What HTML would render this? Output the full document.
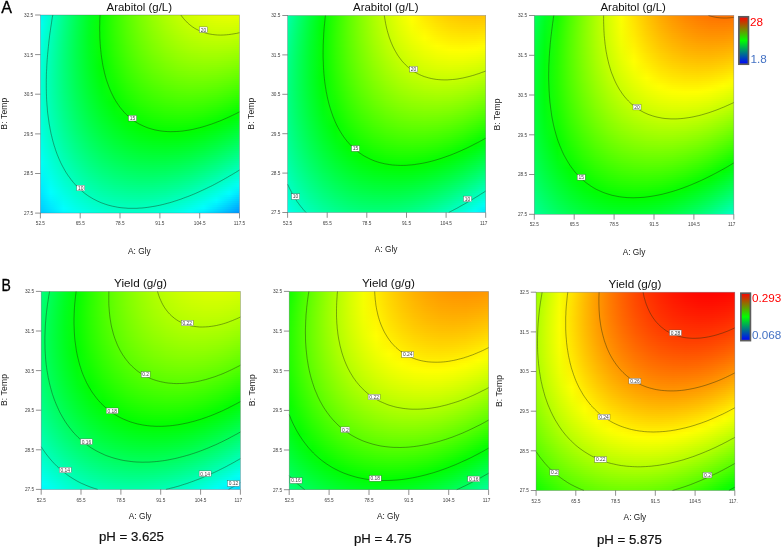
<!DOCTYPE html>
<html><head><meta charset="utf-8"><title>Response surface contour plots</title>
<style>
html,body{margin:0;padding:0;background:#fff}
body{width:783px;height:548px;position:relative;overflow:hidden;font-family:"Liberation Sans",sans-serif}
.f{position:absolute;overflow:hidden}
.f i{display:block;height:2px}
svg{position:absolute;left:0;top:0;will-change:transform}
text{font-family:"Liberation Sans",sans-serif}
.t{font-size:4.7px;fill:#3c3c3c}
.c{font-size:4.9px;fill:#444;text-anchor:middle}
.ax{font-size:8.3px;fill:#151515;text-anchor:middle}
.ay{font-size:8.6px;fill:#222;text-anchor:middle;letter-spacing:.1px}
.ti{font-size:11.45px;fill:#111;text-anchor:middle}
.tj{font-size:11.7px;fill:#111;text-anchor:middle}
.k{fill:none;stroke:#1a2a10;stroke-width:.55;stroke-opacity:.78}
.tk{stroke:#444;stroke-width:.6;fill:none}
.lb{fill:#fff;stroke:#444;stroke-width:.35}
.bd{fill:none;stroke:#556;stroke-width:.6;stroke-opacity:.55}
</style></head><body>
<div class="f" style="left:38px;top:13px;width:204px;height:203px"><i style="background:linear-gradient(90deg,#00f5ff,#00ffc9,#00ff8e,#00ff57,#00ff25,#0aff00,#33ff00,#59ff00,#7aff00,#97ff00,#b0ff00,#c4ff00,#d4ff00,#dfff00,#e7ff00,#e9ff00,#e8ff00)"></i><i style="background:linear-gradient(90deg,#00f7ff,#00ffc7,#00ff8d,#00ff56,#00ff24,#0aff00,#33ff00,#59ff00,#79ff00,#96ff00,#aeff00,#c2ff00,#d2ff00,#ddff00,#e4ff00,#e6ff00,#e5ff00)"></i><i style="background:linear-gradient(90deg,#00f9ff,#00ffc6,#00ff8b,#00ff55,#00ff23,#0aff00,#33ff00,#58ff00,#79ff00,#95ff00,#adff00,#c0ff00,#cfff00,#daff00,#e1ff00,#e3ff00,#e1ff00)"></i><i style="background:linear-gradient(90deg,#00fbff,#00ffc4,#00ff8a,#00ff54,#00ff23,#0aff00,#33ff00,#58ff00,#78ff00,#94ff00,#abff00,#beff00,#cdff00,#d8ff00,#deff00,#e0ff00,#ddff00)"></i><i style="background:linear-gradient(90deg,#00fdff,#00ffc3,#00ff89,#00ff54,#00ff22,#0aff00,#33ff00,#57ff00,#77ff00,#92ff00,#aaff00,#bcff00,#cbff00,#d5ff00,#dbff00,#ddff00,#daff00)"></i><i style="background:linear-gradient(90deg,#00ffff,#00ffc1,#00ff88,#00ff53,#00ff22,#0bff00,#33ff00,#56ff00,#76ff00,#91ff00,#a8ff00,#baff00,#c9ff00,#d2ff00,#d8ff00,#d9ff00,#d6ff00)"></i><i style="background:linear-gradient(90deg,#00fffd,#00ffc0,#00ff87,#00ff52,#00ff22,#0bff00,#32ff00,#56ff00,#75ff00,#90ff00,#a6ff00,#b8ff00,#c6ff00,#d0ff00,#d5ff00,#d6ff00,#d2ff00)"></i><i style="background:linear-gradient(90deg,#00fffc,#00ffbf,#00ff86,#00ff51,#00ff21,#0bff00,#32ff00,#55ff00,#74ff00,#8eff00,#a5ff00,#b6ff00,#c4ff00,#cdff00,#d2ff00,#d2ff00,#ceff00)"></i><i style="background:linear-gradient(90deg,#00fffa,#00ffbd,#00ff85,#00ff51,#00ff21,#0aff00,#32ff00,#54ff00,#73ff00,#8dff00,#a3ff00,#b4ff00,#c1ff00,#caff00,#cfff00,#cfff00,#cbff00)"></i><i style="background:linear-gradient(90deg,#00fff8,#00ffbc,#00ff84,#00ff50,#00ff21,#0aff00,#31ff00,#54ff00,#72ff00,#8bff00,#a1ff00,#b2ff00,#bfff00,#c7ff00,#cbff00,#cbff00,#c7ff00)"></i><i style="background:linear-gradient(90deg,#00fff7,#00ffbb,#00ff83,#00ff50,#00ff21,#0aff00,#31ff00,#53ff00,#70ff00,#8aff00,#9fff00,#b0ff00,#bcff00,#c4ff00,#c8ff00,#c8ff00,#c3ff00)"></i><i style="background:linear-gradient(90deg,#00fff5,#00ffba,#00ff82,#00ff4f,#00ff20,#0aff00,#30ff00,#52ff00,#6fff00,#88ff00,#9dff00,#adff00,#baff00,#c1ff00,#c5ff00,#c4ff00,#bfff00)"></i><i style="background:linear-gradient(90deg,#00fff4,#00ffb8,#00ff81,#00ff4f,#00ff20,#0aff00,#2fff00,#51ff00,#6eff00,#87ff00,#9bff00,#abff00,#b7ff00,#beff00,#c1ff00,#c0ff00,#bbff00)"></i><i style="background:linear-gradient(90deg,#00fff2,#00ffb7,#00ff81,#00ff4e,#00ff20,#09ff00,#2fff00,#50ff00,#6dff00,#85ff00,#99ff00,#a9ff00,#b4ff00,#bbff00,#beff00,#bcff00,#b6ff00)"></i><i style="background:linear-gradient(90deg,#00fff1,#00ffb6,#00ff80,#00ff4e,#00ff20,#09ff00,#2eff00,#4fff00,#6bff00,#83ff00,#97ff00,#a6ff00,#b1ff00,#b8ff00,#baff00,#b9ff00,#b2ff00)"></i><i style="background:linear-gradient(90deg,#00fff0,#00ffb5,#00ff7f,#00ff4e,#00ff20,#09ff00,#2dff00,#4eff00,#6aff00,#81ff00,#95ff00,#a4ff00,#aeff00,#b5ff00,#b7ff00,#b5ff00,#aeff00)"></i><i style="background:linear-gradient(90deg,#00ffef,#00ffb5,#00ff7f,#00ff4e,#00ff21,#08ff00,#2cff00,#4cff00,#68ff00,#7fff00,#93ff00,#a1ff00,#acff00,#b2ff00,#b3ff00,#b1ff00,#aaff00)"></i><i style="background:linear-gradient(90deg,#00ffed,#00ffb4,#00ff7e,#00ff4d,#00ff21,#08ff00,#2cff00,#4bff00,#67ff00,#7eff00,#90ff00,#9fff00,#a9ff00,#aeff00,#b0ff00,#adff00,#a5ff00)"></i><i style="background:linear-gradient(90deg,#00ffec,#00ffb3,#00ff7e,#00ff4d,#00ff21,#07ff00,#2bff00,#4aff00,#65ff00,#7cff00,#8eff00,#9cff00,#a6ff00,#abff00,#acff00,#a9ff00,#a1ff00)"></i><i style="background:linear-gradient(90deg,#00ffeb,#00ffb2,#00ff7e,#00ff4d,#00ff21,#06ff00,#2aff00,#49ff00,#63ff00,#7aff00,#8cff00,#99ff00,#a3ff00,#a8ff00,#a8ff00,#a5ff00,#9dff00)"></i><i style="background:linear-gradient(90deg,#00ffea,#00ffb1,#00ff7d,#00ff4d,#00ff22,#06ff00,#29ff00,#47ff00,#62ff00,#78ff00,#89ff00,#96ff00,#9fff00,#a4ff00,#a4ff00,#a0ff00,#98ff00)"></i><i style="background:linear-gradient(90deg,#00ffe9,#00ffb1,#00ff7d,#00ff4d,#00ff22,#05ff00,#28ff00,#46ff00,#60ff00,#75ff00,#87ff00,#94ff00,#9cff00,#a1ff00,#a1ff00,#9cff00,#94ff00)"></i><i style="background:linear-gradient(90deg,#00ffe8,#00ffb0,#00ff7d,#00ff4d,#00ff22,#04ff00,#26ff00,#44ff00,#5eff00,#73ff00,#84ff00,#91ff00,#99ff00,#9dff00,#9dff00,#98ff00,#8fff00)"></i><i style="background:linear-gradient(90deg,#00ffe7,#00ffb0,#00ff7c,#00ff4e,#00ff23,#03ff00,#25ff00,#43ff00,#5cff00,#71ff00,#82ff00,#8eff00,#96ff00,#99ff00,#99ff00,#94ff00,#8aff00)"></i><i style="background:linear-gradient(90deg,#00ffe6,#00ffaf,#00ff7c,#00ff4e,#00ff24,#02ff00,#24ff00,#41ff00,#5aff00,#6fff00,#7fff00,#8bff00,#93ff00,#96ff00,#95ff00,#8fff00,#86ff00)"></i><i style="background:linear-gradient(90deg,#00ffe6,#00ffaf,#00ff7c,#00ff4e,#00ff24,#01ff00,#23ff00,#40ff00,#58ff00,#6cff00,#7cff00,#88ff00,#8fff00,#92ff00,#91ff00,#8bff00,#81ff00)"></i><i style="background:linear-gradient(90deg,#00ffe5,#00ffae,#00ff7c,#00ff4e,#00ff25,#00ff00,#21ff00,#3eff00,#56ff00,#6aff00,#7aff00,#85ff00,#8cff00,#8eff00,#8dff00,#87ff00,#7cff00)"></i><i style="background:linear-gradient(90deg,#00ffe4,#00ffae,#00ff7c,#00ff4f,#00ff25,#00ff01,#20ff00,#3cff00,#54ff00,#68ff00,#77ff00,#82ff00,#88ff00,#8bff00,#88ff00,#82ff00,#77ff00)"></i><i style="background:linear-gradient(90deg,#00ffe4,#00ffae,#00ff7c,#00ff4f,#00ff26,#00ff02,#1eff00,#3aff00,#52ff00,#65ff00,#74ff00,#7fff00,#85ff00,#87ff00,#84ff00,#7dff00,#72ff00)"></i><i style="background:linear-gradient(90deg,#00ffe3,#00ffae,#00ff7c,#00ff50,#00ff27,#00ff03,#1dff00,#39ff00,#50ff00,#63ff00,#71ff00,#7bff00,#81ff00,#83ff00,#80ff00,#79ff00,#6dff00)"></i><i style="background:linear-gradient(90deg,#00ffe2,#00ffad,#00ff7d,#00ff50,#00ff28,#00ff04,#1bff00,#37ff00,#4dff00,#60ff00,#6eff00,#78ff00,#7eff00,#7fff00,#7cff00,#74ff00,#68ff00)"></i><i style="background:linear-gradient(90deg,#00ffe2,#00ffad,#00ff7d,#00ff51,#00ff29,#00ff05,#1aff00,#35ff00,#4bff00,#5dff00,#6bff00,#75ff00,#7aff00,#7bff00,#77ff00,#70ff00,#63ff00)"></i><i style="background:linear-gradient(90deg,#00ffe2,#00ffad,#00ff7d,#00ff51,#00ff2a,#00ff07,#18ff00,#33ff00,#49ff00,#5bff00,#68ff00,#71ff00,#76ff00,#77ff00,#73ff00,#6bff00,#5eff00)"></i><i style="background:linear-gradient(90deg,#00ffe1,#00ffad,#00ff7d,#00ff52,#00ff2b,#00ff08,#16ff00,#31ff00,#46ff00,#58ff00,#65ff00,#6eff00,#72ff00,#73ff00,#6eff00,#66ff00,#59ff00)"></i><i style="background:linear-gradient(90deg,#00ffe1,#00ffad,#00ff7e,#00ff53,#00ff2c,#00ff09,#15ff00,#2fff00,#44ff00,#55ff00,#62ff00,#6aff00,#6fff00,#6eff00,#6aff00,#61ff00,#54ff00)"></i><i style="background:linear-gradient(90deg,#00ffe1,#00ffad,#00ff7e,#00ff53,#00ff2d,#00ff0b,#13ff00,#2cff00,#41ff00,#52ff00,#5fff00,#67ff00,#6bff00,#6aff00,#65ff00,#5cff00,#4fff00)"></i><i style="background:linear-gradient(90deg,#00ffe0,#00ffad,#00ff7f,#00ff54,#00ff2e,#00ff0c,#11ff00,#2aff00,#3fff00,#4fff00,#5bff00,#63ff00,#67ff00,#66ff00,#61ff00,#57ff00,#49ff00)"></i><i style="background:linear-gradient(90deg,#00ffe0,#00ffae,#00ff7f,#00ff55,#00ff2f,#00ff0e,#0fff00,#28ff00,#3cff00,#4cff00,#58ff00,#60ff00,#63ff00,#62ff00,#5cff00,#52ff00,#44ff00)"></i><i style="background:linear-gradient(90deg,#00ffe0,#00ffae,#00ff80,#00ff56,#00ff31,#00ff10,#0dff00,#26ff00,#3aff00,#49ff00,#55ff00,#5cff00,#5fff00,#5dff00,#57ff00,#4dff00,#3fff00)"></i><i style="background:linear-gradient(90deg,#00ffe0,#00ffae,#00ff80,#00ff57,#00ff32,#00ff11,#0bff00,#23ff00,#37ff00,#46ff00,#51ff00,#58ff00,#5bff00,#59ff00,#53ff00,#48ff00,#39ff00)"></i><i style="background:linear-gradient(90deg,#00ffe0,#00ffae,#00ff81,#00ff58,#00ff33,#00ff13,#09ff00,#21ff00,#34ff00,#43ff00,#4eff00,#54ff00,#57ff00,#54ff00,#4eff00,#43ff00,#34ff00)"></i><i style="background:linear-gradient(90deg,#00ffe0,#00ffaf,#00ff82,#00ff59,#00ff35,#00ff15,#07ff00,#1eff00,#31ff00,#40ff00,#4bff00,#51ff00,#52ff00,#50ff00,#49ff00,#3eff00,#2eff00)"></i><i style="background:linear-gradient(90deg,#00ffe0,#00ffaf,#00ff83,#00ff5a,#00ff36,#00ff17,#05ff00,#1cff00,#2fff00,#3dff00,#47ff00,#4dff00,#4eff00,#4bff00,#44ff00,#38ff00,#28ff00)"></i><i style="background:linear-gradient(90deg,#00ffe0,#00ffb0,#00ff83,#00ff5b,#00ff38,#00ff18,#03ff00,#19ff00,#2cff00,#3aff00,#43ff00,#49ff00,#4aff00,#46ff00,#3fff00,#33ff00,#23ff00)"></i><i style="background:linear-gradient(90deg,#00ffe1,#00ffb0,#00ff84,#00ff5d,#00ff39,#00ff1a,#00ff00,#17ff00,#29ff00,#36ff00,#40ff00,#45ff00,#45ff00,#42ff00,#3aff00,#2eff00,#1dff00)"></i><i style="background:linear-gradient(90deg,#00ffe1,#00ffb1,#00ff85,#00ff5e,#00ff3b,#00ff1c,#00ff02,#14ff00,#26ff00,#33ff00,#3cff00,#41ff00,#41ff00,#3dff00,#35ff00,#28ff00,#17ff00)"></i><i style="background:linear-gradient(90deg,#00ffe1,#00ffb2,#00ff86,#00ff5f,#00ff3d,#00ff1e,#00ff04,#11ff00,#23ff00,#30ff00,#38ff00,#3dff00,#3dff00,#38ff00,#30ff00,#23ff00,#11ff00)"></i><i style="background:linear-gradient(90deg,#00ffe1,#00ffb2,#00ff87,#00ff61,#00ff3e,#00ff20,#00ff07,#0eff00,#1fff00,#2cff00,#34ff00,#38ff00,#38ff00,#33ff00,#2aff00,#1dff00,#0bff00)"></i><i style="background:linear-gradient(90deg,#00ffe2,#00ffb3,#00ff88,#00ff62,#00ff40,#00ff23,#00ff09,#0cff00,#1cff00,#29ff00,#31ff00,#34ff00,#34ff00,#2fff00,#25ff00,#18ff00,#06ff00)"></i><i style="background:linear-gradient(90deg,#00ffe2,#00ffb4,#00ff8a,#00ff64,#00ff42,#00ff25,#00ff0c,#09ff00,#19ff00,#25ff00,#2dff00,#30ff00,#2fff00,#2aff00,#20ff00,#12ff00,#00ff00)"></i><i style="background:linear-gradient(90deg,#00ffe3,#00ffb5,#00ff8b,#00ff65,#00ff44,#00ff27,#00ff0e,#06ff00,#16ff00,#21ff00,#29ff00,#2cff00,#2aff00,#25ff00,#1bff00,#0cff00,#00ff06)"></i><i style="background:linear-gradient(90deg,#00ffe3,#00ffb6,#00ff8c,#00ff67,#00ff46,#00ff29,#00ff11,#03ff00,#12ff00,#1eff00,#25ff00,#27ff00,#26ff00,#20ff00,#15ff00,#06ff00,#00ff0d)"></i><i style="background:linear-gradient(90deg,#00ffe4,#00ffb7,#00ff8d,#00ff68,#00ff48,#00ff2c,#00ff14,#00ff00,#0fff00,#1aff00,#21ff00,#23ff00,#21ff00,#1aff00,#10ff00,#01ff00,#00ff13)"></i><i style="background:linear-gradient(90deg,#00ffe5,#00ffb8,#00ff8f,#00ff6a,#00ff4a,#00ff2e,#00ff16,#00ff03,#0cff00,#16ff00,#1cff00,#1eff00,#1cff00,#15ff00,#0aff00,#00ff05,#00ff19)"></i><i style="background:linear-gradient(90deg,#00ffe5,#00ffb9,#00ff90,#00ff6c,#00ff4c,#00ff30,#00ff19,#00ff06,#08ff00,#12ff00,#18ff00,#1aff00,#17ff00,#10ff00,#05ff00,#00ff0b,#00ff1f)"></i><i style="background:linear-gradient(90deg,#00ffe6,#00ffba,#00ff92,#00ff6e,#00ff4e,#00ff33,#00ff1c,#00ff0a,#05ff00,#0fff00,#14ff00,#15ff00,#12ff00,#0bff00,#00ff01,#00ff11,#00ff25)"></i><i style="background:linear-gradient(90deg,#00ffe7,#00ffbb,#00ff93,#00ff70,#00ff50,#00ff36,#00ff1f,#00ff0d,#01ff00,#0bff00,#10ff00,#11ff00,#0dff00,#05ff00,#00ff07,#00ff17,#00ff2c)"></i><i style="background:linear-gradient(90deg,#00ffe8,#00ffbc,#00ff95,#00ff71,#00ff53,#00ff38,#00ff22,#00ff10,#00ff03,#07ff00,#0bff00,#0cff00,#08ff00,#00ff00,#00ff0c,#00ff1d,#00ff32)"></i><i style="background:linear-gradient(90deg,#00ffe9,#00ffbd,#00ff96,#00ff73,#00ff55,#00ff3b,#00ff25,#00ff13,#00ff06,#03ff00,#07ff00,#07ff00,#03ff00,#00ff05,#00ff12,#00ff23,#00ff39)"></i><i style="background:linear-gradient(90deg,#00ffea,#00ffbf,#00ff98,#00ff75,#00ff57,#00ff3d,#00ff28,#00ff17,#00ff0a,#00ff02,#03ff00,#03ff00,#00ff02,#00ff0b,#00ff18,#00ff29,#00ff3f)"></i><i style="background:linear-gradient(90deg,#00ffeb,#00ffc0,#00ff9a,#00ff77,#00ff5a,#00ff40,#00ff2b,#00ff1a,#00ff0e,#00ff06,#00ff02,#00ff02,#00ff07,#00ff10,#00ff1e,#00ff30,#00ff46)"></i><i style="background:linear-gradient(90deg,#00ffec,#00ffc1,#00ff9b,#00ff7a,#00ff5c,#00ff43,#00ff2e,#00ff1e,#00ff12,#00ff0a,#00ff06,#00ff07,#00ff0c,#00ff16,#00ff24,#00ff36,#00ff4c)"></i><i style="background:linear-gradient(90deg,#00ffed,#00ffc3,#00ff9d,#00ff7c,#00ff5f,#00ff46,#00ff31,#00ff21,#00ff16,#00ff0e,#00ff0b,#00ff0c,#00ff12,#00ff1b,#00ff2a,#00ff3c,#00ff53)"></i><i style="background:linear-gradient(90deg,#00ffee,#00ffc4,#00ff9f,#00ff7e,#00ff61,#00ff49,#00ff35,#00ff25,#00ff19,#00ff12,#00ff10,#00ff11,#00ff17,#00ff21,#00ff30,#00ff43,#00ff5a)"></i><i style="background:linear-gradient(90deg,#00ffef,#00ffc6,#00ffa1,#00ff80,#00ff64,#00ff4c,#00ff38,#00ff29,#00ff1d,#00ff17,#00ff14,#00ff16,#00ff1c,#00ff27,#00ff36,#00ff49,#00ff60)"></i><i style="background:linear-gradient(90deg,#00fff1,#00ffc8,#00ffa3,#00ff83,#00ff67,#00ff4f,#00ff3b,#00ff2c,#00ff22,#00ff1b,#00ff19,#00ff1b,#00ff22,#00ff2d,#00ff3c,#00ff4f,#00ff67)"></i><i style="background:linear-gradient(90deg,#00fff2,#00ffc9,#00ffa5,#00ff85,#00ff69,#00ff52,#00ff3f,#00ff30,#00ff26,#00ff20,#00ff1e,#00ff20,#00ff27,#00ff32,#00ff42,#00ff56,#00ff6e)"></i><i style="background:linear-gradient(90deg,#00fff3,#00ffcb,#00ffa7,#00ff87,#00ff6c,#00ff55,#00ff42,#00ff34,#00ff2a,#00ff24,#00ff23,#00ff26,#00ff2d,#00ff38,#00ff48,#00ff5d,#00ff75)"></i><i style="background:linear-gradient(90deg,#00fff5,#00ffcd,#00ffa9,#00ff8a,#00ff6f,#00ff58,#00ff46,#00ff38,#00ff2e,#00ff29,#00ff28,#00ff2b,#00ff32,#00ff3e,#00ff4f,#00ff63,#00ff7c)"></i><i style="background:linear-gradient(90deg,#00fff6,#00ffcf,#00ffab,#00ff8c,#00ff72,#00ff5b,#00ff49,#00ff3c,#00ff32,#00ff2d,#00ff2c,#00ff30,#00ff38,#00ff44,#00ff55,#00ff6a,#00ff83)"></i><i style="background:linear-gradient(90deg,#00fff8,#00ffd1,#00ffae,#00ff8f,#00ff75,#00ff5f,#00ff4d,#00ff40,#00ff37,#00ff32,#00ff31,#00ff35,#00ff3e,#00ff4a,#00ff5b,#00ff71,#00ff8a)"></i><i style="background:linear-gradient(90deg,#00fffa,#00ffd3,#00ffb0,#00ff92,#00ff78,#00ff62,#00ff51,#00ff44,#00ff3b,#00ff37,#00ff37,#00ff3b,#00ff43,#00ff50,#00ff62,#00ff77,#00ff91)"></i><i style="background:linear-gradient(90deg,#00fffb,#00ffd5,#00ffb2,#00ff94,#00ff7b,#00ff65,#00ff54,#00ff48,#00ff3f,#00ff3b,#00ff3c,#00ff40,#00ff49,#00ff57,#00ff68,#00ff7e,#00ff98)"></i><i style="background:linear-gradient(90deg,#00fffd,#00ffd7,#00ffb5,#00ff97,#00ff7e,#00ff69,#00ff58,#00ff4c,#00ff44,#00ff40,#00ff41,#00ff46,#00ff4f,#00ff5d,#00ff6f,#00ff85,#00ffa0)"></i><i style="background:linear-gradient(90deg,#00ffff,#00ffd9,#00ffb7,#00ff9a,#00ff81,#00ff6c,#00ff5c,#00ff50,#00ff48,#00ff45,#00ff46,#00ff4b,#00ff55,#00ff63,#00ff75,#00ff8c,#00ffa7)"></i><i style="background:linear-gradient(90deg,#00feff,#00ffdb,#00ffba,#00ff9d,#00ff84,#00ff70,#00ff60,#00ff54,#00ff4d,#00ff4a,#00ff4b,#00ff51,#00ff5b,#00ff69,#00ff7c,#00ff93,#00ffae)"></i><i style="background:linear-gradient(90deg,#00fcff,#00ffdd,#00ffbc,#00ffa0,#00ff87,#00ff73,#00ff64,#00ff58,#00ff52,#00ff4f,#00ff51,#00ff57,#00ff61,#00ff70,#00ff83,#00ff9a,#00ffb6)"></i><i style="background:linear-gradient(90deg,#00faff,#00ffdf,#00ffbf,#00ffa3,#00ff8b,#00ff77,#00ff68,#00ff5d,#00ff56,#00ff54,#00ff56,#00ff5c,#00ff67,#00ff76,#00ff89,#00ffa1,#00ffbd)"></i><i style="background:linear-gradient(90deg,#00f8ff,#00ffe2,#00ffc1,#00ffa6,#00ff8e,#00ff7b,#00ff6c,#00ff61,#00ff5b,#00ff59,#00ff5b,#00ff62,#00ff6d,#00ff7c,#00ff90,#00ffa8,#00ffc5)"></i><i style="background:linear-gradient(90deg,#00f6ff,#00ffe4,#00ffc4,#00ffa9,#00ff91,#00ff7e,#00ff70,#00ff66,#00ff60,#00ff5e,#00ff61,#00ff68,#00ff73,#00ff83,#00ff97,#00ffaf,#00ffcc)"></i><i style="background:linear-gradient(90deg,#00f4ff,#00ffe6,#00ffc7,#00ffac,#00ff95,#00ff82,#00ff74,#00ff6a,#00ff65,#00ff63,#00ff66,#00ff6e,#00ff79,#00ff8a,#00ff9e,#00ffb7,#00ffd4)"></i><i style="background:linear-gradient(90deg,#00f2ff,#00ffe9,#00ffca,#00ffaf,#00ff98,#00ff86,#00ff78,#00ff6f,#00ff69,#00ff68,#00ff6c,#00ff74,#00ff80,#00ff90,#00ffa5,#00ffbe,#00ffdb)"></i><i style="background:linear-gradient(90deg,#00efff,#00ffeb,#00ffcd,#00ffb2,#00ff9c,#00ff8a,#00ff7c,#00ff73,#00ff6e,#00ff6e,#00ff72,#00ff7a,#00ff86,#00ff97,#00ffac,#00ffc5,#00ffe3)"></i><i style="background:linear-gradient(90deg,#00edff,#00ffee,#00ffcf,#00ffb5,#00ff9f,#00ff8e,#00ff81,#00ff78,#00ff73,#00ff73,#00ff77,#00ff80,#00ff8c,#00ff9e,#00ffb3,#00ffcd,#00ffeb)"></i><i style="background:linear-gradient(90deg,#00ebff,#00fff1,#00ffd2,#00ffb9,#00ffa3,#00ff92,#00ff85,#00ff7d,#00ff78,#00ff78,#00ff7d,#00ff86,#00ff93,#00ffa4,#00ffba,#00ffd4,#00fff3)"></i><i style="background:linear-gradient(90deg,#00e9ff,#00fff3,#00ffd5,#00ffbc,#00ffa7,#00ff96,#00ff89,#00ff81,#00ff7d,#00ff7e,#00ff83,#00ff8c,#00ff99,#00ffab,#00ffc1,#00ffdc,#00fffa)"></i><i style="background:linear-gradient(90deg,#00e6ff,#00fff6,#00ffd8,#00ffbf,#00ffab,#00ff9a,#00ff8e,#00ff86,#00ff83,#00ff83,#00ff89,#00ff92,#00ffa0,#00ffb2,#00ffc8,#00ffe3,#00fcff)"></i><i style="background:linear-gradient(90deg,#00e4ff,#00fff9,#00ffdc,#00ffc3,#00ffae,#00ff9e,#00ff92,#00ff8b,#00ff88,#00ff89,#00ff8e,#00ff98,#00ffa6,#00ffb9,#00ffd0,#00ffeb,#00f4ff)"></i><i style="background:linear-gradient(90deg,#00e1ff,#00fffc,#00ffdf,#00ffc6,#00ffb2,#00ffa2,#00ff97,#00ff90,#00ff8d,#00ff8f,#00ff94,#00ff9f,#00ffad,#00ffc0,#00ffd7,#00fff2,#00ecff)"></i><i style="background:linear-gradient(90deg,#00dfff,#00fffe,#00ffe2,#00ffca,#00ffb6,#00ffa7,#00ff9c,#00ff95,#00ff92,#00ff94,#00ff9a,#00ffa5,#00ffb4,#00ffc7,#00ffde,#00fffa,#00e4ff)"></i><i style="background:linear-gradient(90deg,#00dcff,#00fdff,#00ffe5,#00ffcd,#00ffba,#00ffab,#00ffa0,#00ff9a,#00ff98,#00ff9a,#00ffa0,#00ffab,#00ffba,#00ffce,#00ffe6,#00fcff,#00dcff)"></i><i style="background:linear-gradient(90deg,#00daff,#00faff,#00ffe9,#00ffd1,#00ffbe,#00ffaf,#00ffa5,#00ff9f,#00ff9d,#00ffa0,#00ffa6,#00ffb2,#00ffc1,#00ffd5,#00ffed,#00f4ff,#00d3ff)"></i><i style="background:linear-gradient(90deg,#00d7ff,#00f7ff,#00ffec,#00ffd5,#00ffc2,#00ffb4,#00ffaa,#00ffa4,#00ffa2,#00ffa5,#00ffad,#00ffb8,#00ffc8,#00ffdc,#00fff5,#00ecff,#00cbff)"></i><i style="background:linear-gradient(90deg,#00d4ff,#00f4ff,#00ffef,#00ffd9,#00ffc6,#00ffb8,#00ffae,#00ffa9,#00ffa8,#00ffab,#00ffb3,#00ffbf,#00ffcf,#00ffe3,#00fffc,#00e4ff,#00c3ff)"></i><i style="background:linear-gradient(90deg,#00d1ff,#00f0ff,#00fff3,#00ffdc,#00ffca,#00ffbd,#00ffb3,#00ffae,#00ffae,#00ffb1,#00ffb9,#00ffc5,#00ffd6,#00ffeb,#00faff,#00dcff,#00bbff)"></i><i style="background:linear-gradient(90deg,#00cfff,#00edff,#00fff6,#00ffe0,#00ffcf,#00ffc1,#00ffb8,#00ffb4,#00ffb3,#00ffb7,#00ffbf,#00ffcc,#00ffdd,#00fff2,#00f2ff,#00d4ff,#00b2ff)"></i><i style="background:linear-gradient(90deg,#00ccff,#00eaff,#00fffa,#00ffe4,#00ffd3,#00ffc6,#00ffbd,#00ffb9,#00ffb9,#00ffbd,#00ffc6,#00ffd3,#00ffe4,#00fff9,#00ebff,#00ccff,#00aaff)"></i><i style="background:linear-gradient(90deg,#00c9ff,#00e7ff,#00fffe,#00ffe8,#00ffd7,#00ffcb,#00ffc2,#00ffbe,#00ffbe,#00ffc3,#00ffcc,#00ffd9,#00ffeb,#00fdff,#00e3ff,#00c4ff,#00a1ff)"></i><i style="background:linear-gradient(90deg,#00c6ff,#00e3ff,#00fdff,#00ffec,#00ffdc,#00ffcf,#00ffc7,#00ffc4,#00ffc4,#00ffc9,#00ffd3,#00ffe0,#00fff2,#00f6ff,#00dbff,#00bcff,#0099ff)"></i><i style="background:linear-gradient(90deg,#00c3ff,#00e0ff,#00f9ff,#00fff0,#00ffe0,#00ffd4,#00ffcc,#00ffc9,#00ffca,#00ffcf,#00ffd9,#00ffe7,#00fff9,#00eeff,#00d3ff,#00b4ff,#0090ff)"></i><i style="background:linear-gradient(90deg,#00c0ff,#00ddff,#00f5ff,#00fff5,#00ffe5,#00ffd9,#00ffd2,#00ffcf,#00ffd0,#00ffd6,#00ffe0,#00ffee,#00fdff,#00e7ff,#00cbff,#00acff,#0088ff)"></i><i style="background:linear-gradient(90deg,#00bcff,#00d9ff,#00f1ff,#00fff9,#00ffe9,#00ffde,#00ffd7,#00ffd4,#00ffd6,#00ffdc,#00ffe6,#00fff5,#00f6ff,#00dfff,#00c3ff,#00a3ff,#007fff)"></i></div>
<div class="f" style="left:285px;top:13px;width:203px;height:202px"><i style="background:linear-gradient(90deg,#00ffb9,#00ff79,#00ff3e,#00ff06,#2cff00,#5bff00,#85ff00,#abff00,#cdff00,#eaff00,#fffb00,#ffe700,#ffd700,#ffcb00,#ffc300,#ffc000,#ffc100)"></i><i style="background:linear-gradient(90deg,#00ffb7,#00ff77,#00ff3c,#00ff05,#2dff00,#5bff00,#85ff00,#abff00,#ccff00,#e9ff00,#fffd00,#ffe900,#ffd900,#ffcd00,#ffc600,#ffc300,#ffc500)"></i><i style="background:linear-gradient(90deg,#00ffb5,#00ff76,#00ff3b,#00ff04,#2eff00,#5cff00,#85ff00,#aaff00,#cbff00,#e7ff00,#fffe00,#ffea00,#ffdb00,#ffd000,#ffc900,#ffc600,#ffc800)"></i><i style="background:linear-gradient(90deg,#00ffb3,#00ff74,#00ff3a,#00ff04,#2eff00,#5cff00,#85ff00,#aaff00,#caff00,#e6ff00,#feff00,#ffec00,#ffdd00,#ffd200,#ffcc00,#ffca00,#ffcc00)"></i><i style="background:linear-gradient(90deg,#00ffb1,#00ff73,#00ff38,#00ff03,#2fff00,#5cff00,#85ff00,#a9ff00,#c9ff00,#e5ff00,#fdff00,#ffee00,#ffdf00,#ffd500,#ffcf00,#ffcd00,#ffcf00)"></i><i style="background:linear-gradient(90deg,#00ffaf,#00ff71,#00ff37,#00ff02,#2fff00,#5cff00,#84ff00,#a9ff00,#c8ff00,#e4ff00,#fbff00,#fff000,#ffe200,#ffd800,#ffd200,#ffd000,#ffd300)"></i><i style="background:linear-gradient(90deg,#00ffad,#00ff70,#00ff36,#00ff01,#30ff00,#5cff00,#84ff00,#a8ff00,#c7ff00,#e2ff00,#f9ff00,#fff200,#ffe400,#ffda00,#ffd500,#ffd400,#ffd700)"></i><i style="background:linear-gradient(90deg,#00ffac,#00ff6e,#00ff35,#00ff00,#30ff00,#5cff00,#84ff00,#a7ff00,#c6ff00,#e1ff00,#f7ff00,#fff400,#ffe700,#ffdd00,#ffd800,#ffd700,#ffdb00)"></i><i style="background:linear-gradient(90deg,#00ffaa,#00ff6d,#00ff34,#00ff00,#30ff00,#5cff00,#83ff00,#a6ff00,#c5ff00,#e0ff00,#f6ff00,#fff700,#ffe900,#ffe000,#ffdb00,#ffdb00,#ffdf00)"></i><i style="background:linear-gradient(90deg,#00ffa8,#00ff6c,#00ff33,#01ff00,#30ff00,#5cff00,#83ff00,#a6ff00,#c4ff00,#deff00,#f4ff00,#fff900,#ffec00,#ffe300,#ffde00,#ffde00,#ffe300)"></i><i style="background:linear-gradient(90deg,#00ffa7,#00ff6a,#00ff32,#01ff00,#31ff00,#5cff00,#82ff00,#a5ff00,#c3ff00,#ddff00,#f2ff00,#fffb00,#ffee00,#ffe600,#ffe200,#ffe200,#ffe700)"></i><i style="background:linear-gradient(90deg,#00ffa5,#00ff69,#00ff32,#02ff00,#31ff00,#5bff00,#82ff00,#a4ff00,#c2ff00,#dbff00,#f0ff00,#fffd00,#fff100,#ffe900,#ffe500,#ffe600,#ffeb00)"></i><i style="background:linear-gradient(90deg,#00ffa4,#00ff68,#00ff31,#02ff00,#31ff00,#5bff00,#81ff00,#a3ff00,#c0ff00,#d9ff00,#eeff00,#feff00,#fff400,#ffec00,#ffe900,#ffe900,#ffef00)"></i><i style="background:linear-gradient(90deg,#00ffa2,#00ff67,#00ff30,#03ff00,#31ff00,#5bff00,#81ff00,#a2ff00,#bfff00,#d8ff00,#ecff00,#fcff00,#fff600,#ffef00,#ffec00,#ffed00,#fff300)"></i><i style="background:linear-gradient(90deg,#00ffa1,#00ff66,#00ff2f,#03ff00,#31ff00,#5aff00,#80ff00,#a1ff00,#bdff00,#d6ff00,#eaff00,#f9ff00,#fff900,#fff200,#ffef00,#fff100,#fff700)"></i><i style="background:linear-gradient(90deg,#00ffa0,#00ff65,#00ff2f,#03ff00,#31ff00,#5aff00,#7fff00,#a0ff00,#bcff00,#d4ff00,#e8ff00,#f7ff00,#fffc00,#fff500,#fff300,#fff500,#fffb00)"></i><i style="background:linear-gradient(90deg,#00ff9e,#00ff64,#00ff2e,#03ff00,#31ff00,#5aff00,#7eff00,#9eff00,#baff00,#d2ff00,#e5ff00,#f4ff00,#ffff00,#fff900,#fff700,#fff900,#feff00)"></i><i style="background:linear-gradient(90deg,#00ff9d,#00ff63,#00ff2e,#04ff00,#30ff00,#59ff00,#7dff00,#9dff00,#b9ff00,#d0ff00,#e3ff00,#f2ff00,#fcff00,#fffc00,#fffa00,#fffd00,#faff00)"></i><i style="background:linear-gradient(90deg,#00ff9c,#00ff63,#00ff2d,#04ff00,#30ff00,#58ff00,#7cff00,#9cff00,#b7ff00,#ceff00,#e1ff00,#efff00,#f9ff00,#ffff00,#fffe00,#fdff00,#f6ff00)"></i><i style="background:linear-gradient(90deg,#00ff9b,#00ff62,#00ff2d,#04ff00,#30ff00,#58ff00,#7bff00,#9bff00,#b6ff00,#ccff00,#deff00,#ecff00,#f6ff00,#fbff00,#fcff00,#f9ff00,#f1ff00)"></i><i style="background:linear-gradient(90deg,#00ff9a,#00ff61,#00ff2d,#04ff00,#30ff00,#57ff00,#7aff00,#99ff00,#b4ff00,#caff00,#dcff00,#eaff00,#f3ff00,#f8ff00,#f8ff00,#f5ff00,#edff00)"></i><i style="background:linear-gradient(90deg,#00ff99,#00ff60,#00ff2c,#04ff00,#2fff00,#56ff00,#79ff00,#98ff00,#b2ff00,#c8ff00,#daff00,#e7ff00,#f0ff00,#f4ff00,#f5ff00,#f1ff00,#e8ff00)"></i><i style="background:linear-gradient(90deg,#00ff98,#00ff60,#00ff2c,#04ff00,#2fff00,#56ff00,#78ff00,#96ff00,#b0ff00,#c6ff00,#d7ff00,#e4ff00,#edff00,#f1ff00,#f1ff00,#ecff00,#e4ff00)"></i><i style="background:linear-gradient(90deg,#00ff97,#00ff5f,#00ff2c,#03ff00,#2eff00,#55ff00,#77ff00,#95ff00,#aeff00,#c4ff00,#d4ff00,#e1ff00,#e9ff00,#edff00,#edff00,#e8ff00,#dfff00)"></i><i style="background:linear-gradient(90deg,#00ff96,#00ff5f,#00ff2c,#03ff00,#2eff00,#54ff00,#76ff00,#93ff00,#acff00,#c1ff00,#d2ff00,#deff00,#e6ff00,#e9ff00,#e9ff00,#e4ff00,#daff00)"></i><i style="background:linear-gradient(90deg,#00ff96,#00ff5e,#00ff2c,#03ff00,#2dff00,#53ff00,#74ff00,#92ff00,#aaff00,#bfff00,#cfff00,#dbff00,#e3ff00,#e6ff00,#e5ff00,#dfff00,#d5ff00)"></i><i style="background:linear-gradient(90deg,#00ff95,#00ff5e,#00ff2c,#03ff00,#2cff00,#52ff00,#73ff00,#90ff00,#a8ff00,#bdff00,#ccff00,#d8ff00,#dfff00,#e2ff00,#e0ff00,#dbff00,#d1ff00)"></i><i style="background:linear-gradient(90deg,#00ff94,#00ff5e,#00ff2c,#02ff00,#2cff00,#51ff00,#72ff00,#8eff00,#a6ff00,#baff00,#caff00,#d5ff00,#dcff00,#deff00,#dcff00,#d6ff00,#ccff00)"></i><i style="background:linear-gradient(90deg,#00ff93,#00ff5d,#00ff2c,#02ff00,#2bff00,#50ff00,#70ff00,#8cff00,#a4ff00,#b8ff00,#c7ff00,#d2ff00,#d8ff00,#daff00,#d8ff00,#d2ff00,#c7ff00)"></i><i style="background:linear-gradient(90deg,#00ff93,#00ff5d,#00ff2c,#01ff00,#2aff00,#4fff00,#6fff00,#8aff00,#a2ff00,#b5ff00,#c4ff00,#ceff00,#d4ff00,#d6ff00,#d4ff00,#cdff00,#c2ff00)"></i><i style="background:linear-gradient(90deg,#00ff92,#00ff5d,#00ff2c,#01ff00,#29ff00,#4dff00,#6dff00,#89ff00,#a0ff00,#b2ff00,#c1ff00,#cbff00,#d1ff00,#d2ff00,#cfff00,#c8ff00,#bdff00)"></i><i style="background:linear-gradient(90deg,#00ff92,#00ff5d,#00ff2c,#00ff00,#28ff00,#4cff00,#6cff00,#87ff00,#9dff00,#b0ff00,#beff00,#c8ff00,#cdff00,#ceff00,#cbff00,#c4ff00,#b8ff00)"></i><i style="background:linear-gradient(90deg,#00ff91,#00ff5d,#00ff2c,#00ff00,#27ff00,#4bff00,#6aff00,#85ff00,#9bff00,#adff00,#bbff00,#c4ff00,#c9ff00,#caff00,#c7ff00,#bfff00,#b2ff00)"></i><i style="background:linear-gradient(90deg,#00ff91,#00ff5d,#00ff2d,#00ff01,#26ff00,#49ff00,#68ff00,#83ff00,#99ff00,#aaff00,#b8ff00,#c1ff00,#c6ff00,#c6ff00,#c2ff00,#baff00,#adff00)"></i><i style="background:linear-gradient(90deg,#00ff91,#00ff5d,#00ff2d,#00ff02,#25ff00,#48ff00,#66ff00,#80ff00,#96ff00,#a8ff00,#b5ff00,#bdff00,#c2ff00,#c2ff00,#beff00,#b5ff00,#a8ff00)"></i><i style="background:linear-gradient(90deg,#00ff90,#00ff5d,#00ff2d,#00ff02,#24ff00,#47ff00,#65ff00,#7eff00,#94ff00,#a5ff00,#b1ff00,#baff00,#beff00,#beff00,#b9ff00,#b0ff00,#a3ff00)"></i><i style="background:linear-gradient(90deg,#00ff90,#00ff5d,#00ff2e,#00ff03,#23ff00,#45ff00,#63ff00,#7cff00,#91ff00,#a2ff00,#aeff00,#b6ff00,#baff00,#b9ff00,#b4ff00,#abff00,#9dff00)"></i><i style="background:linear-gradient(90deg,#00ff90,#00ff5d,#00ff2f,#00ff04,#22ff00,#43ff00,#61ff00,#7aff00,#8eff00,#9fff00,#abff00,#b3ff00,#b6ff00,#b5ff00,#b0ff00,#a6ff00,#98ff00)"></i><i style="background:linear-gradient(90deg,#00ff90,#00ff5d,#00ff2f,#00ff05,#21ff00,#42ff00,#5fff00,#77ff00,#8cff00,#9cff00,#a7ff00,#afff00,#b2ff00,#b0ff00,#abff00,#a1ff00,#93ff00)"></i><i style="background:linear-gradient(90deg,#00ff90,#00ff5e,#00ff30,#00ff06,#1fff00,#40ff00,#5dff00,#75ff00,#89ff00,#99ff00,#a4ff00,#abff00,#aeff00,#acff00,#a6ff00,#9cff00,#8dff00)"></i><i style="background:linear-gradient(90deg,#00ff90,#00ff5e,#00ff30,#00ff07,#1eff00,#3eff00,#5bff00,#73ff00,#86ff00,#96ff00,#a1ff00,#a7ff00,#aaff00,#a8ff00,#a1ff00,#97ff00,#88ff00)"></i><i style="background:linear-gradient(90deg,#00ff90,#00ff5e,#00ff31,#00ff08,#1cff00,#3dff00,#59ff00,#70ff00,#83ff00,#92ff00,#9dff00,#a3ff00,#a5ff00,#a3ff00,#9cff00,#91ff00,#82ff00)"></i><i style="background:linear-gradient(90deg,#00ff90,#00ff5f,#00ff32,#00ff09,#1bff00,#3bff00,#56ff00,#6eff00,#81ff00,#8fff00,#99ff00,#9fff00,#a1ff00,#9eff00,#97ff00,#8cff00,#7cff00)"></i><i style="background:linear-gradient(90deg,#00ff90,#00ff5f,#00ff33,#00ff0b,#19ff00,#39ff00,#54ff00,#6bff00,#7eff00,#8cff00,#96ff00,#9bff00,#9dff00,#9aff00,#92ff00,#87ff00,#77ff00)"></i><i style="background:linear-gradient(90deg,#00ff90,#00ff60,#00ff34,#00ff0c,#18ff00,#37ff00,#52ff00,#68ff00,#7bff00,#89ff00,#92ff00,#97ff00,#98ff00,#95ff00,#8dff00,#81ff00,#71ff00)"></i><i style="background:linear-gradient(90deg,#00ff91,#00ff61,#00ff35,#00ff0d,#16ff00,#35ff00,#50ff00,#66ff00,#78ff00,#85ff00,#8eff00,#93ff00,#94ff00,#90ff00,#88ff00,#7cff00,#6bff00)"></i><i style="background:linear-gradient(90deg,#00ff91,#00ff61,#00ff36,#00ff0e,#14ff00,#33ff00,#4dff00,#63ff00,#75ff00,#82ff00,#8bff00,#8fff00,#8fff00,#8bff00,#83ff00,#76ff00,#65ff00)"></i><i style="background:linear-gradient(90deg,#00ff91,#00ff62,#00ff37,#00ff10,#13ff00,#31ff00,#4bff00,#60ff00,#71ff00,#7eff00,#87ff00,#8bff00,#8bff00,#86ff00,#7eff00,#71ff00,#5fff00)"></i><i style="background:linear-gradient(90deg,#00ff92,#00ff63,#00ff38,#00ff11,#11ff00,#2fff00,#48ff00,#5dff00,#6eff00,#7bff00,#83ff00,#87ff00,#86ff00,#82ff00,#78ff00,#6bff00,#59ff00)"></i><i style="background:linear-gradient(90deg,#00ff92,#00ff63,#00ff39,#00ff13,#0fff00,#2cff00,#46ff00,#5aff00,#6bff00,#77ff00,#7fff00,#82ff00,#82ff00,#7dff00,#73ff00,#65ff00,#53ff00)"></i><i style="background:linear-gradient(90deg,#00ff93,#00ff64,#00ff3a,#00ff14,#0dff00,#2aff00,#43ff00,#57ff00,#68ff00,#73ff00,#7bff00,#7eff00,#7dff00,#78ff00,#6eff00,#60ff00,#4dff00)"></i><i style="background:linear-gradient(90deg,#00ff93,#00ff65,#00ff3b,#00ff16,#0bff00,#28ff00,#40ff00,#54ff00,#64ff00,#70ff00,#77ff00,#7aff00,#78ff00,#72ff00,#68ff00,#5aff00,#47ff00)"></i><i style="background:linear-gradient(90deg,#00ff94,#00ff66,#00ff3d,#00ff18,#09ff00,#26ff00,#3eff00,#51ff00,#61ff00,#6cff00,#73ff00,#75ff00,#73ff00,#6dff00,#63ff00,#54ff00,#41ff00)"></i><i style="background:linear-gradient(90deg,#00ff95,#00ff67,#00ff3e,#00ff19,#07ff00,#23ff00,#3bff00,#4eff00,#5dff00,#68ff00,#6fff00,#71ff00,#6fff00,#68ff00,#5dff00,#4eff00,#3bff00)"></i><i style="background:linear-gradient(90deg,#00ff95,#00ff68,#00ff40,#00ff1b,#05ff00,#21ff00,#38ff00,#4bff00,#5aff00,#64ff00,#6aff00,#6cff00,#6aff00,#63ff00,#58ff00,#48ff00,#34ff00)"></i><i style="background:linear-gradient(90deg,#00ff96,#00ff69,#00ff41,#00ff1d,#03ff00,#1eff00,#35ff00,#48ff00,#56ff00,#60ff00,#66ff00,#68ff00,#65ff00,#5eff00,#52ff00,#42ff00,#2eff00)"></i><i style="background:linear-gradient(90deg,#00ff97,#00ff6b,#00ff43,#00ff1f,#00ff00,#1cff00,#32ff00,#45ff00,#53ff00,#5dff00,#62ff00,#63ff00,#60ff00,#58ff00,#4cff00,#3cff00,#28ff00)"></i><i style="background:linear-gradient(90deg,#00ff98,#00ff6c,#00ff44,#00ff21,#00ff02,#19ff00,#2fff00,#41ff00,#4fff00,#58ff00,#5eff00,#5eff00,#5bff00,#53ff00,#47ff00,#36ff00,#21ff00)"></i><i style="background:linear-gradient(90deg,#00ff99,#00ff6d,#00ff46,#00ff23,#00ff04,#16ff00,#2cff00,#3eff00,#4bff00,#54ff00,#59ff00,#5aff00,#56ff00,#4dff00,#41ff00,#30ff00,#1bff00)"></i><i style="background:linear-gradient(90deg,#00ff9a,#00ff6f,#00ff48,#00ff25,#00ff06,#14ff00,#29ff00,#3bff00,#48ff00,#50ff00,#55ff00,#55ff00,#50ff00,#48ff00,#3bff00,#2aff00,#14ff00)"></i><i style="background:linear-gradient(90deg,#00ff9b,#00ff70,#00ff49,#00ff27,#00ff09,#11ff00,#26ff00,#37ff00,#44ff00,#4cff00,#50ff00,#50ff00,#4bff00,#42ff00,#35ff00,#23ff00,#0dff00)"></i><i style="background:linear-gradient(90deg,#00ff9c,#00ff71,#00ff4b,#00ff29,#00ff0b,#0eff00,#23ff00,#34ff00,#40ff00,#48ff00,#4cff00,#4bff00,#46ff00,#3dff00,#2fff00,#1dff00,#07ff00)"></i><i style="background:linear-gradient(90deg,#00ff9d,#00ff73,#00ff4d,#00ff2b,#00ff0e,#0bff00,#20ff00,#30ff00,#3cff00,#44ff00,#47ff00,#46ff00,#41ff00,#37ff00,#29ff00,#17ff00,#00ff00)"></i><i style="background:linear-gradient(90deg,#00ff9e,#00ff74,#00ff4f,#00ff2d,#00ff11,#08ff00,#1cff00,#2cff00,#38ff00,#3fff00,#42ff00,#41ff00,#3bff00,#31ff00,#23ff00,#10ff00,#00ff07)"></i><i style="background:linear-gradient(90deg,#00ffa0,#00ff76,#00ff51,#00ff30,#00ff13,#05ff00,#19ff00,#29ff00,#34ff00,#3bff00,#3eff00,#3cff00,#36ff00,#2cff00,#1dff00,#0aff00,#00ff0d)"></i><i style="background:linear-gradient(90deg,#00ffa1,#00ff78,#00ff53,#00ff32,#00ff16,#02ff00,#16ff00,#25ff00,#30ff00,#37ff00,#39ff00,#37ff00,#30ff00,#26ff00,#17ff00,#03ff00,#00ff14)"></i><i style="background:linear-gradient(90deg,#00ffa2,#00ff79,#00ff55,#00ff35,#00ff19,#00ff01,#12ff00,#21ff00,#2cff00,#32ff00,#34ff00,#32ff00,#2bff00,#20ff00,#10ff00,#00ff03,#00ff1b)"></i><i style="background:linear-gradient(90deg,#00ffa4,#00ff7b,#00ff57,#00ff37,#00ff1b,#00ff04,#0fff00,#1dff00,#28ff00,#2dff00,#2fff00,#2cff00,#25ff00,#1aff00,#0aff00,#00ff0a,#00ff22)"></i><i style="background:linear-gradient(90deg,#00ffa5,#00ff7d,#00ff59,#00ff39,#00ff1e,#00ff07,#0bff00,#19ff00,#23ff00,#29ff00,#2aff00,#27ff00,#20ff00,#14ff00,#04ff00,#00ff11,#00ff29)"></i><i style="background:linear-gradient(90deg,#00ffa7,#00ff7f,#00ff5b,#00ff3c,#00ff21,#00ff0b,#08ff00,#15ff00,#1fff00,#24ff00,#25ff00,#22ff00,#1aff00,#0eff00,#00ff03,#00ff17,#00ff30)"></i><i style="background:linear-gradient(90deg,#00ffa8,#00ff81,#00ff5d,#00ff3f,#00ff24,#00ff0e,#04ff00,#11ff00,#1bff00,#20ff00,#20ff00,#1cff00,#14ff00,#08ff00,#00ff09,#00ff1e,#00ff37)"></i><i style="background:linear-gradient(90deg,#00ffaa,#00ff83,#00ff60,#00ff41,#00ff27,#00ff11,#00ff00,#0dff00,#16ff00,#1bff00,#1bff00,#17ff00,#0eff00,#02ff00,#00ff0f,#00ff25,#00ff3f)"></i><i style="background:linear-gradient(90deg,#00ffab,#00ff85,#00ff62,#00ff44,#00ff2a,#00ff15,#00ff04,#09ff00,#12ff00,#16ff00,#16ff00,#11ff00,#09ff00,#00ff05,#00ff16,#00ff2c,#00ff46)"></i><i style="background:linear-gradient(90deg,#00ffad,#00ff87,#00ff65,#00ff47,#00ff2d,#00ff18,#00ff07,#05ff00,#0dff00,#11ff00,#11ff00,#0cff00,#03ff00,#00ff0b,#00ff1d,#00ff33,#00ff4d)"></i><i style="background:linear-gradient(90deg,#00ffaf,#00ff89,#00ff67,#00ff4a,#00ff30,#00ff1c,#00ff0b,#01ff00,#09ff00,#0cff00,#0bff00,#06ff00,#00ff03,#00ff11,#00ff23,#00ff3a,#00ff54)"></i><i style="background:linear-gradient(90deg,#00ffb1,#00ff8b,#00ff6a,#00ff4c,#00ff34,#00ff1f,#00ff0f,#00ff03,#04ff00,#07ff00,#06ff00,#01ff00,#00ff09,#00ff17,#00ff2a,#00ff41,#00ff5c)"></i><i style="background:linear-gradient(90deg,#00ffb3,#00ff8d,#00ff6c,#00ff4f,#00ff37,#00ff23,#00ff13,#00ff08,#00ff00,#02ff00,#01ff00,#00ff05,#00ff0f,#00ff1e,#00ff31,#00ff48,#00ff63)"></i><i style="background:linear-gradient(90deg,#00ffb5,#00ff90,#00ff6f,#00ff52,#00ff3a,#00ff27,#00ff17,#00ff0c,#00ff05,#00ff03,#00ff05,#00ff0b,#00ff15,#00ff24,#00ff37,#00ff4f,#00ff6b)"></i><i style="background:linear-gradient(90deg,#00ffb7,#00ff92,#00ff71,#00ff55,#00ff3e,#00ff2a,#00ff1b,#00ff10,#00ff0a,#00ff08,#00ff0a,#00ff11,#00ff1c,#00ff2b,#00ff3e,#00ff56,#00ff72)"></i><i style="background:linear-gradient(90deg,#00ffb9,#00ff94,#00ff74,#00ff58,#00ff41,#00ff2e,#00ff1f,#00ff15,#00ff0f,#00ff0d,#00ff10,#00ff16,#00ff22,#00ff31,#00ff45,#00ff5d,#00ff7a)"></i><i style="background:linear-gradient(90deg,#00ffbb,#00ff97,#00ff77,#00ff5c,#00ff45,#00ff32,#00ff23,#00ff19,#00ff14,#00ff12,#00ff15,#00ff1c,#00ff28,#00ff38,#00ff4c,#00ff65,#00ff82)"></i><i style="background:linear-gradient(90deg,#00ffbd,#00ff99,#00ff7a,#00ff5f,#00ff48,#00ff36,#00ff28,#00ff1e,#00ff19,#00ff18,#00ff1b,#00ff22,#00ff2e,#00ff3f,#00ff53,#00ff6c,#00ff89)"></i><i style="background:linear-gradient(90deg,#00ffbf,#00ff9c,#00ff7d,#00ff62,#00ff4c,#00ff3a,#00ff2c,#00ff23,#00ff1e,#00ff1d,#00ff20,#00ff28,#00ff35,#00ff45,#00ff5a,#00ff73,#00ff91)"></i><i style="background:linear-gradient(90deg,#00ffc1,#00ff9e,#00ff80,#00ff65,#00ff4f,#00ff3e,#00ff30,#00ff27,#00ff23,#00ff22,#00ff26,#00ff2e,#00ff3b,#00ff4c,#00ff61,#00ff7b,#00ff99)"></i><i style="background:linear-gradient(90deg,#00ffc4,#00ffa1,#00ff83,#00ff69,#00ff53,#00ff42,#00ff35,#00ff2c,#00ff28,#00ff28,#00ff2c,#00ff35,#00ff42,#00ff53,#00ff68,#00ff82,#00ffa1)"></i><i style="background:linear-gradient(90deg,#00ffc6,#00ffa4,#00ff86,#00ff6c,#00ff57,#00ff46,#00ff39,#00ff31,#00ff2d,#00ff2d,#00ff32,#00ff3b,#00ff48,#00ff5a,#00ff70,#00ff8a,#00ffa9)"></i><i style="background:linear-gradient(90deg,#00ffc8,#00ffa6,#00ff89,#00ff6f,#00ff5b,#00ff4a,#00ff3e,#00ff36,#00ff32,#00ff33,#00ff38,#00ff41,#00ff4f,#00ff61,#00ff77,#00ff92,#00ffb1)"></i><i style="background:linear-gradient(90deg,#00ffcb,#00ffa9,#00ff8c,#00ff73,#00ff5e,#00ff4e,#00ff42,#00ff3a,#00ff37,#00ff38,#00ff3e,#00ff47,#00ff55,#00ff68,#00ff7e,#00ff99,#00ffb9)"></i><i style="background:linear-gradient(90deg,#00ffcd,#00ffac,#00ff8f,#00ff77,#00ff62,#00ff52,#00ff47,#00ff3f,#00ff3c,#00ff3e,#00ff44,#00ff4e,#00ff5c,#00ff6f,#00ff86,#00ffa1,#00ffc1)"></i><i style="background:linear-gradient(90deg,#00ffd0,#00ffaf,#00ff92,#00ff7a,#00ff66,#00ff57,#00ff4b,#00ff44,#00ff42,#00ff44,#00ff4a,#00ff54,#00ff63,#00ff76,#00ff8d,#00ffa9,#00ffc9)"></i><i style="background:linear-gradient(90deg,#00ffd2,#00ffb2,#00ff96,#00ff7e,#00ff6a,#00ff5b,#00ff50,#00ff49,#00ff47,#00ff49,#00ff50,#00ff5a,#00ff69,#00ff7d,#00ff95,#00ffb1,#00ffd1)"></i><i style="background:linear-gradient(90deg,#00ffd5,#00ffb5,#00ff99,#00ff81,#00ff6e,#00ff5f,#00ff55,#00ff4f,#00ff4d,#00ff4f,#00ff56,#00ff61,#00ff70,#00ff84,#00ff9c,#00ffb8,#00ffd9)"></i><i style="background:linear-gradient(90deg,#00ffd8,#00ffb8,#00ff9c,#00ff85,#00ff72,#00ff64,#00ff5a,#00ff54,#00ff52,#00ff55,#00ff5c,#00ff67,#00ff77,#00ff8b,#00ffa4,#00ffc0,#00ffe1)"></i><i style="background:linear-gradient(90deg,#00ffdb,#00ffbb,#00ffa0,#00ff89,#00ff77,#00ff68,#00ff5e,#00ff59,#00ff58,#00ff5b,#00ff62,#00ff6e,#00ff7e,#00ff93,#00ffab,#00ffc8,#00ffea)"></i><i style="background:linear-gradient(90deg,#00ffdd,#00ffbe,#00ffa3,#00ff8d,#00ff7b,#00ff6d,#00ff63,#00ff5e,#00ff5d,#00ff61,#00ff69,#00ff75,#00ff85,#00ff9a,#00ffb3,#00ffd0,#00fff2)"></i><i style="background:linear-gradient(90deg,#00ffe0,#00ffc1,#00ffa7,#00ff91,#00ff7f,#00ff71,#00ff68,#00ff63,#00ff63,#00ff67,#00ff6f,#00ff7b,#00ff8c,#00ffa1,#00ffbb,#00ffd8,#00fffb)"></i><i style="background:linear-gradient(90deg,#00ffe3,#00ffc5,#00ffab,#00ff95,#00ff83,#00ff76,#00ff6d,#00ff69,#00ff69,#00ff6d,#00ff75,#00ff82,#00ff93,#00ffa9,#00ffc2,#00ffe1,#00fbff)"></i><i style="background:linear-gradient(90deg,#00ffe6,#00ffc8,#00ffae,#00ff99,#00ff88,#00ff7b,#00ff72,#00ff6e,#00ff6e,#00ff73,#00ff7c,#00ff89,#00ff9a,#00ffb0,#00ffca,#00ffe9,#00f2ff)"></i><i style="background:linear-gradient(90deg,#00ffe9,#00ffcb,#00ffb2,#00ff9d,#00ff8c,#00ff80,#00ff78,#00ff74,#00ff74,#00ff79,#00ff82,#00ff90,#00ffa2,#00ffb8,#00ffd2,#00fff1,#00eaff)"></i><i style="background:linear-gradient(90deg,#00ffec,#00ffcf,#00ffb6,#00ffa1,#00ff91,#00ff84,#00ff7d,#00ff79,#00ff7a,#00ff7f,#00ff89,#00ff97,#00ffa9,#00ffbf,#00ffda,#00fff9,#00e1ff)"></i><i style="background:linear-gradient(90deg,#00ffef,#00ffd2,#00ffba,#00ffa5,#00ff95,#00ff89,#00ff82,#00ff7f,#00ff80,#00ff86,#00ff8f,#00ff9e,#00ffb0,#00ffc7,#00ffe2,#00fcff,#00d8ff)"></i></div>
<div class="f" style="left:532px;top:13px;width:204px;height:204px"><i style="background:linear-gradient(90deg,#00ff67,#00ff28,#14ff00,#4bff00,#7dff00,#acff00,#d6ff00,#fcff00,#ffe100,#ffc300,#ffaa00,#ff9600,#ff8600,#ff7a00,#ff7200,#ff6e00,#ff6f00)"></i><i style="background:linear-gradient(90deg,#00ff65,#00ff26,#15ff00,#4cff00,#7eff00,#acff00,#d6ff00,#fcff00,#ffe100,#ffc400,#ffac00,#ff9800,#ff8800,#ff7c00,#ff7500,#ff7200,#ff7300)"></i><i style="background:linear-gradient(90deg,#00ff63,#00ff24,#16ff00,#4dff00,#7fff00,#acff00,#d6ff00,#fbff00,#ffe200,#ffc600,#ffad00,#ff9900,#ff8a00,#ff7e00,#ff7700,#ff7500,#ff7600)"></i><i style="background:linear-gradient(90deg,#00ff62,#00ff23,#17ff00,#4eff00,#7fff00,#adff00,#d6ff00,#fbff00,#ffe300,#ffc700,#ffaf00,#ff9b00,#ff8c00,#ff8100,#ff7a00,#ff7800,#ff7a00)"></i><i style="background:linear-gradient(90deg,#00ff60,#00ff21,#19ff00,#4eff00,#80ff00,#adff00,#d6ff00,#faff00,#ffe400,#ffc800,#ffb000,#ff9d00,#ff8e00,#ff8400,#ff7d00,#ff7b00,#ff7e00)"></i><i style="background:linear-gradient(90deg,#00ff5e,#00ff20,#1aff00,#4fff00,#80ff00,#adff00,#d5ff00,#f9ff00,#ffe500,#ffc900,#ffb200,#ff9f00,#ff9100,#ff8600,#ff8000,#ff7f00,#ff8100)"></i><i style="background:linear-gradient(90deg,#00ff5c,#00ff1e,#1bff00,#50ff00,#81ff00,#adff00,#d5ff00,#f9ff00,#ffe600,#ffcb00,#ffb400,#ffa100,#ff9300,#ff8900,#ff8300,#ff8200,#ff8500)"></i><i style="background:linear-gradient(90deg,#00ff5a,#00ff1d,#1cff00,#51ff00,#81ff00,#adff00,#d5ff00,#f8ff00,#ffe700,#ffcc00,#ffb500,#ffa300,#ff9500,#ff8c00,#ff8600,#ff8600,#ff8900)"></i><i style="background:linear-gradient(90deg,#00ff59,#00ff1c,#1dff00,#51ff00,#81ff00,#adff00,#d4ff00,#f7ff00,#ffe800,#ffcd00,#ffb700,#ffa500,#ff9800,#ff8f00,#ff8a00,#ff8900,#ff8d00)"></i><i style="background:linear-gradient(90deg,#00ff57,#00ff1b,#1eff00,#52ff00,#81ff00,#adff00,#d4ff00,#f7ff00,#ffe900,#ffcf00,#ffb900,#ffa700,#ff9a00,#ff9100,#ff8d00,#ff8d00,#ff9100)"></i><i style="background:linear-gradient(90deg,#00ff56,#00ff19,#1fff00,#52ff00,#82ff00,#adff00,#d3ff00,#f6ff00,#ffea00,#ffd000,#ffbb00,#ffaa00,#ff9d00,#ff9400,#ff9000,#ff9000,#ff9500)"></i><i style="background:linear-gradient(90deg,#00ff54,#00ff18,#1fff00,#53ff00,#82ff00,#acff00,#d3ff00,#f5ff00,#ffeb00,#ffd200,#ffbd00,#ffac00,#ff9f00,#ff9700,#ff9300,#ff9400,#ff9900)"></i><i style="background:linear-gradient(90deg,#00ff53,#00ff17,#20ff00,#53ff00,#82ff00,#acff00,#d2ff00,#f4ff00,#ffed00,#ffd400,#ffbf00,#ffae00,#ffa200,#ff9a00,#ff9700,#ff9700,#ff9d00)"></i><i style="background:linear-gradient(90deg,#00ff51,#00ff16,#21ff00,#54ff00,#82ff00,#acff00,#d2ff00,#f3ff00,#ffee00,#ffd500,#ffc100,#ffb100,#ffa500,#ff9d00,#ff9a00,#ff9b00,#ffa100)"></i><i style="background:linear-gradient(90deg,#00ff50,#00ff15,#22ff00,#54ff00,#82ff00,#abff00,#d1ff00,#f2ff00,#ffef00,#ffd700,#ffc300,#ffb300,#ffa800,#ffa000,#ff9e00,#ff9f00,#ffa500)"></i><i style="background:linear-gradient(90deg,#00ff4f,#00ff14,#22ff00,#54ff00,#82ff00,#abff00,#d0ff00,#f1ff00,#fff100,#ffd900,#ffc500,#ffb600,#ffaa00,#ffa400,#ffa100,#ffa300,#ffa900)"></i><i style="background:linear-gradient(90deg,#00ff4d,#00ff13,#23ff00,#54ff00,#82ff00,#abff00,#cfff00,#f0ff00,#fff200,#ffdb00,#ffc700,#ffb800,#ffad00,#ffa700,#ffa500,#ffa700,#ffad00)"></i><i style="background:linear-gradient(90deg,#00ff4c,#00ff12,#23ff00,#55ff00,#81ff00,#aaff00,#ceff00,#eeff00,#fff400,#ffdd00,#ffc900,#ffbb00,#ffb000,#ffaa00,#ffa800,#ffab00,#ffb200)"></i><i style="background:linear-gradient(90deg,#00ff4b,#00ff11,#24ff00,#55ff00,#81ff00,#a9ff00,#cdff00,#edff00,#fff600,#ffde00,#ffcc00,#ffbd00,#ffb300,#ffad00,#ffac00,#ffaf00,#ffb600)"></i><i style="background:linear-gradient(90deg,#00ff4a,#00ff11,#24ff00,#55ff00,#81ff00,#a9ff00,#ccff00,#ecff00,#fff700,#ffe000,#ffce00,#ffc000,#ffb600,#ffb100,#ffb000,#ffb300,#ffba00)"></i><i style="background:linear-gradient(90deg,#00ff49,#00ff10,#24ff00,#55ff00,#81ff00,#a8ff00,#cbff00,#eaff00,#fff900,#ffe300,#ffd100,#ffc300,#ffb900,#ffb400,#ffb300,#ffb700,#ffbf00)"></i><i style="background:linear-gradient(90deg,#00ff48,#00ff0f,#25ff00,#55ff00,#80ff00,#a7ff00,#caff00,#e9ff00,#fffb00,#ffe500,#ffd300,#ffc600,#ffbc00,#ffb800,#ffb700,#ffbb00,#ffc300)"></i><i style="background:linear-gradient(90deg,#00ff47,#00ff0f,#25ff00,#55ff00,#80ff00,#a7ff00,#c9ff00,#e8ff00,#fffc00,#ffe700,#ffd500,#ffc800,#ffc000,#ffbb00,#ffbb00,#ffbf00,#ffc800)"></i><i style="background:linear-gradient(90deg,#00ff46,#00ff0e,#25ff00,#54ff00,#7fff00,#a6ff00,#c8ff00,#e6ff00,#fffe00,#ffe900,#ffd800,#ffcb00,#ffc300,#ffbf00,#ffbf00,#ffc400,#ffcc00)"></i><i style="background:linear-gradient(90deg,#00ff45,#00ff0e,#25ff00,#54ff00,#7fff00,#a5ff00,#c7ff00,#e4ff00,#feff00,#ffeb00,#ffdb00,#ffce00,#ffc600,#ffc200,#ffc300,#ffc800,#ffd100)"></i><i style="background:linear-gradient(90deg,#00ff44,#00ff0d,#25ff00,#54ff00,#7eff00,#a4ff00,#c6ff00,#e3ff00,#fcff00,#ffee00,#ffdd00,#ffd100,#ffca00,#ffc600,#ffc700,#ffcc00,#ffd600)"></i><i style="background:linear-gradient(90deg,#00ff44,#00ff0d,#26ff00,#54ff00,#7eff00,#a3ff00,#c4ff00,#e1ff00,#faff00,#fff000,#ffe000,#ffd400,#ffcd00,#ffca00,#ffcb00,#ffd100,#ffdb00)"></i><i style="background:linear-gradient(90deg,#00ff43,#00ff0d,#26ff00,#53ff00,#7dff00,#a2ff00,#c3ff00,#dfff00,#f8ff00,#fff200,#ffe300,#ffd700,#ffd000,#ffce00,#ffcf00,#ffd500,#ffdf00)"></i><i style="background:linear-gradient(90deg,#00ff42,#00ff0c,#25ff00,#53ff00,#7cff00,#a1ff00,#c1ff00,#deff00,#f6ff00,#fff500,#ffe500,#ffdb00,#ffd400,#ffd100,#ffd300,#ffda00,#ffe400)"></i><i style="background:linear-gradient(90deg,#00ff42,#00ff0c,#25ff00,#52ff00,#7bff00,#a0ff00,#c0ff00,#dcff00,#f3ff00,#fff700,#ffe800,#ffde00,#ffd700,#ffd500,#ffd800,#ffde00,#ffe900)"></i><i style="background:linear-gradient(90deg,#00ff41,#00ff0c,#25ff00,#52ff00,#7aff00,#9fff00,#beff00,#daff00,#f1ff00,#fffa00,#ffeb00,#ffe100,#ffdb00,#ffd900,#ffdc00,#ffe300,#ffee00)"></i><i style="background:linear-gradient(90deg,#00ff41,#00ff0c,#25ff00,#51ff00,#7aff00,#9dff00,#bdff00,#d8ff00,#efff00,#fffc00,#ffee00,#ffe400,#ffdf00,#ffdd00,#ffe000,#ffe800,#fff300)"></i><i style="background:linear-gradient(90deg,#00ff40,#00ff0c,#25ff00,#51ff00,#79ff00,#9cff00,#bbff00,#d6ff00,#edff00,#ffff00,#fff100,#ffe800,#ffe200,#ffe100,#ffe500,#ffec00,#fff800)"></i><i style="background:linear-gradient(90deg,#00ff40,#00ff0c,#24ff00,#50ff00,#78ff00,#9bff00,#baff00,#d4ff00,#eaff00,#fcff00,#fff400,#ffeb00,#ffe600,#ffe500,#ffe900,#fff100,#fffd00)"></i><i style="background:linear-gradient(90deg,#00ff40,#00ff0c,#24ff00,#4fff00,#77ff00,#99ff00,#b8ff00,#d2ff00,#e8ff00,#f9ff00,#fff700,#ffee00,#ffea00,#ffea00,#ffee00,#fff600,#fbff00)"></i><i style="background:linear-gradient(90deg,#00ff3f,#00ff0c,#24ff00,#4fff00,#75ff00,#98ff00,#b6ff00,#d0ff00,#e5ff00,#f7ff00,#fffb00,#fff200,#ffee00,#ffee00,#fff200,#fffb00,#f6ff00)"></i><i style="background:linear-gradient(90deg,#00ff3f,#00ff0c,#23ff00,#4eff00,#74ff00,#96ff00,#b4ff00,#ceff00,#e3ff00,#f4ff00,#fffe00,#fff600,#fff200,#fff200,#fff700,#feff00,#f1ff00)"></i><i style="background:linear-gradient(90deg,#00ff3f,#00ff0c,#23ff00,#4dff00,#73ff00,#95ff00,#b2ff00,#cbff00,#e0ff00,#f1ff00,#fdff00,#fff900,#fff600,#fff600,#fffb00,#f9ff00,#ecff00)"></i><i style="background:linear-gradient(90deg,#00ff3f,#00ff0c,#22ff00,#4cff00,#72ff00,#93ff00,#b0ff00,#c9ff00,#deff00,#eeff00,#faff00,#fffd00,#fffa00,#fffb00,#feff00,#f4ff00,#e6ff00)"></i><i style="background:linear-gradient(90deg,#00ff3f,#00ff0d,#21ff00,#4bff00,#71ff00,#92ff00,#aeff00,#c7ff00,#dbff00,#ebff00,#f6ff00,#fdff00,#fffe00,#ffff00,#f9ff00,#efff00,#e1ff00)"></i><i style="background:linear-gradient(90deg,#00ff3f,#00ff0d,#21ff00,#4aff00,#6fff00,#90ff00,#acff00,#c4ff00,#d8ff00,#e8ff00,#f3ff00,#faff00,#fcff00,#fbff00,#f4ff00,#eaff00,#dbff00)"></i><i style="background:linear-gradient(90deg,#00ff3f,#00ff0d,#20ff00,#49ff00,#6eff00,#8eff00,#aaff00,#c2ff00,#d5ff00,#e5ff00,#efff00,#f6ff00,#f8ff00,#f6ff00,#f0ff00,#e5ff00,#d6ff00)"></i><i style="background:linear-gradient(90deg,#00ff3f,#00ff0e,#1fff00,#48ff00,#6cff00,#8cff00,#a8ff00,#bfff00,#d3ff00,#e1ff00,#ecff00,#f2ff00,#f4ff00,#f1ff00,#ebff00,#e0ff00,#d0ff00)"></i><i style="background:linear-gradient(90deg,#00ff3f,#00ff0e,#1eff00,#47ff00,#6bff00,#8aff00,#a6ff00,#bdff00,#d0ff00,#deff00,#e8ff00,#eeff00,#f0ff00,#edff00,#e6ff00,#daff00,#cbff00)"></i><i style="background:linear-gradient(90deg,#00ff3f,#00ff0f,#1eff00,#46ff00,#69ff00,#89ff00,#a4ff00,#baff00,#cdff00,#dbff00,#e5ff00,#eaff00,#ebff00,#e8ff00,#e1ff00,#d5ff00,#c5ff00)"></i><i style="background:linear-gradient(90deg,#00ff3f,#00ff0f,#1dff00,#44ff00,#68ff00,#87ff00,#a1ff00,#b8ff00,#caff00,#d8ff00,#e1ff00,#e6ff00,#e7ff00,#e3ff00,#dcff00,#d0ff00,#bfff00)"></i><i style="background:linear-gradient(90deg,#00ff40,#00ff10,#1cff00,#43ff00,#66ff00,#85ff00,#9fff00,#b5ff00,#c7ff00,#d4ff00,#ddff00,#e2ff00,#e3ff00,#dfff00,#d7ff00,#caff00,#b9ff00)"></i><i style="background:linear-gradient(90deg,#00ff40,#00ff11,#1bff00,#42ff00,#64ff00,#83ff00,#9dff00,#b2ff00,#c4ff00,#d1ff00,#d9ff00,#deff00,#deff00,#daff00,#d1ff00,#c5ff00,#b4ff00)"></i><i style="background:linear-gradient(90deg,#00ff41,#00ff11,#1aff00,#40ff00,#62ff00,#80ff00,#9aff00,#afff00,#c0ff00,#cdff00,#d6ff00,#daff00,#daff00,#d5ff00,#ccff00,#bfff00,#aeff00)"></i><i style="background:linear-gradient(90deg,#00ff41,#00ff12,#18ff00,#3fff00,#61ff00,#7eff00,#98ff00,#adff00,#bdff00,#caff00,#d2ff00,#d6ff00,#d5ff00,#d0ff00,#c7ff00,#baff00,#a8ff00)"></i><i style="background:linear-gradient(90deg,#00ff41,#00ff13,#17ff00,#3dff00,#5fff00,#7cff00,#95ff00,#aaff00,#baff00,#c6ff00,#ceff00,#d1ff00,#d0ff00,#cbff00,#c2ff00,#b4ff00,#a2ff00)"></i><i style="background:linear-gradient(90deg,#00ff42,#00ff14,#16ff00,#3cff00,#5dff00,#7aff00,#92ff00,#a7ff00,#b7ff00,#c2ff00,#caff00,#cdff00,#ccff00,#c6ff00,#bcff00,#aeff00,#9cff00)"></i><i style="background:linear-gradient(90deg,#00ff43,#00ff15,#15ff00,#3aff00,#5bff00,#77ff00,#90ff00,#a4ff00,#b3ff00,#bfff00,#c6ff00,#c9ff00,#c7ff00,#c1ff00,#b7ff00,#a8ff00,#96ff00)"></i><i style="background:linear-gradient(90deg,#00ff43,#00ff16,#13ff00,#38ff00,#59ff00,#75ff00,#8dff00,#a1ff00,#b0ff00,#bbff00,#c2ff00,#c4ff00,#c2ff00,#bcff00,#b1ff00,#a3ff00,#8fff00)"></i><i style="background:linear-gradient(90deg,#00ff44,#00ff17,#12ff00,#37ff00,#57ff00,#73ff00,#8aff00,#9eff00,#adff00,#b7ff00,#beff00,#c0ff00,#bdff00,#b7ff00,#acff00,#9dff00,#89ff00)"></i><i style="background:linear-gradient(90deg,#00ff45,#00ff18,#11ff00,#35ff00,#55ff00,#70ff00,#87ff00,#9aff00,#a9ff00,#b3ff00,#b9ff00,#bbff00,#b8ff00,#b2ff00,#a6ff00,#97ff00,#83ff00)"></i><i style="background:linear-gradient(90deg,#00ff46,#00ff19,#0fff00,#33ff00,#52ff00,#6eff00,#85ff00,#97ff00,#a5ff00,#afff00,#b5ff00,#b7ff00,#b4ff00,#acff00,#a1ff00,#91ff00,#7dff00)"></i><i style="background:linear-gradient(90deg,#00ff46,#00ff1a,#0eff00,#31ff00,#50ff00,#6bff00,#82ff00,#94ff00,#a2ff00,#acff00,#b1ff00,#b2ff00,#afff00,#a7ff00,#9bff00,#8bff00,#76ff00)"></i><i style="background:linear-gradient(90deg,#00ff47,#00ff1c,#0cff00,#2fff00,#4eff00,#68ff00,#7fff00,#91ff00,#9eff00,#a8ff00,#acff00,#adff00,#aaff00,#a2ff00,#95ff00,#85ff00,#70ff00)"></i><i style="background:linear-gradient(90deg,#00ff48,#00ff1d,#0aff00,#2dff00,#4cff00,#66ff00,#7cff00,#8dff00,#9bff00,#a3ff00,#a8ff00,#a8ff00,#a4ff00,#9cff00,#90ff00,#7fff00,#69ff00)"></i><i style="background:linear-gradient(90deg,#00ff49,#00ff1e,#09ff00,#2bff00,#49ff00,#63ff00,#79ff00,#8aff00,#97ff00,#9fff00,#a4ff00,#a4ff00,#9fff00,#97ff00,#8aff00,#79ff00,#63ff00)"></i><i style="background:linear-gradient(90deg,#00ff4a,#00ff20,#07ff00,#29ff00,#47ff00,#60ff00,#75ff00,#86ff00,#93ff00,#9bff00,#9fff00,#9fff00,#9aff00,#91ff00,#84ff00,#72ff00,#5cff00)"></i><i style="background:linear-gradient(90deg,#00ff4b,#00ff21,#05ff00,#27ff00,#44ff00,#5dff00,#72ff00,#83ff00,#8fff00,#97ff00,#9bff00,#9aff00,#95ff00,#8cff00,#7eff00,#6cff00,#56ff00)"></i><i style="background:linear-gradient(90deg,#00ff4d,#00ff23,#03ff00,#25ff00,#42ff00,#5bff00,#6fff00,#7fff00,#8bff00,#93ff00,#96ff00,#95ff00,#90ff00,#86ff00,#78ff00,#66ff00,#4fff00)"></i><i style="background:linear-gradient(90deg,#00ff4e,#00ff24,#01ff00,#22ff00,#3fff00,#58ff00,#6cff00,#7cff00,#87ff00,#8eff00,#91ff00,#90ff00,#8aff00,#80ff00,#72ff00,#5fff00,#48ff00)"></i><i style="background:linear-gradient(90deg,#00ff4f,#00ff26,#00ff01,#20ff00,#3dff00,#55ff00,#68ff00,#78ff00,#83ff00,#8aff00,#8dff00,#8bff00,#85ff00,#7bff00,#6cff00,#59ff00,#42ff00)"></i><i style="background:linear-gradient(90deg,#00ff50,#00ff27,#00ff03,#1eff00,#3aff00,#52ff00,#65ff00,#74ff00,#7fff00,#86ff00,#88ff00,#86ff00,#7fff00,#75ff00,#66ff00,#52ff00,#3bff00)"></i><i style="background:linear-gradient(90deg,#00ff52,#00ff29,#00ff05,#1bff00,#37ff00,#4fff00,#62ff00,#70ff00,#7bff00,#81ff00,#83ff00,#81ff00,#7aff00,#6fff00,#60ff00,#4cff00,#34ff00)"></i><i style="background:linear-gradient(90deg,#00ff53,#00ff2b,#00ff07,#19ff00,#34ff00,#4bff00,#5eff00,#6dff00,#77ff00,#7dff00,#7eff00,#7bff00,#74ff00,#69ff00,#59ff00,#45ff00,#2dff00)"></i><i style="background:linear-gradient(90deg,#00ff55,#00ff2d,#00ff09,#16ff00,#31ff00,#48ff00,#5bff00,#69ff00,#73ff00,#78ff00,#79ff00,#76ff00,#6fff00,#63ff00,#53ff00,#3fff00,#26ff00)"></i><i style="background:linear-gradient(90deg,#00ff56,#00ff2f,#00ff0b,#14ff00,#2fff00,#45ff00,#57ff00,#65ff00,#6eff00,#73ff00,#74ff00,#71ff00,#69ff00,#5dff00,#4dff00,#38ff00,#1fff00)"></i><i style="background:linear-gradient(90deg,#00ff58,#00ff31,#00ff0e,#11ff00,#2cff00,#42ff00,#53ff00,#61ff00,#6aff00,#6fff00,#6fff00,#6cff00,#63ff00,#57ff00,#46ff00,#31ff00,#18ff00)"></i><i style="background:linear-gradient(90deg,#00ff59,#00ff32,#00ff10,#0fff00,#29ff00,#3eff00,#50ff00,#5dff00,#66ff00,#6aff00,#6aff00,#66ff00,#5eff00,#51ff00,#40ff00,#2bff00,#11ff00)"></i><i style="background:linear-gradient(90deg,#00ff5b,#00ff35,#00ff12,#0cff00,#26ff00,#3bff00,#4cff00,#59ff00,#61ff00,#65ff00,#65ff00,#61ff00,#58ff00,#4bff00,#39ff00,#24ff00,#0aff00)"></i><i style="background:linear-gradient(90deg,#00ff5d,#00ff37,#00ff15,#09ff00,#22ff00,#37ff00,#48ff00,#55ff00,#5dff00,#61ff00,#60ff00,#5bff00,#52ff00,#45ff00,#33ff00,#1dff00,#02ff00)"></i><i style="background:linear-gradient(90deg,#00ff5f,#00ff39,#00ff17,#06ff00,#1fff00,#34ff00,#44ff00,#50ff00,#58ff00,#5cff00,#5bff00,#56ff00,#4cff00,#3eff00,#2cff00,#16ff00,#00ff05)"></i><i style="background:linear-gradient(90deg,#00ff60,#00ff3b,#00ff1a,#03ff00,#1cff00,#30ff00,#40ff00,#4cff00,#54ff00,#57ff00,#56ff00,#50ff00,#46ff00,#38ff00,#26ff00,#0fff00,#00ff0c)"></i><i style="background:linear-gradient(90deg,#00ff62,#00ff3d,#00ff1c,#00ff00,#19ff00,#2dff00,#3cff00,#48ff00,#4fff00,#52ff00,#50ff00,#4aff00,#40ff00,#32ff00,#1fff00,#08ff00,#00ff14)"></i><i style="background:linear-gradient(90deg,#00ff64,#00ff3f,#00ff1f,#00ff03,#15ff00,#29ff00,#38ff00,#44ff00,#4aff00,#4dff00,#4bff00,#45ff00,#3aff00,#2bff00,#18ff00,#01ff00,#00ff1b)"></i><i style="background:linear-gradient(90deg,#00ff66,#00ff42,#00ff21,#00ff06,#12ff00,#25ff00,#34ff00,#3fff00,#46ff00,#48ff00,#45ff00,#3fff00,#34ff00,#25ff00,#11ff00,#00ff06,#00ff22)"></i><i style="background:linear-gradient(90deg,#00ff68,#00ff44,#00ff24,#00ff09,#0fff00,#22ff00,#30ff00,#3bff00,#41ff00,#42ff00,#40ff00,#39ff00,#2eff00,#1eff00,#0bff00,#00ff0e,#00ff2a)"></i><i style="background:linear-gradient(90deg,#00ff6a,#00ff47,#00ff27,#00ff0c,#0bff00,#1eff00,#2cff00,#36ff00,#3cff00,#3dff00,#3aff00,#33ff00,#28ff00,#18ff00,#04ff00,#00ff15,#00ff32)"></i><i style="background:linear-gradient(90deg,#00ff6d,#00ff49,#00ff2a,#00ff0f,#08ff00,#1aff00,#28ff00,#32ff00,#37ff00,#38ff00,#35ff00,#2dff00,#21ff00,#11ff00,#00ff03,#00ff1c,#00ff39)"></i><i style="background:linear-gradient(90deg,#00ff6f,#00ff4c,#00ff2d,#00ff12,#04ff00,#16ff00,#24ff00,#2dff00,#32ff00,#33ff00,#2fff00,#27ff00,#1bff00,#0bff00,#00ff0a,#00ff23,#00ff41)"></i><i style="background:linear-gradient(90deg,#00ff71,#00ff4e,#00ff30,#00ff15,#01ff00,#12ff00,#1fff00,#28ff00,#2dff00,#2dff00,#29ff00,#21ff00,#15ff00,#04ff00,#00ff11,#00ff2b,#00ff49)"></i><i style="background:linear-gradient(90deg,#00ff73,#00ff51,#00ff33,#00ff19,#00ff03,#0eff00,#1bff00,#24ff00,#28ff00,#28ff00,#24ff00,#1bff00,#0eff00,#00ff03,#00ff18,#00ff32,#00ff50)"></i><i style="background:linear-gradient(90deg,#00ff76,#00ff53,#00ff36,#00ff1c,#00ff07,#0aff00,#17ff00,#1fff00,#23ff00,#23ff00,#1eff00,#15ff00,#08ff00,#00ff0a,#00ff20,#00ff3a,#00ff58)"></i><i style="background:linear-gradient(90deg,#00ff78,#00ff56,#00ff39,#00ff20,#00ff0b,#06ff00,#12ff00,#1aff00,#1eff00,#1dff00,#18ff00,#0fff00,#01ff00,#00ff11,#00ff27,#00ff41,#00ff60)"></i><i style="background:linear-gradient(90deg,#00ff7a,#00ff59,#00ff3c,#00ff23,#00ff0e,#02ff00,#0eff00,#15ff00,#19ff00,#18ff00,#12ff00,#09ff00,#00ff05,#00ff18,#00ff2e,#00ff49,#00ff68)"></i><i style="background:linear-gradient(90deg,#00ff7d,#00ff5c,#00ff3f,#00ff27,#00ff12,#00ff02,#09ff00,#10ff00,#13ff00,#12ff00,#0cff00,#02ff00,#00ff0c,#00ff1f,#00ff35,#00ff51,#00ff70)"></i><i style="background:linear-gradient(90deg,#00ff80,#00ff5f,#00ff42,#00ff2a,#00ff16,#00ff07,#05ff00,#0bff00,#0eff00,#0cff00,#06ff00,#00ff04,#00ff13,#00ff26,#00ff3d,#00ff58,#00ff78)"></i><i style="background:linear-gradient(90deg,#00ff82,#00ff62,#00ff46,#00ff2e,#00ff1a,#00ff0b,#00ff00,#06ff00,#09ff00,#07ff00,#00ff00,#00ff0a,#00ff19,#00ff2d,#00ff44,#00ff60,#00ff80)"></i><i style="background:linear-gradient(90deg,#00ff85,#00ff65,#00ff49,#00ff31,#00ff1e,#00ff0f,#00ff05,#01ff00,#03ff00,#01ff00,#00ff06,#00ff11,#00ff20,#00ff34,#00ff4c,#00ff68,#00ff88)"></i><i style="background:linear-gradient(90deg,#00ff88,#00ff68,#00ff4c,#00ff35,#00ff22,#00ff14,#00ff0a,#00ff04,#00ff02,#00ff05,#00ff0c,#00ff17,#00ff27,#00ff3b,#00ff53,#00ff70,#00ff91)"></i><i style="background:linear-gradient(90deg,#00ff8a,#00ff6b,#00ff50,#00ff39,#00ff26,#00ff18,#00ff0e,#00ff09,#00ff08,#00ff0b,#00ff12,#00ff1e,#00ff2e,#00ff42,#00ff5b,#00ff78,#00ff99)"></i><i style="background:linear-gradient(90deg,#00ff8d,#00ff6e,#00ff53,#00ff3d,#00ff2b,#00ff1d,#00ff13,#00ff0e,#00ff0d,#00ff11,#00ff18,#00ff24,#00ff35,#00ff49,#00ff62,#00ff80,#00ffa1)"></i><i style="background:linear-gradient(90deg,#00ff90,#00ff71,#00ff57,#00ff41,#00ff2f,#00ff21,#00ff18,#00ff13,#00ff13,#00ff17,#00ff1f,#00ff2b,#00ff3c,#00ff51,#00ff6a,#00ff88,#00ffaa)"></i><i style="background:linear-gradient(90deg,#00ff93,#00ff74,#00ff5a,#00ff45,#00ff33,#00ff26,#00ff1d,#00ff19,#00ff19,#00ff1d,#00ff25,#00ff32,#00ff43,#00ff58,#00ff72,#00ff90,#00ffb2)"></i><i style="background:linear-gradient(90deg,#00ff96,#00ff78,#00ff5e,#00ff49,#00ff38,#00ff2b,#00ff22,#00ff1e,#00ff1e,#00ff23,#00ff2b,#00ff38,#00ff4a,#00ff60,#00ff7a,#00ff98,#00ffba)"></i><i style="background:linear-gradient(90deg,#00ff99,#00ff7b,#00ff62,#00ff4d,#00ff3c,#00ff2f,#00ff27,#00ff24,#00ff24,#00ff29,#00ff32,#00ff3f,#00ff51,#00ff67,#00ff81,#00ffa0,#00ffc3)"></i><i style="background:linear-gradient(90deg,#00ff9c,#00ff7f,#00ff66,#00ff51,#00ff40,#00ff34,#00ff2c,#00ff29,#00ff2a,#00ff2f,#00ff38,#00ff46,#00ff58,#00ff6f,#00ff89,#00ffa8,#00ffcc)"></i><i style="background:linear-gradient(90deg,#00ff9f,#00ff82,#00ff69,#00ff55,#00ff45,#00ff39,#00ff32,#00ff2f,#00ff30,#00ff35,#00ff3f,#00ff4d,#00ff5f,#00ff76,#00ff91,#00ffb1,#00ffd4)"></i></div>
<div class="f" style="left:39px;top:289px;width:204px;height:203px"><i style="background:linear-gradient(90deg,#00ff87,#00ff56,#00ff29,#01ff00,#27ff00,#49ff00,#68ff00,#83ff00,#9aff00,#aeff00,#bfff00,#ccff00,#d5ff00,#daff00,#dcff00,#dbff00,#d6ff00)"></i><i style="background:linear-gradient(90deg,#00ff85,#00ff55,#00ff28,#02ff00,#27ff00,#49ff00,#68ff00,#83ff00,#9aff00,#aeff00,#beff00,#caff00,#d3ff00,#d9ff00,#dbff00,#d9ff00,#d3ff00)"></i><i style="background:linear-gradient(90deg,#00ff84,#00ff53,#00ff27,#02ff00,#28ff00,#4aff00,#68ff00,#82ff00,#9aff00,#adff00,#bdff00,#c9ff00,#d2ff00,#d7ff00,#d9ff00,#d7ff00,#d1ff00)"></i><i style="background:linear-gradient(90deg,#00ff82,#00ff52,#00ff26,#03ff00,#28ff00,#4aff00,#68ff00,#82ff00,#99ff00,#acff00,#bcff00,#c8ff00,#d0ff00,#d5ff00,#d7ff00,#d4ff00,#ceff00)"></i><i style="background:linear-gradient(90deg,#00ff81,#00ff51,#00ff25,#04ff00,#29ff00,#4aff00,#68ff00,#82ff00,#98ff00,#abff00,#bbff00,#c7ff00,#cfff00,#d4ff00,#d5ff00,#d2ff00,#ccff00)"></i><i style="background:linear-gradient(90deg,#00ff7f,#00ff50,#00ff24,#04ff00,#29ff00,#4aff00,#68ff00,#81ff00,#98ff00,#abff00,#baff00,#c5ff00,#cdff00,#d2ff00,#d3ff00,#d0ff00,#c9ff00)"></i><i style="background:linear-gradient(90deg,#00ff7e,#00ff4f,#00ff23,#05ff00,#29ff00,#4aff00,#67ff00,#81ff00,#97ff00,#aaff00,#b9ff00,#c4ff00,#ccff00,#d0ff00,#d0ff00,#cdff00,#c7ff00)"></i><i style="background:linear-gradient(90deg,#00ff7d,#00ff4e,#00ff23,#05ff00,#29ff00,#4aff00,#67ff00,#81ff00,#96ff00,#a9ff00,#b7ff00,#c2ff00,#caff00,#ceff00,#ceff00,#cbff00,#c4ff00)"></i><i style="background:linear-gradient(90deg,#00ff7c,#00ff4d,#00ff22,#06ff00,#2aff00,#4aff00,#67ff00,#80ff00,#96ff00,#a8ff00,#b6ff00,#c1ff00,#c8ff00,#ccff00,#ccff00,#c8ff00,#c1ff00)"></i><i style="background:linear-gradient(90deg,#00ff7b,#00ff4c,#00ff21,#06ff00,#2aff00,#4aff00,#66ff00,#7fff00,#95ff00,#a7ff00,#b5ff00,#bfff00,#c6ff00,#caff00,#caff00,#c6ff00,#beff00)"></i><i style="background:linear-gradient(90deg,#00ff7a,#00ff4b,#00ff21,#06ff00,#2aff00,#4aff00,#66ff00,#7fff00,#94ff00,#a5ff00,#b3ff00,#beff00,#c4ff00,#c8ff00,#c7ff00,#c3ff00,#bcff00)"></i><i style="background:linear-gradient(90deg,#00ff79,#00ff4b,#00ff20,#07ff00,#2aff00,#49ff00,#65ff00,#7eff00,#93ff00,#a4ff00,#b2ff00,#bcff00,#c2ff00,#c5ff00,#c5ff00,#c0ff00,#b9ff00)"></i><i style="background:linear-gradient(90deg,#00ff78,#00ff4a,#00ff20,#07ff00,#2aff00,#49ff00,#65ff00,#7dff00,#92ff00,#a3ff00,#b0ff00,#baff00,#c0ff00,#c3ff00,#c2ff00,#beff00,#b6ff00)"></i><i style="background:linear-gradient(90deg,#00ff77,#00ff49,#00ff1f,#07ff00,#2aff00,#49ff00,#64ff00,#7cff00,#91ff00,#a2ff00,#afff00,#b8ff00,#beff00,#c1ff00,#c0ff00,#bbff00,#b3ff00)"></i><i style="background:linear-gradient(90deg,#00ff76,#00ff49,#00ff1f,#07ff00,#29ff00,#48ff00,#64ff00,#7bff00,#90ff00,#a0ff00,#adff00,#b6ff00,#bcff00,#beff00,#bdff00,#b8ff00,#b0ff00)"></i><i style="background:linear-gradient(90deg,#00ff75,#00ff48,#00ff1f,#07ff00,#29ff00,#48ff00,#63ff00,#7aff00,#8eff00,#9fff00,#abff00,#b5ff00,#baff00,#bcff00,#baff00,#b5ff00,#acff00)"></i><i style="background:linear-gradient(90deg,#00ff75,#00ff48,#00ff1f,#07ff00,#29ff00,#47ff00,#62ff00,#79ff00,#8dff00,#9dff00,#aaff00,#b3ff00,#b8ff00,#baff00,#b8ff00,#b2ff00,#a9ff00)"></i><i style="background:linear-gradient(90deg,#00ff74,#00ff47,#00ff1f,#07ff00,#29ff00,#47ff00,#61ff00,#78ff00,#8cff00,#9cff00,#a8ff00,#b0ff00,#b5ff00,#b7ff00,#b5ff00,#afff00,#a6ff00)"></i><i style="background:linear-gradient(90deg,#00ff73,#00ff47,#00ff1e,#07ff00,#28ff00,#46ff00,#60ff00,#77ff00,#8aff00,#9aff00,#a6ff00,#aeff00,#b3ff00,#b4ff00,#b2ff00,#acff00,#a2ff00)"></i><i style="background:linear-gradient(90deg,#00ff73,#00ff47,#00ff1e,#06ff00,#28ff00,#45ff00,#5fff00,#76ff00,#89ff00,#98ff00,#a4ff00,#acff00,#b1ff00,#b2ff00,#afff00,#a9ff00,#9fff00)"></i><i style="background:linear-gradient(90deg,#00ff72,#00ff47,#00ff1e,#06ff00,#27ff00,#45ff00,#5eff00,#75ff00,#87ff00,#97ff00,#a2ff00,#aaff00,#aeff00,#afff00,#acff00,#a6ff00,#9cff00)"></i><i style="background:linear-gradient(90deg,#00ff72,#00ff47,#00ff1f,#06ff00,#27ff00,#44ff00,#5dff00,#73ff00,#86ff00,#95ff00,#a0ff00,#a8ff00,#acff00,#acff00,#a9ff00,#a2ff00,#98ff00)"></i><i style="background:linear-gradient(90deg,#00ff72,#00ff46,#00ff1f,#05ff00,#26ff00,#43ff00,#5cff00,#72ff00,#84ff00,#93ff00,#9eff00,#a5ff00,#a9ff00,#a9ff00,#a6ff00,#9fff00,#95ff00)"></i><i style="background:linear-gradient(90deg,#00ff71,#00ff46,#00ff1f,#05ff00,#25ff00,#42ff00,#5bff00,#71ff00,#83ff00,#91ff00,#9cff00,#a3ff00,#a6ff00,#a6ff00,#a3ff00,#9cff00,#91ff00)"></i><i style="background:linear-gradient(90deg,#00ff71,#00ff46,#00ff1f,#04ff00,#25ff00,#41ff00,#5aff00,#6fff00,#81ff00,#8fff00,#99ff00,#a0ff00,#a4ff00,#a3ff00,#a0ff00,#98ff00,#8dff00)"></i><i style="background:linear-gradient(90deg,#00ff71,#00ff46,#00ff20,#04ff00,#24ff00,#40ff00,#59ff00,#6eff00,#7fff00,#8dff00,#97ff00,#9eff00,#a1ff00,#a0ff00,#9cff00,#95ff00,#89ff00)"></i><i style="background:linear-gradient(90deg,#00ff71,#00ff47,#00ff20,#03ff00,#23ff00,#3fff00,#57ff00,#6cff00,#7dff00,#8bff00,#95ff00,#9bff00,#9eff00,#9dff00,#99ff00,#91ff00,#86ff00)"></i><i style="background:linear-gradient(90deg,#00ff71,#00ff47,#00ff20,#03ff00,#22ff00,#3eff00,#56ff00,#6aff00,#7bff00,#89ff00,#92ff00,#99ff00,#9bff00,#9aff00,#96ff00,#8eff00,#82ff00)"></i><i style="background:linear-gradient(90deg,#00ff71,#00ff47,#00ff21,#02ff00,#21ff00,#3cff00,#54ff00,#69ff00,#79ff00,#86ff00,#90ff00,#96ff00,#98ff00,#97ff00,#92ff00,#8aff00,#7eff00)"></i><i style="background:linear-gradient(90deg,#00ff71,#00ff47,#00ff21,#01ff00,#20ff00,#3bff00,#53ff00,#67ff00,#77ff00,#84ff00,#8dff00,#93ff00,#95ff00,#94ff00,#8fff00,#86ff00,#7aff00)"></i><i style="background:linear-gradient(90deg,#00ff71,#00ff48,#00ff22,#00ff00,#1fff00,#3aff00,#51ff00,#65ff00,#75ff00,#82ff00,#8bff00,#90ff00,#92ff00,#91ff00,#8bff00,#82ff00,#76ff00)"></i><i style="background:linear-gradient(90deg,#00ff71,#00ff48,#00ff23,#00ff01,#1eff00,#38ff00,#4fff00,#63ff00,#73ff00,#7fff00,#88ff00,#8dff00,#8fff00,#8dff00,#88ff00,#7eff00,#72ff00)"></i><i style="background:linear-gradient(90deg,#00ff72,#00ff49,#00ff23,#00ff02,#1cff00,#37ff00,#4eff00,#61ff00,#71ff00,#7dff00,#86ff00,#8bff00,#8cff00,#8aff00,#84ff00,#7bff00,#6eff00)"></i><i style="background:linear-gradient(90deg,#00ff72,#00ff49,#00ff24,#00ff03,#1bff00,#35ff00,#4cff00,#5fff00,#6fff00,#7bff00,#83ff00,#88ff00,#89ff00,#86ff00,#80ff00,#77ff00,#69ff00)"></i><i style="background:linear-gradient(90deg,#00ff72,#00ff4a,#00ff25,#00ff04,#1aff00,#34ff00,#4aff00,#5dff00,#6cff00,#78ff00,#80ff00,#85ff00,#85ff00,#83ff00,#7cff00,#73ff00,#65ff00)"></i><i style="background:linear-gradient(90deg,#00ff73,#00ff4b,#00ff26,#00ff05,#18ff00,#32ff00,#48ff00,#5bff00,#6aff00,#75ff00,#7dff00,#81ff00,#82ff00,#7fff00,#79ff00,#6eff00,#61ff00)"></i><i style="background:linear-gradient(90deg,#00ff73,#00ff4b,#00ff27,#00ff06,#17ff00,#30ff00,#46ff00,#59ff00,#67ff00,#73ff00,#7aff00,#7eff00,#7fff00,#7bff00,#75ff00,#6aff00,#5cff00)"></i><i style="background:linear-gradient(90deg,#00ff74,#00ff4c,#00ff28,#00ff08,#15ff00,#2fff00,#44ff00,#56ff00,#65ff00,#70ff00,#77ff00,#7bff00,#7bff00,#78ff00,#71ff00,#66ff00,#58ff00)"></i><i style="background:linear-gradient(90deg,#00ff74,#00ff4d,#00ff29,#00ff09,#14ff00,#2dff00,#42ff00,#54ff00,#62ff00,#6dff00,#74ff00,#78ff00,#78ff00,#74ff00,#6dff00,#62ff00,#53ff00)"></i><i style="background:linear-gradient(90deg,#00ff75,#00ff4e,#00ff2a,#00ff0a,#12ff00,#2bff00,#40ff00,#52ff00,#60ff00,#6aff00,#71ff00,#74ff00,#74ff00,#70ff00,#69ff00,#5eff00,#4fff00)"></i><i style="background:linear-gradient(90deg,#00ff76,#00ff4f,#00ff2b,#00ff0c,#10ff00,#29ff00,#3eff00,#4fff00,#5dff00,#67ff00,#6eff00,#71ff00,#70ff00,#6cff00,#65ff00,#59ff00,#4aff00)"></i><i style="background:linear-gradient(90deg,#00ff76,#00ff50,#00ff2d,#00ff0d,#0fff00,#27ff00,#3cff00,#4dff00,#5aff00,#64ff00,#6bff00,#6eff00,#6dff00,#68ff00,#60ff00,#55ff00,#46ff00)"></i><i style="background:linear-gradient(90deg,#00ff77,#00ff51,#00ff2e,#00ff0f,#0dff00,#25ff00,#39ff00,#4aff00,#58ff00,#61ff00,#67ff00,#6aff00,#69ff00,#64ff00,#5cff00,#50ff00,#41ff00)"></i><i style="background:linear-gradient(90deg,#00ff78,#00ff52,#00ff2f,#00ff10,#0bff00,#23ff00,#37ff00,#48ff00,#55ff00,#5eff00,#64ff00,#66ff00,#65ff00,#60ff00,#58ff00,#4cff00,#3cff00)"></i><i style="background:linear-gradient(90deg,#00ff79,#00ff53,#00ff31,#00ff12,#09ff00,#21ff00,#35ff00,#45ff00,#52ff00,#5bff00,#61ff00,#63ff00,#61ff00,#5cff00,#53ff00,#47ff00,#37ff00)"></i><i style="background:linear-gradient(90deg,#00ff7a,#00ff54,#00ff32,#00ff14,#07ff00,#1eff00,#32ff00,#42ff00,#4fff00,#58ff00,#5dff00,#5fff00,#5dff00,#58ff00,#4fff00,#42ff00,#32ff00)"></i><i style="background:linear-gradient(90deg,#00ff7b,#00ff56,#00ff34,#00ff16,#05ff00,#1cff00,#30ff00,#40ff00,#4cff00,#55ff00,#5aff00,#5bff00,#59ff00,#54ff00,#4aff00,#3eff00,#2dff00)"></i><i style="background:linear-gradient(90deg,#00ff7c,#00ff57,#00ff35,#00ff17,#03ff00,#1aff00,#2dff00,#3dff00,#49ff00,#51ff00,#56ff00,#58ff00,#55ff00,#4fff00,#46ff00,#39ff00,#28ff00)"></i><i style="background:linear-gradient(90deg,#00ff7d,#00ff58,#00ff37,#00ff19,#01ff00,#17ff00,#2aff00,#3aff00,#46ff00,#4eff00,#53ff00,#54ff00,#51ff00,#4bff00,#41ff00,#34ff00,#23ff00)"></i><i style="background:linear-gradient(90deg,#00ff7f,#00ff5a,#00ff39,#00ff1b,#00ff01,#15ff00,#28ff00,#37ff00,#43ff00,#4bff00,#4fff00,#50ff00,#4dff00,#47ff00,#3dff00,#2fff00,#1eff00)"></i><i style="background:linear-gradient(90deg,#00ff80,#00ff5b,#00ff3b,#00ff1d,#00ff04,#12ff00,#25ff00,#34ff00,#3fff00,#47ff00,#4bff00,#4cff00,#49ff00,#42ff00,#38ff00,#2aff00,#19ff00)"></i><i style="background:linear-gradient(90deg,#00ff81,#00ff5d,#00ff3c,#00ff1f,#00ff06,#10ff00,#22ff00,#31ff00,#3cff00,#43ff00,#47ff00,#48ff00,#44ff00,#3eff00,#33ff00,#25ff00,#14ff00)"></i><i style="background:linear-gradient(90deg,#00ff83,#00ff5f,#00ff3e,#00ff22,#00ff08,#0dff00,#1fff00,#2eff00,#39ff00,#40ff00,#44ff00,#44ff00,#40ff00,#39ff00,#2eff00,#20ff00,#0eff00)"></i><i style="background:linear-gradient(90deg,#00ff84,#00ff60,#00ff40,#00ff24,#00ff0b,#0bff00,#1cff00,#2bff00,#35ff00,#3cff00,#40ff00,#3fff00,#3cff00,#34ff00,#29ff00,#1bff00,#09ff00)"></i><i style="background:linear-gradient(90deg,#00ff86,#00ff62,#00ff42,#00ff26,#00ff0d,#08ff00,#19ff00,#27ff00,#32ff00,#38ff00,#3cff00,#3bff00,#37ff00,#30ff00,#25ff00,#16ff00,#03ff00)"></i><i style="background:linear-gradient(90deg,#00ff87,#00ff64,#00ff44,#00ff28,#00ff10,#05ff00,#16ff00,#24ff00,#2eff00,#35ff00,#38ff00,#37ff00,#33ff00,#2bff00,#20ff00,#11ff00,#00ff02)"></i><i style="background:linear-gradient(90deg,#00ff89,#00ff66,#00ff47,#00ff2b,#00ff13,#02ff00,#13ff00,#21ff00,#2bff00,#31ff00,#34ff00,#33ff00,#2eff00,#26ff00,#1aff00,#0bff00,#00ff08)"></i><i style="background:linear-gradient(90deg,#00ff8b,#00ff68,#00ff49,#00ff2d,#00ff15,#00ff01,#10ff00,#1dff00,#27ff00,#2dff00,#2fff00,#2eff00,#2aff00,#21ff00,#15ff00,#06ff00,#00ff0d)"></i><i style="background:linear-gradient(90deg,#00ff8c,#00ff6a,#00ff4b,#00ff30,#00ff18,#00ff04,#0dff00,#1aff00,#23ff00,#29ff00,#2bff00,#2aff00,#25ff00,#1cff00,#10ff00,#00ff00,#00ff13)"></i><i style="background:linear-gradient(90deg,#00ff8e,#00ff6c,#00ff4d,#00ff32,#00ff1b,#00ff07,#0aff00,#16ff00,#1fff00,#25ff00,#27ff00,#25ff00,#20ff00,#17ff00,#0bff00,#00ff05,#00ff19)"></i><i style="background:linear-gradient(90deg,#00ff90,#00ff6e,#00ff50,#00ff35,#00ff1e,#00ff0a,#06ff00,#13ff00,#1cff00,#21ff00,#23ff00,#21ff00,#1bff00,#12ff00,#06ff00,#00ff0b,#00ff1e)"></i><i style="background:linear-gradient(90deg,#00ff92,#00ff70,#00ff52,#00ff37,#00ff20,#00ff0d,#03ff00,#0fff00,#18ff00,#1dff00,#1eff00,#1cff00,#16ff00,#0dff00,#00ff00,#00ff10,#00ff24)"></i><i style="background:linear-gradient(90deg,#00ff94,#00ff73,#00ff55,#00ff3a,#00ff23,#00ff10,#00ff01,#0bff00,#14ff00,#19ff00,#1aff00,#17ff00,#11ff00,#08ff00,#00ff05,#00ff16,#00ff2a)"></i><i style="background:linear-gradient(90deg,#00ff96,#00ff75,#00ff57,#00ff3d,#00ff26,#00ff14,#00ff04,#08ff00,#10ff00,#14ff00,#15ff00,#13ff00,#0cff00,#03ff00,#00ff0b,#00ff1c,#00ff30)"></i><i style="background:linear-gradient(90deg,#00ff98,#00ff77,#00ff5a,#00ff40,#00ff2a,#00ff17,#00ff08,#04ff00,#0cff00,#10ff00,#11ff00,#0eff00,#07ff00,#00ff03,#00ff10,#00ff21,#00ff36)"></i><i style="background:linear-gradient(90deg,#00ff9a,#00ff7a,#00ff5c,#00ff43,#00ff2d,#00ff1a,#00ff0b,#00ff00,#08ff00,#0cff00,#0cff00,#09ff00,#02ff00,#00ff08,#00ff16,#00ff27,#00ff3c)"></i><i style="background:linear-gradient(90deg,#00ff9d,#00ff7c,#00ff5f,#00ff46,#00ff30,#00ff1e,#00ff0f,#00ff04,#03ff00,#07ff00,#07ff00,#04ff00,#00ff03,#00ff0d,#00ff1b,#00ff2d,#00ff42)"></i><i style="background:linear-gradient(90deg,#00ff9f,#00ff7f,#00ff62,#00ff49,#00ff33,#00ff21,#00ff13,#00ff08,#00ff01,#03ff00,#03ff00,#00ff01,#00ff08,#00ff13,#00ff21,#00ff33,#00ff49)"></i><i style="background:linear-gradient(90deg,#00ffa1,#00ff81,#00ff65,#00ff4c,#00ff37,#00ff25,#00ff17,#00ff0c,#00ff05,#00ff02,#00ff02,#00ff06,#00ff0d,#00ff18,#00ff27,#00ff39,#00ff4f)"></i><i style="background:linear-gradient(90deg,#00ffa4,#00ff84,#00ff68,#00ff4f,#00ff3a,#00ff28,#00ff1b,#00ff10,#00ff0a,#00ff06,#00ff07,#00ff0b,#00ff13,#00ff1e,#00ff2d,#00ff3f,#00ff55)"></i><i style="background:linear-gradient(90deg,#00ffa6,#00ff87,#00ff6b,#00ff52,#00ff3d,#00ff2c,#00ff1e,#00ff14,#00ff0e,#00ff0b,#00ff0c,#00ff10,#00ff18,#00ff24,#00ff33,#00ff45,#00ff5c)"></i><i style="background:linear-gradient(90deg,#00ffa9,#00ff89,#00ff6e,#00ff55,#00ff41,#00ff30,#00ff22,#00ff19,#00ff12,#00ff10,#00ff11,#00ff15,#00ff1d,#00ff29,#00ff39,#00ff4b,#00ff62)"></i><i style="background:linear-gradient(90deg,#00ffab,#00ff8c,#00ff71,#00ff59,#00ff44,#00ff34,#00ff27,#00ff1d,#00ff17,#00ff15,#00ff16,#00ff1b,#00ff23,#00ff2f,#00ff3f,#00ff52,#00ff68)"></i><i style="background:linear-gradient(90deg,#00ffae,#00ff8f,#00ff74,#00ff5c,#00ff48,#00ff38,#00ff2b,#00ff21,#00ff1c,#00ff19,#00ff1b,#00ff20,#00ff29,#00ff35,#00ff45,#00ff58,#00ff6f)"></i><i style="background:linear-gradient(90deg,#00ffb1,#00ff92,#00ff77,#00ff60,#00ff4c,#00ff3b,#00ff2f,#00ff26,#00ff20,#00ff1e,#00ff20,#00ff25,#00ff2e,#00ff3b,#00ff4b,#00ff5e,#00ff76)"></i><i style="background:linear-gradient(90deg,#00ffb3,#00ff95,#00ff7a,#00ff63,#00ff4f,#00ff3f,#00ff33,#00ff2a,#00ff25,#00ff23,#00ff25,#00ff2b,#00ff34,#00ff41,#00ff51,#00ff65,#00ff7c)"></i><i style="background:linear-gradient(90deg,#00ffb6,#00ff98,#00ff7d,#00ff67,#00ff53,#00ff43,#00ff37,#00ff2f,#00ff2a,#00ff28,#00ff2a,#00ff30,#00ff3a,#00ff47,#00ff57,#00ff6b,#00ff83)"></i><i style="background:linear-gradient(90deg,#00ffb9,#00ff9b,#00ff81,#00ff6a,#00ff57,#00ff48,#00ff3c,#00ff33,#00ff2f,#00ff2d,#00ff30,#00ff36,#00ff3f,#00ff4d,#00ff5d,#00ff72,#00ff8a)"></i><i style="background:linear-gradient(90deg,#00ffbc,#00ff9e,#00ff84,#00ff6e,#00ff5b,#00ff4c,#00ff40,#00ff38,#00ff33,#00ff32,#00ff35,#00ff3b,#00ff45,#00ff53,#00ff64,#00ff78,#00ff91)"></i><i style="background:linear-gradient(90deg,#00ffbf,#00ffa2,#00ff88,#00ff72,#00ff5f,#00ff50,#00ff44,#00ff3d,#00ff38,#00ff38,#00ff3b,#00ff41,#00ff4b,#00ff59,#00ff6a,#00ff7f,#00ff97)"></i><i style="background:linear-gradient(90deg,#00ffc2,#00ffa5,#00ff8b,#00ff75,#00ff63,#00ff54,#00ff49,#00ff41,#00ff3d,#00ff3d,#00ff40,#00ff47,#00ff51,#00ff5f,#00ff71,#00ff86,#00ff9e)"></i><i style="background:linear-gradient(90deg,#00ffc5,#00ffa8,#00ff8f,#00ff79,#00ff67,#00ff58,#00ff4e,#00ff46,#00ff42,#00ff42,#00ff46,#00ff4d,#00ff57,#00ff65,#00ff77,#00ff8d,#00ffa5)"></i><i style="background:linear-gradient(90deg,#00ffc8,#00ffac,#00ff92,#00ff7d,#00ff6b,#00ff5d,#00ff52,#00ff4b,#00ff48,#00ff48,#00ff4b,#00ff52,#00ff5d,#00ff6c,#00ff7e,#00ff93,#00ffad)"></i><i style="background:linear-gradient(90deg,#00ffcb,#00ffaf,#00ff96,#00ff81,#00ff6f,#00ff61,#00ff57,#00ff50,#00ff4d,#00ff4d,#00ff51,#00ff58,#00ff63,#00ff72,#00ff84,#00ff9a,#00ffb4)"></i><i style="background:linear-gradient(90deg,#00ffcf,#00ffb3,#00ff9a,#00ff85,#00ff74,#00ff66,#00ff5c,#00ff55,#00ff52,#00ff52,#00ff57,#00ff5e,#00ff6a,#00ff79,#00ff8b,#00ffa1,#00ffbb)"></i><i style="background:linear-gradient(90deg,#00ffd2,#00ffb6,#00ff9e,#00ff89,#00ff78,#00ff6a,#00ff60,#00ff5a,#00ff57,#00ff58,#00ff5c,#00ff64,#00ff70,#00ff7f,#00ff92,#00ffa8,#00ffc2)"></i><i style="background:linear-gradient(90deg,#00ffd5,#00ffba,#00ffa2,#00ff8d,#00ff7c,#00ff6f,#00ff65,#00ff5f,#00ff5d,#00ff5e,#00ff62,#00ff6a,#00ff76,#00ff86,#00ff99,#00ffaf,#00ffc9)"></i><i style="background:linear-gradient(90deg,#00ffd9,#00ffbd,#00ffa6,#00ff91,#00ff81,#00ff74,#00ff6a,#00ff64,#00ff62,#00ff63,#00ff68,#00ff71,#00ff7d,#00ff8c,#00ffa0,#00ffb6,#00ffd1)"></i><i style="background:linear-gradient(90deg,#00ffdc,#00ffc1,#00ffaa,#00ff96,#00ff85,#00ff78,#00ff6f,#00ff6a,#00ff67,#00ff69,#00ff6e,#00ff77,#00ff83,#00ff93,#00ffa6,#00ffbe,#00ffd8)"></i><i style="background:linear-gradient(90deg,#00ffe0,#00ffc5,#00ffae,#00ff9a,#00ff8a,#00ff7d,#00ff74,#00ff6f,#00ff6d,#00ff6f,#00ff74,#00ff7d,#00ff8a,#00ff9a,#00ffad,#00ffc5,#00ffe0)"></i><i style="background:linear-gradient(90deg,#00ffe4,#00ffc9,#00ffb2,#00ff9e,#00ff8e,#00ff82,#00ff79,#00ff74,#00ff73,#00ff75,#00ff7a,#00ff83,#00ff90,#00ffa1,#00ffb4,#00ffcc,#00ffe7)"></i><i style="background:linear-gradient(90deg,#00ffe7,#00ffcd,#00ffb6,#00ffa3,#00ff93,#00ff87,#00ff7e,#00ff7a,#00ff78,#00ff7a,#00ff80,#00ff8a,#00ff97,#00ffa7,#00ffbc,#00ffd3,#00ffef)"></i><i style="background:linear-gradient(90deg,#00ffeb,#00ffd1,#00ffba,#00ffa7,#00ff98,#00ff8c,#00ff84,#00ff7f,#00ff7e,#00ff80,#00ff86,#00ff90,#00ff9d,#00ffae,#00ffc3,#00ffdb,#00fff6)"></i><i style="background:linear-gradient(90deg,#00ffef,#00ffd5,#00ffbe,#00ffac,#00ff9d,#00ff91,#00ff89,#00ff84,#00ff84,#00ff86,#00ff8d,#00ff97,#00ffa4,#00ffb5,#00ffca,#00ffe2,#00fffe)"></i><i style="background:linear-gradient(90deg,#00fff3,#00ffd9,#00ffc3,#00ffb0,#00ffa1,#00ff96,#00ff8e,#00ff8a,#00ff89,#00ff8c,#00ff93,#00ff9d,#00ffab,#00ffbc,#00ffd1,#00ffea,#00f8ff)"></i><i style="background:linear-gradient(90deg,#00fff7,#00ffdd,#00ffc7,#00ffb5,#00ffa6,#00ff9b,#00ff94,#00ff90,#00ff8f,#00ff93,#00ff99,#00ffa4,#00ffb2,#00ffc3,#00ffd9,#00fff1,#00f0ff)"></i><i style="background:linear-gradient(90deg,#00fffb,#00ffe1,#00ffcc,#00ffba,#00ffab,#00ffa0,#00ff99,#00ff95,#00ff95,#00ff99,#00ffa0,#00ffaa,#00ffb9,#00ffcb,#00ffe0,#00fff9,#00e8ff)"></i><i style="background:linear-gradient(90deg,#00ffff,#00ffe6,#00ffd0,#00ffbe,#00ffb0,#00ffa6,#00ff9f,#00ff9b,#00ff9b,#00ff9f,#00ffa6,#00ffb1,#00ffc0,#00ffd2,#00ffe7,#00fdff,#00e0ff)"></i><i style="background:linear-gradient(90deg,#00fbff,#00ffea,#00ffd5,#00ffc3,#00ffb5,#00ffab,#00ffa4,#00ffa1,#00ffa1,#00ffa5,#00ffad,#00ffb8,#00ffc7,#00ffd9,#00ffef,#00f6ff,#00d8ff)"></i><i style="background:linear-gradient(90deg,#00f7ff,#00ffee,#00ffd9,#00ffc8,#00ffba,#00ffb0,#00ffaa,#00ffa7,#00ffa7,#00ffac,#00ffb3,#00ffbf,#00ffce,#00ffe0,#00fff7,#00eeff,#00d0ff)"></i><i style="background:linear-gradient(90deg,#00f3ff,#00fff3,#00ffde,#00ffcd,#00ffc0,#00ffb6,#00ffaf,#00ffad,#00ffae,#00ffb2,#00ffba,#00ffc6,#00ffd5,#00ffe8,#00fffe,#00e6ff,#00c8ff)"></i><i style="background:linear-gradient(90deg,#00efff,#00fff7,#00ffe3,#00ffd2,#00ffc5,#00ffbb,#00ffb5,#00ffb3,#00ffb4,#00ffb9,#00ffc1,#00ffcd,#00ffdc,#00ffef,#00f8ff,#00deff,#00c0ff)"></i></div>
<div class="f" style="left:287px;top:289px;width:204px;height:203px"><i style="background:linear-gradient(90deg,#06ff00,#37ff00,#64ff00,#8eff00,#b4ff00,#d7ff00,#f6ff00,#ffed00,#ffd500,#ffc100,#ffb000,#ffa300,#ff9a00,#ff9400,#ff9200,#ff9300,#ff9800)"></i><i style="background:linear-gradient(90deg,#08ff00,#38ff00,#65ff00,#8fff00,#b5ff00,#d7ff00,#f6ff00,#ffed00,#ffd600,#ffc200,#ffb100,#ffa400,#ff9b00,#ff9600,#ff9400,#ff9500,#ff9a00)"></i><i style="background:linear-gradient(90deg,#09ff00,#39ff00,#66ff00,#8fff00,#b5ff00,#d7ff00,#f6ff00,#ffed00,#ffd600,#ffc200,#ffb200,#ffa600,#ff9d00,#ff9700,#ff9500,#ff9700,#ff9d00)"></i><i style="background:linear-gradient(90deg,#0aff00,#3bff00,#67ff00,#90ff00,#b6ff00,#d7ff00,#f6ff00,#ffee00,#ffd700,#ffc300,#ffb300,#ffa700,#ff9e00,#ff9900,#ff9700,#ff9900,#ff9f00)"></i><i style="background:linear-gradient(90deg,#0cff00,#3cff00,#68ff00,#91ff00,#b6ff00,#d8ff00,#f6ff00,#ffee00,#ffd700,#ffc400,#ffb400,#ffa800,#ffa000,#ff9b00,#ff9900,#ff9c00,#ffa200)"></i><i style="background:linear-gradient(90deg,#0dff00,#3dff00,#69ff00,#91ff00,#b6ff00,#d8ff00,#f5ff00,#ffee00,#ffd800,#ffc500,#ffb500,#ffaa00,#ffa100,#ff9d00,#ff9c00,#ff9e00,#ffa400)"></i><i style="background:linear-gradient(90deg,#0eff00,#3eff00,#6aff00,#92ff00,#b7ff00,#d8ff00,#f5ff00,#ffef00,#ffd900,#ffc600,#ffb700,#ffab00,#ffa300,#ff9f00,#ff9e00,#ffa000,#ffa700)"></i><i style="background:linear-gradient(90deg,#10ff00,#3fff00,#6aff00,#92ff00,#b7ff00,#d8ff00,#f5ff00,#ffef00,#ffd900,#ffc700,#ffb800,#ffac00,#ffa500,#ffa100,#ffa000,#ffa300,#ffa900)"></i><i style="background:linear-gradient(90deg,#11ff00,#40ff00,#6bff00,#93ff00,#b7ff00,#d8ff00,#f5ff00,#fff000,#ffda00,#ffc800,#ffb900,#ffae00,#ffa600,#ffa300,#ffa200,#ffa500,#ffac00)"></i><i style="background:linear-gradient(90deg,#12ff00,#41ff00,#6cff00,#93ff00,#b7ff00,#d7ff00,#f4ff00,#fff100,#ffdb00,#ffc900,#ffba00,#ffb000,#ffa800,#ffa500,#ffa500,#ffa800,#ffaf00)"></i><i style="background:linear-gradient(90deg,#13ff00,#41ff00,#6cff00,#93ff00,#b7ff00,#d7ff00,#f4ff00,#fff100,#ffdc00,#ffca00,#ffbc00,#ffb100,#ffaa00,#ffa700,#ffa700,#ffab00,#ffb200)"></i><i style="background:linear-gradient(90deg,#14ff00,#42ff00,#6dff00,#94ff00,#b7ff00,#d7ff00,#f3ff00,#fff200,#ffdd00,#ffcb00,#ffbd00,#ffb300,#ffac00,#ffa900,#ffa900,#ffad00,#ffb500)"></i><i style="background:linear-gradient(90deg,#15ff00,#43ff00,#6dff00,#94ff00,#b7ff00,#d7ff00,#f3ff00,#fff300,#ffde00,#ffcd00,#ffbf00,#ffb500,#ffae00,#ffab00,#ffac00,#ffb000,#ffb800)"></i><i style="background:linear-gradient(90deg,#16ff00,#43ff00,#6dff00,#94ff00,#b7ff00,#d6ff00,#f2ff00,#fff400,#ffdf00,#ffce00,#ffc000,#ffb700,#ffb000,#ffae00,#ffae00,#ffb300,#ffbb00)"></i><i style="background:linear-gradient(90deg,#16ff00,#44ff00,#6eff00,#94ff00,#b7ff00,#d6ff00,#f1ff00,#fff500,#ffe000,#ffcf00,#ffc200,#ffb800,#ffb200,#ffb000,#ffb100,#ffb600,#ffbe00)"></i><i style="background:linear-gradient(90deg,#17ff00,#44ff00,#6eff00,#94ff00,#b7ff00,#d5ff00,#f1ff00,#fff600,#ffe100,#ffd100,#ffc400,#ffba00,#ffb500,#ffb200,#ffb400,#ffb900,#ffc100)"></i><i style="background:linear-gradient(90deg,#18ff00,#45ff00,#6eff00,#94ff00,#b6ff00,#d5ff00,#f0ff00,#fff700,#ffe300,#ffd200,#ffc600,#ffbc00,#ffb700,#ffb500,#ffb600,#ffbc00,#ffc400)"></i><i style="background:linear-gradient(90deg,#18ff00,#45ff00,#6eff00,#94ff00,#b6ff00,#d4ff00,#efff00,#fff800,#ffe400,#ffd400,#ffc700,#ffbe00,#ffb900,#ffb700,#ffb900,#ffbf00,#ffc800)"></i><i style="background:linear-gradient(90deg,#19ff00,#45ff00,#6eff00,#94ff00,#b5ff00,#d4ff00,#eeff00,#fff900,#ffe500,#ffd600,#ffc900,#ffc100,#ffbc00,#ffba00,#ffbc00,#ffc200,#ffcb00)"></i><i style="background:linear-gradient(90deg,#1aff00,#46ff00,#6eff00,#93ff00,#b5ff00,#d3ff00,#edff00,#fffa00,#ffe700,#ffd700,#ffcb00,#ffc300,#ffbe00,#ffbd00,#ffbf00,#ffc500,#ffce00)"></i><i style="background:linear-gradient(90deg,#1aff00,#46ff00,#6eff00,#93ff00,#b4ff00,#d2ff00,#ecff00,#fffb00,#ffe800,#ffd900,#ffcd00,#ffc500,#ffc000,#ffbf00,#ffc200,#ffc800,#ffd200)"></i><i style="background:linear-gradient(90deg,#1aff00,#46ff00,#6eff00,#93ff00,#b4ff00,#d1ff00,#ebff00,#fffd00,#ffea00,#ffdb00,#ffcf00,#ffc700,#ffc300,#ffc200,#ffc500,#ffcb00,#ffd500)"></i><i style="background:linear-gradient(90deg,#1bff00,#46ff00,#6eff00,#92ff00,#b3ff00,#d0ff00,#eaff00,#fffe00,#ffec00,#ffdd00,#ffd100,#ffca00,#ffc600,#ffc500,#ffc800,#ffcf00,#ffd900)"></i><i style="background:linear-gradient(90deg,#1bff00,#46ff00,#6eff00,#92ff00,#b3ff00,#cfff00,#e9ff00,#ffff00,#ffed00,#ffdf00,#ffd400,#ffcc00,#ffc800,#ffc800,#ffcb00,#ffd200,#ffdd00)"></i><i style="background:linear-gradient(90deg,#1bff00,#46ff00,#6eff00,#91ff00,#b2ff00,#ceff00,#e8ff00,#fdff00,#ffef00,#ffe100,#ffd600,#ffcf00,#ffcb00,#ffcb00,#ffce00,#ffd600,#ffe000)"></i><i style="background:linear-gradient(90deg,#1bff00,#46ff00,#6dff00,#91ff00,#b1ff00,#cdff00,#e6ff00,#fcff00,#fff100,#ffe300,#ffd800,#ffd100,#ffce00,#ffce00,#ffd200,#ffd900,#ffe400)"></i><i style="background:linear-gradient(90deg,#1bff00,#46ff00,#6dff00,#90ff00,#b0ff00,#ccff00,#e5ff00,#faff00,#fff300,#ffe500,#ffda00,#ffd400,#ffd100,#ffd100,#ffd500,#ffdd00,#ffe800)"></i><i style="background:linear-gradient(90deg,#1bff00,#46ff00,#6cff00,#90ff00,#afff00,#cbff00,#e3ff00,#f8ff00,#fff400,#ffe700,#ffdd00,#ffd600,#ffd300,#ffd400,#ffd800,#ffe000,#ffec00)"></i><i style="background:linear-gradient(90deg,#1bff00,#45ff00,#6cff00,#8fff00,#aeff00,#caff00,#e2ff00,#f7ff00,#fff600,#ffe900,#ffdf00,#ffd900,#ffd600,#ffd700,#ffdc00,#ffe400,#fff000)"></i><i style="background:linear-gradient(90deg,#1bff00,#45ff00,#6bff00,#8eff00,#adff00,#c9ff00,#e0ff00,#f5ff00,#fff800,#ffeb00,#ffe200,#ffdc00,#ffd900,#ffdb00,#ffdf00,#ffe800,#fff400)"></i><i style="background:linear-gradient(90deg,#1bff00,#45ff00,#6bff00,#8dff00,#acff00,#c7ff00,#dfff00,#f3ff00,#fffb00,#ffee00,#ffe400,#ffdf00,#ffdc00,#ffde00,#ffe300,#ffeb00,#fff800)"></i><i style="background:linear-gradient(90deg,#1bff00,#44ff00,#6aff00,#8cff00,#abff00,#c6ff00,#ddff00,#f1ff00,#fffd00,#fff000,#ffe700,#ffe100,#ffe000,#ffe100,#ffe600,#ffef00,#fffc00)"></i><i style="background:linear-gradient(90deg,#1bff00,#44ff00,#69ff00,#8bff00,#aaff00,#c4ff00,#dbff00,#efff00,#ffff00,#fff300,#ffea00,#ffe400,#ffe300,#ffe500,#ffea00,#fff300,#feff00)"></i><i style="background:linear-gradient(90deg,#1aff00,#43ff00,#69ff00,#8aff00,#a8ff00,#c3ff00,#daff00,#edff00,#fdff00,#fff500,#ffec00,#ffe700,#ffe600,#ffe800,#ffee00,#fff700,#faff00)"></i><i style="background:linear-gradient(90deg,#1aff00,#43ff00,#68ff00,#89ff00,#a7ff00,#c1ff00,#d8ff00,#ebff00,#faff00,#fff800,#ffef00,#ffea00,#ffe900,#ffec00,#fff200,#fffb00,#f6ff00)"></i><i style="background:linear-gradient(90deg,#1aff00,#42ff00,#67ff00,#88ff00,#a6ff00,#c0ff00,#d6ff00,#e9ff00,#f8ff00,#fffa00,#fff200,#ffee00,#ffed00,#ffef00,#fff500,#ffff00,#f1ff00)"></i><i style="background:linear-gradient(90deg,#19ff00,#41ff00,#66ff00,#87ff00,#a4ff00,#beff00,#d4ff00,#e7ff00,#f6ff00,#fffd00,#fff500,#fff100,#fff000,#fff300,#fff900,#fbff00,#edff00)"></i><i style="background:linear-gradient(90deg,#19ff00,#40ff00,#65ff00,#85ff00,#a3ff00,#bcff00,#d2ff00,#e4ff00,#f3ff00,#feff00,#fff800,#fff400,#fff300,#fff700,#fffd00,#f6ff00,#e9ff00)"></i><i style="background:linear-gradient(90deg,#18ff00,#40ff00,#64ff00,#84ff00,#a1ff00,#baff00,#d0ff00,#e2ff00,#f1ff00,#fcff00,#fffb00,#fff700,#fff700,#fffa00,#fdff00,#f2ff00,#e4ff00)"></i><i style="background:linear-gradient(90deg,#17ff00,#3fff00,#63ff00,#83ff00,#9fff00,#b8ff00,#ceff00,#e0ff00,#eeff00,#f9ff00,#fffe00,#fffb00,#fffb00,#fffe00,#f9ff00,#eeff00,#dfff00)"></i><i style="background:linear-gradient(90deg,#17ff00,#3eff00,#61ff00,#81ff00,#9eff00,#b6ff00,#ccff00,#ddff00,#ebff00,#f6ff00,#fdff00,#fffe00,#fffe00,#fcff00,#f4ff00,#e9ff00,#dbff00)"></i><i style="background:linear-gradient(90deg,#16ff00,#3dff00,#60ff00,#80ff00,#9cff00,#b4ff00,#c9ff00,#dbff00,#e9ff00,#f3ff00,#faff00,#fdff00,#fcff00,#f8ff00,#f0ff00,#e5ff00,#d6ff00)"></i><i style="background:linear-gradient(90deg,#15ff00,#3cff00,#5fff00,#7eff00,#9aff00,#b2ff00,#c7ff00,#d8ff00,#e6ff00,#f0ff00,#f6ff00,#f9ff00,#f8ff00,#f4ff00,#ecff00,#e1ff00,#d1ff00)"></i><i style="background:linear-gradient(90deg,#14ff00,#3bff00,#5dff00,#7dff00,#98ff00,#b0ff00,#c5ff00,#d6ff00,#e3ff00,#edff00,#f3ff00,#f5ff00,#f4ff00,#f0ff00,#e8ff00,#dcff00,#cdff00)"></i><i style="background:linear-gradient(90deg,#13ff00,#39ff00,#5cff00,#7bff00,#96ff00,#aeff00,#c2ff00,#d3ff00,#e0ff00,#eaff00,#f0ff00,#f2ff00,#f1ff00,#ecff00,#e3ff00,#d7ff00,#c8ff00)"></i><i style="background:linear-gradient(90deg,#12ff00,#38ff00,#5aff00,#79ff00,#94ff00,#acff00,#c0ff00,#d0ff00,#ddff00,#e6ff00,#ecff00,#eeff00,#edff00,#e8ff00,#dfff00,#d3ff00,#c3ff00)"></i><i style="background:linear-gradient(90deg,#11ff00,#37ff00,#59ff00,#77ff00,#92ff00,#aaff00,#bdff00,#ceff00,#daff00,#e3ff00,#e9ff00,#eaff00,#e9ff00,#e3ff00,#daff00,#ceff00,#beff00)"></i><i style="background:linear-gradient(90deg,#10ff00,#35ff00,#57ff00,#75ff00,#90ff00,#a7ff00,#bbff00,#cbff00,#d7ff00,#e0ff00,#e5ff00,#e7ff00,#e5ff00,#dfff00,#d6ff00,#c9ff00,#b9ff00)"></i><i style="background:linear-gradient(90deg,#0fff00,#34ff00,#56ff00,#74ff00,#8eff00,#a5ff00,#b8ff00,#c8ff00,#d4ff00,#dcff00,#e1ff00,#e3ff00,#e1ff00,#dbff00,#d1ff00,#c4ff00,#b4ff00)"></i><i style="background:linear-gradient(90deg,#0eff00,#32ff00,#54ff00,#72ff00,#8cff00,#a2ff00,#b5ff00,#c5ff00,#d1ff00,#d9ff00,#deff00,#dfff00,#dcff00,#d6ff00,#cdff00,#bfff00,#afff00)"></i><i style="background:linear-gradient(90deg,#0cff00,#31ff00,#52ff00,#70ff00,#8aff00,#a0ff00,#b3ff00,#c2ff00,#cdff00,#d6ff00,#daff00,#dbff00,#d8ff00,#d2ff00,#c8ff00,#bbff00,#a9ff00)"></i><i style="background:linear-gradient(90deg,#0bff00,#2fff00,#50ff00,#6dff00,#87ff00,#9dff00,#b0ff00,#bfff00,#caff00,#d2ff00,#d6ff00,#d7ff00,#d4ff00,#cdff00,#c3ff00,#b6ff00,#a4ff00)"></i><i style="background:linear-gradient(90deg,#09ff00,#2eff00,#4eff00,#6bff00,#85ff00,#9bff00,#adff00,#bcff00,#c7ff00,#ceff00,#d2ff00,#d3ff00,#d0ff00,#c9ff00,#beff00,#b0ff00,#9fff00)"></i><i style="background:linear-gradient(90deg,#08ff00,#2cff00,#4cff00,#69ff00,#82ff00,#98ff00,#aaff00,#b8ff00,#c3ff00,#cbff00,#ceff00,#cfff00,#cbff00,#c4ff00,#b9ff00,#abff00,#9aff00)"></i><i style="background:linear-gradient(90deg,#06ff00,#2aff00,#4aff00,#67ff00,#80ff00,#95ff00,#a7ff00,#b5ff00,#c0ff00,#c7ff00,#caff00,#caff00,#c7ff00,#bfff00,#b5ff00,#a6ff00,#94ff00)"></i><i style="background:linear-gradient(90deg,#05ff00,#28ff00,#48ff00,#65ff00,#7dff00,#92ff00,#a4ff00,#b2ff00,#bcff00,#c3ff00,#c6ff00,#c6ff00,#c2ff00,#bbff00,#b0ff00,#a1ff00,#8fff00)"></i><i style="background:linear-gradient(90deg,#03ff00,#26ff00,#46ff00,#62ff00,#7bff00,#90ff00,#a1ff00,#afff00,#b9ff00,#bfff00,#c2ff00,#c2ff00,#beff00,#b6ff00,#aaff00,#9cff00,#89ff00)"></i><i style="background:linear-gradient(90deg,#02ff00,#25ff00,#44ff00,#60ff00,#78ff00,#8dff00,#9eff00,#abff00,#b5ff00,#bbff00,#beff00,#bdff00,#b9ff00,#b1ff00,#a5ff00,#96ff00,#83ff00)"></i><i style="background:linear-gradient(90deg,#00ff00,#23ff00,#42ff00,#5dff00,#75ff00,#8aff00,#9aff00,#a8ff00,#b1ff00,#b7ff00,#baff00,#b9ff00,#b4ff00,#acff00,#a0ff00,#91ff00,#7eff00)"></i><i style="background:linear-gradient(90deg,#00ff02,#20ff00,#3fff00,#5bff00,#72ff00,#87ff00,#97ff00,#a4ff00,#aeff00,#b3ff00,#b6ff00,#b4ff00,#afff00,#a7ff00,#9bff00,#8bff00,#78ff00)"></i><i style="background:linear-gradient(90deg,#00ff04,#1eff00,#3dff00,#58ff00,#70ff00,#84ff00,#94ff00,#a1ff00,#aaff00,#afff00,#b1ff00,#b0ff00,#abff00,#a2ff00,#96ff00,#86ff00,#72ff00)"></i><i style="background:linear-gradient(90deg,#00ff06,#1cff00,#3bff00,#55ff00,#6dff00,#80ff00,#90ff00,#9dff00,#a6ff00,#abff00,#adff00,#abff00,#a6ff00,#9dff00,#90ff00,#80ff00,#6cff00)"></i><i style="background:linear-gradient(90deg,#00ff08,#1aff00,#38ff00,#53ff00,#6aff00,#7dff00,#8dff00,#99ff00,#a2ff00,#a7ff00,#a9ff00,#a7ff00,#a1ff00,#98ff00,#8bff00,#7bff00,#67ff00)"></i><i style="background:linear-gradient(90deg,#00ff0a,#18ff00,#36ff00,#50ff00,#67ff00,#7aff00,#89ff00,#95ff00,#9eff00,#a3ff00,#a4ff00,#a2ff00,#9cff00,#92ff00,#85ff00,#75ff00,#61ff00)"></i><i style="background:linear-gradient(90deg,#00ff0c,#15ff00,#33ff00,#4dff00,#64ff00,#77ff00,#86ff00,#92ff00,#9aff00,#9fff00,#a0ff00,#9dff00,#97ff00,#8dff00,#80ff00,#6fff00,#5bff00)"></i><i style="background:linear-gradient(90deg,#00ff0e,#13ff00,#30ff00,#4aff00,#60ff00,#73ff00,#82ff00,#8eff00,#96ff00,#9aff00,#9bff00,#98ff00,#92ff00,#88ff00,#7aff00,#69ff00,#55ff00)"></i><i style="background:linear-gradient(90deg,#00ff10,#10ff00,#2eff00,#47ff00,#5dff00,#70ff00,#7fff00,#8aff00,#92ff00,#96ff00,#96ff00,#93ff00,#8dff00,#82ff00,#75ff00,#63ff00,#4eff00)"></i><i style="background:linear-gradient(90deg,#00ff13,#0eff00,#2bff00,#44ff00,#5aff00,#6cff00,#7bff00,#86ff00,#8dff00,#91ff00,#92ff00,#8eff00,#87ff00,#7dff00,#6fff00,#5dff00,#48ff00)"></i><i style="background:linear-gradient(90deg,#00ff15,#0bff00,#28ff00,#41ff00,#57ff00,#69ff00,#77ff00,#82ff00,#89ff00,#8dff00,#8dff00,#89ff00,#82ff00,#77ff00,#69ff00,#57ff00,#42ff00)"></i><i style="background:linear-gradient(90deg,#00ff17,#09ff00,#25ff00,#3eff00,#53ff00,#65ff00,#73ff00,#7eff00,#85ff00,#88ff00,#88ff00,#84ff00,#7dff00,#72ff00,#63ff00,#51ff00,#3cff00)"></i><i style="background:linear-gradient(90deg,#00ff1a,#06ff00,#22ff00,#3bff00,#50ff00,#61ff00,#6fff00,#7aff00,#80ff00,#83ff00,#83ff00,#7fff00,#77ff00,#6cff00,#5eff00,#4bff00,#35ff00)"></i><i style="background:linear-gradient(90deg,#00ff1c,#03ff00,#1fff00,#38ff00,#4cff00,#5eff00,#6bff00,#75ff00,#7cff00,#7fff00,#7eff00,#7aff00,#72ff00,#67ff00,#58ff00,#45ff00,#2fff00)"></i><i style="background:linear-gradient(90deg,#00ff1f,#00ff00,#1cff00,#34ff00,#49ff00,#5aff00,#67ff00,#71ff00,#77ff00,#7aff00,#79ff00,#75ff00,#6cff00,#61ff00,#52ff00,#3fff00,#28ff00)"></i><i style="background:linear-gradient(90deg,#00ff22,#00ff03,#19ff00,#31ff00,#45ff00,#56ff00,#63ff00,#6dff00,#73ff00,#75ff00,#74ff00,#6fff00,#67ff00,#5bff00,#4cff00,#39ff00,#22ff00)"></i><i style="background:linear-gradient(90deg,#00ff24,#00ff06,#16ff00,#2dff00,#42ff00,#52ff00,#5fff00,#68ff00,#6eff00,#70ff00,#6fff00,#6aff00,#61ff00,#55ff00,#45ff00,#32ff00,#1bff00)"></i><i style="background:linear-gradient(90deg,#00ff27,#00ff09,#13ff00,#2aff00,#3eff00,#4eff00,#5bff00,#64ff00,#69ff00,#6bff00,#6aff00,#64ff00,#5cff00,#4fff00,#3fff00,#2cff00,#15ff00)"></i><i style="background:linear-gradient(90deg,#00ff2a,#00ff0c,#0fff00,#26ff00,#3aff00,#4aff00,#56ff00,#5fff00,#65ff00,#66ff00,#64ff00,#5fff00,#56ff00,#49ff00,#39ff00,#25ff00,#0eff00)"></i><i style="background:linear-gradient(90deg,#00ff2d,#00ff0f,#0cff00,#23ff00,#36ff00,#46ff00,#52ff00,#5bff00,#60ff00,#61ff00,#5fff00,#59ff00,#50ff00,#43ff00,#33ff00,#1fff00,#07ff00)"></i><i style="background:linear-gradient(90deg,#00ff30,#00ff12,#08ff00,#1fff00,#32ff00,#42ff00,#4eff00,#56ff00,#5bff00,#5cff00,#5aff00,#54ff00,#4aff00,#3dff00,#2cff00,#18ff00,#00ff00)"></i><i style="background:linear-gradient(90deg,#00ff33,#00ff15,#05ff00,#1bff00,#2eff00,#3eff00,#49ff00,#51ff00,#56ff00,#57ff00,#54ff00,#4eff00,#44ff00,#37ff00,#26ff00,#12ff00,#00ff07)"></i><i style="background:linear-gradient(90deg,#00ff36,#00ff18,#01ff00,#18ff00,#2aff00,#39ff00,#45ff00,#4dff00,#51ff00,#52ff00,#4fff00,#48ff00,#3eff00,#31ff00,#20ff00,#0bff00,#00ff0e)"></i><i style="background:linear-gradient(90deg,#00ff39,#00ff1c,#00ff02,#14ff00,#26ff00,#35ff00,#40ff00,#48ff00,#4cff00,#4cff00,#49ff00,#43ff00,#38ff00,#2bff00,#19ff00,#04ff00,#00ff15)"></i><i style="background:linear-gradient(90deg,#00ff3c,#00ff1f,#00ff06,#10ff00,#22ff00,#31ff00,#3cff00,#43ff00,#47ff00,#47ff00,#44ff00,#3dff00,#32ff00,#24ff00,#13ff00,#00ff03,#00ff1c)"></i><i style="background:linear-gradient(90deg,#00ff3f,#00ff23,#00ff0a,#0cff00,#1eff00,#2cff00,#37ff00,#3eff00,#42ff00,#42ff00,#3eff00,#37ff00,#2cff00,#1eff00,#0cff00,#00ff0a,#00ff23)"></i><i style="background:linear-gradient(90deg,#00ff42,#00ff26,#00ff0d,#08ff00,#1aff00,#28ff00,#32ff00,#39ff00,#3cff00,#3cff00,#38ff00,#31ff00,#26ff00,#17ff00,#05ff00,#00ff11,#00ff2a)"></i><i style="background:linear-gradient(90deg,#00ff46,#00ff2a,#00ff11,#04ff00,#15ff00,#23ff00,#2dff00,#34ff00,#37ff00,#37ff00,#33ff00,#2bff00,#20ff00,#11ff00,#00ff02,#00ff18,#00ff31)"></i><i style="background:linear-gradient(90deg,#00ff49,#00ff2d,#00ff15,#00ff00,#11ff00,#1fff00,#29ff00,#2fff00,#32ff00,#31ff00,#2dff00,#25ff00,#19ff00,#0aff00,#00ff08,#00ff1f,#00ff38)"></i><i style="background:linear-gradient(90deg,#00ff4d,#00ff31,#00ff19,#00ff04,#0dff00,#1aff00,#24ff00,#2aff00,#2cff00,#2bff00,#27ff00,#1fff00,#13ff00,#04ff00,#00ff0f,#00ff26,#00ff40)"></i><i style="background:linear-gradient(90deg,#00ff50,#00ff35,#00ff1d,#00ff09,#08ff00,#15ff00,#1fff00,#25ff00,#27ff00,#26ff00,#21ff00,#19ff00,#0dff00,#00ff03,#00ff16,#00ff2d,#00ff47)"></i><i style="background:linear-gradient(90deg,#00ff54,#00ff39,#00ff21,#00ff0d,#03ff00,#10ff00,#1aff00,#1fff00,#21ff00,#20ff00,#1bff00,#12ff00,#06ff00,#00ff0a,#00ff1d,#00ff34,#00ff4f)"></i><i style="background:linear-gradient(90deg,#00ff57,#00ff3c,#00ff25,#00ff11,#00ff01,#0cff00,#15ff00,#1aff00,#1cff00,#1aff00,#15ff00,#0cff00,#00ff00,#00ff11,#00ff24,#00ff3b,#00ff56)"></i><i style="background:linear-gradient(90deg,#00ff5b,#00ff40,#00ff29,#00ff16,#00ff06,#07ff00,#0fff00,#15ff00,#16ff00,#14ff00,#0fff00,#06ff00,#00ff07,#00ff17,#00ff2b,#00ff43,#00ff5e)"></i><i style="background:linear-gradient(90deg,#00ff5f,#00ff44,#00ff2d,#00ff1a,#00ff0a,#02ff00,#0aff00,#0fff00,#11ff00,#0eff00,#09ff00,#00ff01,#00ff0e,#00ff1e,#00ff32,#00ff4a,#00ff65)"></i><i style="background:linear-gradient(90deg,#00ff63,#00ff48,#00ff32,#00ff1f,#00ff0f,#00ff03,#05ff00,#0aff00,#0bff00,#08ff00,#02ff00,#00ff07,#00ff14,#00ff25,#00ff3a,#00ff52,#00ff6d)"></i><i style="background:linear-gradient(90deg,#00ff66,#00ff4c,#00ff36,#00ff23,#00ff14,#00ff08,#00ff00,#04ff00,#05ff00,#02ff00,#00ff04,#00ff0e,#00ff1b,#00ff2c,#00ff41,#00ff59,#00ff75)"></i><i style="background:linear-gradient(90deg,#00ff6a,#00ff51,#00ff3a,#00ff28,#00ff19,#00ff0e,#00ff06,#00ff02,#00ff01,#00ff04,#00ff0a,#00ff14,#00ff22,#00ff33,#00ff48,#00ff61,#00ff7d)"></i><i style="background:linear-gradient(90deg,#00ff6e,#00ff55,#00ff3f,#00ff2d,#00ff1e,#00ff13,#00ff0b,#00ff07,#00ff07,#00ff0a,#00ff11,#00ff1b,#00ff29,#00ff3b,#00ff50,#00ff68,#00ff85)"></i><i style="background:linear-gradient(90deg,#00ff72,#00ff59,#00ff43,#00ff31,#00ff23,#00ff18,#00ff11,#00ff0d,#00ff0d,#00ff10,#00ff17,#00ff22,#00ff30,#00ff42,#00ff57,#00ff70,#00ff8c)"></i><i style="background:linear-gradient(90deg,#00ff76,#00ff5d,#00ff48,#00ff36,#00ff28,#00ff1d,#00ff16,#00ff13,#00ff13,#00ff16,#00ff1e,#00ff29,#00ff37,#00ff49,#00ff5f,#00ff78,#00ff94)"></i><i style="background:linear-gradient(90deg,#00ff7b,#00ff62,#00ff4d,#00ff3b,#00ff2d,#00ff23,#00ff1c,#00ff19,#00ff19,#00ff1d,#00ff24,#00ff2f,#00ff3e,#00ff50,#00ff66,#00ff7f,#00ff9c)"></i><i style="background:linear-gradient(90deg,#00ff7f,#00ff66,#00ff51,#00ff40,#00ff32,#00ff28,#00ff22,#00ff1f,#00ff1f,#00ff23,#00ff2b,#00ff36,#00ff45,#00ff58,#00ff6e,#00ff87,#00ffa5)"></i><i style="background:linear-gradient(90deg,#00ff83,#00ff6b,#00ff56,#00ff45,#00ff38,#00ff2e,#00ff27,#00ff24,#00ff25,#00ff2a,#00ff32,#00ff3d,#00ff4c,#00ff5f,#00ff75,#00ff8f,#00ffad)"></i></div>
<div class="f" style="left:534px;top:290px;width:203px;height:203px"><i style="background:linear-gradient(90deg,#92ff00,#c4ff00,#f1ff00,#ffe300,#ffbd00,#ff9a00,#ff7b00,#ff5f00,#ff4700,#ff3300,#ff2200,#ff1500,#ff0b00,#ff0500,#ff0200,#ff0300,#ff0700)"></i><i style="background:linear-gradient(90deg,#94ff00,#c5ff00,#f2ff00,#ffe200,#ffbc00,#ff9a00,#ff7b00,#ff5f00,#ff4800,#ff3300,#ff2300,#ff1600,#ff0c00,#ff0600,#ff0400,#ff0500,#ff0a00)"></i><i style="background:linear-gradient(90deg,#95ff00,#c6ff00,#f3ff00,#ffe200,#ffbc00,#ff9a00,#ff7b00,#ff6000,#ff4800,#ff3400,#ff2400,#ff1700,#ff0e00,#ff0800,#ff0600,#ff0700,#ff0c00)"></i><i style="background:linear-gradient(90deg,#97ff00,#c7ff00,#f4ff00,#ffe100,#ffbb00,#ff9900,#ff7b00,#ff6000,#ff4900,#ff3500,#ff2500,#ff1800,#ff0f00,#ff0a00,#ff0800,#ff0a00,#ff0f00)"></i><i style="background:linear-gradient(90deg,#98ff00,#c8ff00,#f5ff00,#ffe000,#ffbb00,#ff9900,#ff7b00,#ff6000,#ff4900,#ff3600,#ff2600,#ff1a00,#ff1100,#ff0c00,#ff0a00,#ff0c00,#ff1100)"></i><i style="background:linear-gradient(90deg,#99ff00,#c9ff00,#f6ff00,#ffe000,#ffbb00,#ff9900,#ff7b00,#ff6100,#ff4a00,#ff3700,#ff2700,#ff1b00,#ff1200,#ff0d00,#ff0c00,#ff0e00,#ff1400)"></i><i style="background:linear-gradient(90deg,#9bff00,#caff00,#f6ff00,#ffdf00,#ffba00,#ff9900,#ff7b00,#ff6100,#ff4b00,#ff3800,#ff2800,#ff1c00,#ff1400,#ff0f00,#ff0e00,#ff1100,#ff1700)"></i><i style="background:linear-gradient(90deg,#9cff00,#cbff00,#f7ff00,#ffdf00,#ffba00,#ff9900,#ff7c00,#ff6200,#ff4b00,#ff3900,#ff2a00,#ff1e00,#ff1600,#ff1100,#ff1000,#ff1300,#ff1900)"></i><i style="background:linear-gradient(90deg,#9dff00,#ccff00,#f8ff00,#ffde00,#ffba00,#ff9900,#ff7c00,#ff6200,#ff4c00,#ff3a00,#ff2b00,#ff1f00,#ff1800,#ff1300,#ff1300,#ff1600,#ff1c00)"></i><i style="background:linear-gradient(90deg,#9eff00,#cdff00,#f8ff00,#ffde00,#ffba00,#ff9900,#ff7c00,#ff6300,#ff4d00,#ff3b00,#ff2c00,#ff2100,#ff1a00,#ff1600,#ff1500,#ff1800,#ff1f00)"></i><i style="background:linear-gradient(90deg,#9fff00,#ceff00,#f9ff00,#ffde00,#ffba00,#ff9a00,#ff7d00,#ff6400,#ff4e00,#ff3c00,#ff2e00,#ff2300,#ff1b00,#ff1800,#ff1800,#ff1b00,#ff2200)"></i><i style="background:linear-gradient(90deg,#a0ff00,#ceff00,#f9ff00,#ffde00,#ffba00,#ff9a00,#ff7d00,#ff6500,#ff4f00,#ff3d00,#ff2f00,#ff2500,#ff1d00,#ff1a00,#ff1a00,#ff1e00,#ff2500)"></i><i style="background:linear-gradient(90deg,#a1ff00,#cfff00,#faff00,#ffde00,#ffba00,#ff9a00,#ff7e00,#ff6500,#ff5000,#ff3f00,#ff3100,#ff2600,#ff1f00,#ff1c00,#ff1d00,#ff2000,#ff2800)"></i><i style="background:linear-gradient(90deg,#a2ff00,#d0ff00,#faff00,#ffdd00,#ffba00,#ff9b00,#ff7f00,#ff6600,#ff5100,#ff4000,#ff3200,#ff2800,#ff2200,#ff1f00,#ff1f00,#ff2300,#ff2b00)"></i><i style="background:linear-gradient(90deg,#a2ff00,#d0ff00,#faff00,#ffdd00,#ffba00,#ff9b00,#ff7f00,#ff6700,#ff5300,#ff4100,#ff3400,#ff2a00,#ff2400,#ff2100,#ff2200,#ff2600,#ff2e00)"></i><i style="background:linear-gradient(90deg,#a3ff00,#d1ff00,#faff00,#ffdd00,#ffbb00,#ff9c00,#ff8000,#ff6800,#ff5400,#ff4300,#ff3600,#ff2c00,#ff2600,#ff2300,#ff2400,#ff2900,#ff3100)"></i><i style="background:linear-gradient(90deg,#a4ff00,#d1ff00,#faff00,#ffde00,#ffbb00,#ff9c00,#ff8100,#ff6900,#ff5500,#ff4500,#ff3800,#ff2e00,#ff2800,#ff2600,#ff2700,#ff2c00,#ff3500)"></i><i style="background:linear-gradient(90deg,#a4ff00,#d1ff00,#fbff00,#ffde00,#ffbb00,#ff9d00,#ff8200,#ff6a00,#ff5600,#ff4600,#ff3900,#ff3000,#ff2b00,#ff2900,#ff2a00,#ff2f00,#ff3800)"></i><i style="background:linear-gradient(90deg,#a5ff00,#d2ff00,#fbff00,#ffde00,#ffbc00,#ff9e00,#ff8300,#ff6c00,#ff5800,#ff4800,#ff3b00,#ff3200,#ff2d00,#ff2b00,#ff2d00,#ff3200,#ff3b00)"></i><i style="background:linear-gradient(90deg,#a5ff00,#d2ff00,#fbff00,#ffde00,#ffbc00,#ff9e00,#ff8400,#ff6d00,#ff5900,#ff4a00,#ff3d00,#ff3500,#ff2f00,#ff2e00,#ff3000,#ff3500,#ff3f00)"></i><i style="background:linear-gradient(90deg,#a6ff00,#d2ff00,#fbff00,#ffde00,#ffbd00,#ff9f00,#ff8500,#ff6e00,#ff5b00,#ff4b00,#ff3f00,#ff3700,#ff3200,#ff3100,#ff3300,#ff3900,#ff4200)"></i><i style="background:linear-gradient(90deg,#a6ff00,#d2ff00,#faff00,#ffdf00,#ffbe00,#ffa000,#ff8600,#ff6f00,#ff5c00,#ff4d00,#ff4100,#ff3900,#ff3400,#ff3300,#ff3600,#ff3c00,#ff4600)"></i><i style="background:linear-gradient(90deg,#a6ff00,#d2ff00,#faff00,#ffdf00,#ffbe00,#ffa100,#ff8700,#ff7100,#ff5e00,#ff4f00,#ff4300,#ff3c00,#ff3700,#ff3600,#ff3900,#ff3f00,#ff4900)"></i><i style="background:linear-gradient(90deg,#a7ff00,#d2ff00,#faff00,#ffe000,#ffbf00,#ffa200,#ff8800,#ff7200,#ff6000,#ff5100,#ff4600,#ff3e00,#ff3a00,#ff3900,#ff3c00,#ff4300,#ff4d00)"></i><i style="background:linear-gradient(90deg,#a7ff00,#d2ff00,#faff00,#ffe000,#ffc000,#ffa300,#ff8a00,#ff7400,#ff6200,#ff5300,#ff4800,#ff4000,#ff3d00,#ff3c00,#ff3f00,#ff4600,#ff5100)"></i><i style="background:linear-gradient(90deg,#a7ff00,#d2ff00,#f9ff00,#ffe100,#ffc100,#ffa400,#ff8b00,#ff7500,#ff6300,#ff5500,#ff4a00,#ff4300,#ff3f00,#ff3f00,#ff4300,#ff4a00,#ff5400)"></i><i style="background:linear-gradient(90deg,#a7ff00,#d2ff00,#f9ff00,#ffe200,#ffc200,#ffa500,#ff8c00,#ff7700,#ff6500,#ff5700,#ff4d00,#ff4600,#ff4200,#ff4200,#ff4600,#ff4d00,#ff5800)"></i><i style="background:linear-gradient(90deg,#a7ff00,#d1ff00,#f8ff00,#ffe200,#ffc300,#ffa600,#ff8e00,#ff7900,#ff6700,#ff5900,#ff4f00,#ff4800,#ff4500,#ff4600,#ff4900,#ff5100,#ff5c00)"></i><i style="background:linear-gradient(90deg,#a7ff00,#d1ff00,#f8ff00,#ffe300,#ffc400,#ffa800,#ff8f00,#ff7a00,#ff6900,#ff5c00,#ff5200,#ff4b00,#ff4800,#ff4900,#ff4d00,#ff5500,#ff6000)"></i><i style="background:linear-gradient(90deg,#a7ff00,#d1ff00,#f7ff00,#ffe400,#ffc500,#ffa900,#ff9100,#ff7c00,#ff6b00,#ff5e00,#ff5400,#ff4e00,#ff4b00,#ff4c00,#ff5000,#ff5800,#ff6400)"></i><i style="background:linear-gradient(90deg,#a7ff00,#d0ff00,#f7ff00,#ffe500,#ffc600,#ffaa00,#ff9200,#ff7e00,#ff6d00,#ff6000,#ff5700,#ff5100,#ff4e00,#ff4f00,#ff5400,#ff5c00,#ff6800)"></i><i style="background:linear-gradient(90deg,#a6ff00,#d0ff00,#f6ff00,#ffe600,#ffc700,#ffac00,#ff9400,#ff8000,#ff7000,#ff6300,#ff5900,#ff5400,#ff5100,#ff5300,#ff5800,#ff6000,#ff6c00)"></i><i style="background:linear-gradient(90deg,#a6ff00,#cfff00,#f5ff00,#ffe700,#ffc800,#ffad00,#ff9600,#ff8200,#ff7200,#ff6500,#ff5c00,#ff5700,#ff5500,#ff5600,#ff5b00,#ff6400,#ff7000)"></i><i style="background:linear-gradient(90deg,#a6ff00,#cfff00,#f4ff00,#ffe800,#ffca00,#ffaf00,#ff9800,#ff8400,#ff7400,#ff6800,#ff5f00,#ff5a00,#ff5800,#ff5a00,#ff5f00,#ff6800,#ff7500)"></i><i style="background:linear-gradient(90deg,#a5ff00,#ceff00,#f3ff00,#ffe900,#ffcb00,#ffb000,#ff9a00,#ff8600,#ff7600,#ff6a00,#ff6200,#ff5d00,#ff5b00,#ff5d00,#ff6300,#ff6c00,#ff7900)"></i><i style="background:linear-gradient(90deg,#a5ff00,#ceff00,#f2ff00,#ffea00,#ffcc00,#ffb200,#ff9b00,#ff8800,#ff7900,#ff6d00,#ff6500,#ff6000,#ff5f00,#ff6100,#ff6700,#ff7000,#ff7d00)"></i><i style="background:linear-gradient(90deg,#a4ff00,#cdff00,#f1ff00,#ffeb00,#ffce00,#ffb400,#ff9d00,#ff8b00,#ff7b00,#ff7000,#ff6800,#ff6300,#ff6200,#ff6500,#ff6b00,#ff7400,#ff8200)"></i><i style="background:linear-gradient(90deg,#a4ff00,#ccff00,#f0ff00,#ffed00,#ffcf00,#ffb600,#ffa000,#ff8d00,#ff7e00,#ff7200,#ff6b00,#ff6600,#ff6500,#ff6800,#ff6f00,#ff7900,#ff8600)"></i><i style="background:linear-gradient(90deg,#a3ff00,#cbff00,#efff00,#ffee00,#ffd100,#ffb800,#ffa200,#ff8f00,#ff8000,#ff7500,#ff6e00,#ff6a00,#ff6900,#ff6c00,#ff7300,#ff7d00,#ff8b00)"></i><i style="background:linear-gradient(90deg,#a3ff00,#caff00,#eeff00,#fff000,#ffd300,#ffb900,#ffa400,#ff9200,#ff8300,#ff7800,#ff7100,#ff6d00,#ff6d00,#ff7000,#ff7700,#ff8100,#ff8f00)"></i><i style="background:linear-gradient(90deg,#a2ff00,#c9ff00,#edff00,#fff100,#ffd400,#ffbb00,#ffa600,#ff9400,#ff8600,#ff7b00,#ff7400,#ff7000,#ff7000,#ff7400,#ff7b00,#ff8600,#ff9400)"></i><i style="background:linear-gradient(90deg,#a1ff00,#c8ff00,#ecff00,#fff300,#ffd600,#ffbd00,#ffa800,#ff9700,#ff8900,#ff7e00,#ff7700,#ff7400,#ff7400,#ff7800,#ff7f00,#ff8a00,#ff9900)"></i><i style="background:linear-gradient(90deg,#a0ff00,#c7ff00,#eaff00,#fff400,#ffd800,#ffc000,#ffab00,#ff9900,#ff8b00,#ff8100,#ff7a00,#ff7700,#ff7800,#ff7c00,#ff8300,#ff8f00,#ff9d00)"></i><i style="background:linear-gradient(90deg,#9fff00,#c6ff00,#e9ff00,#fff600,#ffda00,#ffc200,#ffad00,#ff9c00,#ff8e00,#ff8400,#ff7e00,#ff7b00,#ff7c00,#ff8000,#ff8800,#ff9300,#ffa200)"></i><i style="background:linear-gradient(90deg,#9eff00,#c5ff00,#e7ff00,#fff800,#ffdc00,#ffc400,#ffaf00,#ff9e00,#ff9100,#ff8700,#ff8100,#ff7f00,#ff8000,#ff8400,#ff8c00,#ff9800,#ffa700)"></i><i style="background:linear-gradient(90deg,#9dff00,#c3ff00,#e6ff00,#fff900,#ffde00,#ffc600,#ffb200,#ffa100,#ff9400,#ff8b00,#ff8500,#ff8200,#ff8400,#ff8800,#ff9100,#ff9d00,#ffac00)"></i><i style="background:linear-gradient(90deg,#9cff00,#c2ff00,#e4ff00,#fffb00,#ffe000,#ffc800,#ffb400,#ffa400,#ff9700,#ff8e00,#ff8800,#ff8600,#ff8800,#ff8d00,#ff9500,#ffa100,#ffb100)"></i><i style="background:linear-gradient(90deg,#9bff00,#c1ff00,#e3ff00,#fffd00,#ffe200,#ffcb00,#ffb700,#ffa700,#ff9a00,#ff9100,#ff8c00,#ff8a00,#ff8c00,#ff9100,#ff9a00,#ffa600,#ffb600)"></i><i style="background:linear-gradient(90deg,#9aff00,#bfff00,#e1ff00,#ffff00,#ffe400,#ffcd00,#ffba00,#ffaa00,#ff9d00,#ff9500,#ff8f00,#ff8e00,#ff9000,#ff9500,#ff9e00,#ffab00,#ffbb00)"></i><i style="background:linear-gradient(90deg,#98ff00,#beff00,#dfff00,#fdff00,#ffe700,#ffd000,#ffbc00,#ffad00,#ffa100,#ff9800,#ff9300,#ff9200,#ff9400,#ff9a00,#ffa300,#ffb000,#ffc000)"></i><i style="background:linear-gradient(90deg,#97ff00,#bcff00,#ddff00,#fbff00,#ffe900,#ffd200,#ffbf00,#ffb000,#ffa400,#ff9c00,#ff9700,#ff9600,#ff9800,#ff9e00,#ffa800,#ffb500,#ffc600)"></i><i style="background:linear-gradient(90deg,#96ff00,#baff00,#dbff00,#f9ff00,#ffeb00,#ffd500,#ffc200,#ffb300,#ffa700,#ff9f00,#ff9b00,#ff9a00,#ff9d00,#ffa300,#ffad00,#ffba00,#ffcb00)"></i><i style="background:linear-gradient(90deg,#94ff00,#b9ff00,#d9ff00,#f7ff00,#ffee00,#ffd800,#ffc500,#ffb600,#ffab00,#ffa300,#ff9f00,#ff9e00,#ffa100,#ffa700,#ffb100,#ffbf00,#ffd000)"></i><i style="background:linear-gradient(90deg,#93ff00,#b7ff00,#d7ff00,#f4ff00,#fff000,#ffda00,#ffc800,#ffb900,#ffae00,#ffa700,#ffa300,#ffa200,#ffa500,#ffac00,#ffb600,#ffc400,#ffd600)"></i><i style="background:linear-gradient(90deg,#91ff00,#b5ff00,#d5ff00,#f2ff00,#fff300,#ffdd00,#ffcb00,#ffbd00,#ffb200,#ffaa00,#ffa700,#ffa600,#ffaa00,#ffb100,#ffbb00,#ffc900,#ffdb00)"></i><i style="background:linear-gradient(90deg,#90ff00,#b3ff00,#d3ff00,#f0ff00,#fff500,#ffe000,#ffce00,#ffc000,#ffb500,#ffae00,#ffab00,#ffab00,#ffae00,#ffb600,#ffc000,#ffcf00,#ffe100)"></i><i style="background:linear-gradient(90deg,#8eff00,#b1ff00,#d1ff00,#edff00,#fff800,#ffe300,#ffd100,#ffc300,#ffb900,#ffb200,#ffaf00,#ffaf00,#ffb300,#ffba00,#ffc500,#ffd400,#ffe600)"></i><i style="background:linear-gradient(90deg,#8cff00,#afff00,#cfff00,#ebff00,#fffb00,#ffe600,#ffd400,#ffc700,#ffbd00,#ffb600,#ffb300,#ffb300,#ffb800,#ffbf00,#ffcb00,#ffd900,#ffec00)"></i><i style="background:linear-gradient(90deg,#8aff00,#adff00,#cdff00,#e8ff00,#fffd00,#ffe900,#ffd800,#ffca00,#ffc000,#ffba00,#ffb700,#ffb800,#ffbc00,#ffc400,#ffd000,#ffdf00,#fff200)"></i><i style="background:linear-gradient(90deg,#89ff00,#abff00,#caff00,#e6ff00,#feff00,#ffec00,#ffdb00,#ffce00,#ffc400,#ffbe00,#ffbb00,#ffbd00,#ffc100,#ffc900,#ffd500,#ffe400,#fff700)"></i><i style="background:linear-gradient(90deg,#87ff00,#a9ff00,#c8ff00,#e3ff00,#fbff00,#ffef00,#ffde00,#ffd100,#ffc800,#ffc200,#ffc000,#ffc100,#ffc600,#ffce00,#ffda00,#ffea00,#fffd00)"></i><i style="background:linear-gradient(90deg,#85ff00,#a7ff00,#c5ff00,#e0ff00,#f8ff00,#fff200,#ffe200,#ffd500,#ffcc00,#ffc600,#ffc400,#ffc600,#ffcb00,#ffd400,#ffe000,#fff000,#fbff00)"></i><i style="background:linear-gradient(90deg,#83ff00,#a5ff00,#c3ff00,#deff00,#f5ff00,#fff500,#ffe500,#ffd900,#ffd000,#ffca00,#ffc900,#ffca00,#ffd000,#ffd900,#ffe500,#fff500,#f5ff00)"></i><i style="background:linear-gradient(90deg,#81ff00,#a2ff00,#c0ff00,#dbff00,#f2ff00,#fff900,#ffe900,#ffdd00,#ffd400,#ffcf00,#ffcd00,#ffcf00,#ffd500,#ffde00,#ffeb00,#fffb00,#efff00)"></i><i style="background:linear-gradient(90deg,#7eff00,#a0ff00,#beff00,#d8ff00,#efff00,#fffc00,#ffec00,#ffe000,#ffd800,#ffd300,#ffd200,#ffd400,#ffda00,#ffe300,#fff000,#fdff00,#e9ff00)"></i><i style="background:linear-gradient(90deg,#7cff00,#9dff00,#bbff00,#d5ff00,#ecff00,#ffff00,#fff000,#ffe400,#ffdc00,#ffd700,#ffd600,#ffd900,#ffdf00,#ffe900,#fff600,#f7ff00,#e3ff00)"></i><i style="background:linear-gradient(90deg,#7aff00,#9bff00,#b8ff00,#d2ff00,#e8ff00,#fbff00,#fff400,#ffe800,#ffe000,#ffdc00,#ffdb00,#ffde00,#ffe400,#ffee00,#fffc00,#f1ff00,#ddff00)"></i><i style="background:linear-gradient(90deg,#78ff00,#98ff00,#b5ff00,#cfff00,#e5ff00,#f7ff00,#fff800,#ffec00,#ffe500,#ffe000,#ffe000,#ffe300,#ffe900,#fff400,#fdff00,#ebff00,#d7ff00)"></i><i style="background:linear-gradient(90deg,#75ff00,#96ff00,#b3ff00,#ccff00,#e2ff00,#f4ff00,#fffb00,#fff000,#ffe900,#ffe500,#ffe500,#ffe800,#ffef00,#fff900,#f7ff00,#e5ff00,#d0ff00)"></i><i style="background:linear-gradient(90deg,#73ff00,#93ff00,#b0ff00,#c9ff00,#deff00,#f0ff00,#ffff00,#fff500,#ffed00,#ffea00,#ffea00,#ffed00,#fff400,#ffff00,#f1ff00,#dfff00,#caff00)"></i><i style="background:linear-gradient(90deg,#70ff00,#90ff00,#adff00,#c6ff00,#dbff00,#edff00,#fbff00,#fff900,#fff200,#ffee00,#ffee00,#fff200,#fff900,#faff00,#ebff00,#d9ff00,#c4ff00)"></i><i style="background:linear-gradient(90deg,#6eff00,#8dff00,#aaff00,#c2ff00,#d7ff00,#e9ff00,#f7ff00,#fffd00,#fff600,#fff300,#fff300,#fff700,#ffff00,#f4ff00,#e5ff00,#d3ff00,#bdff00)"></i><i style="background:linear-gradient(90deg,#6bff00,#8bff00,#a7ff00,#bfff00,#d4ff00,#e5ff00,#f3ff00,#fdff00,#fffb00,#fff800,#fff900,#fffd00,#faff00,#eeff00,#dfff00,#cdff00,#b7ff00)"></i><i style="background:linear-gradient(90deg,#68ff00,#88ff00,#a3ff00,#bcff00,#d0ff00,#e1ff00,#eeff00,#f8ff00,#ffff00,#fffd00,#fffe00,#fcff00,#f4ff00,#e8ff00,#d9ff00,#c6ff00,#b0ff00)"></i><i style="background:linear-gradient(90deg,#66ff00,#85ff00,#a0ff00,#b8ff00,#ccff00,#ddff00,#eaff00,#f4ff00,#faff00,#fcff00,#fbff00,#f7ff00,#eeff00,#e2ff00,#d3ff00,#c0ff00,#aaff00)"></i><i style="background:linear-gradient(90deg,#63ff00,#82ff00,#9dff00,#b5ff00,#c9ff00,#d9ff00,#e6ff00,#efff00,#f5ff00,#f7ff00,#f6ff00,#f1ff00,#e9ff00,#dcff00,#cdff00,#baff00,#a3ff00)"></i><i style="background:linear-gradient(90deg,#60ff00,#7fff00,#9aff00,#b1ff00,#c5ff00,#d5ff00,#e2ff00,#ebff00,#f0ff00,#f2ff00,#f1ff00,#ecff00,#e3ff00,#d6ff00,#c7ff00,#b3ff00,#9cff00)"></i><i style="background:linear-gradient(90deg,#5dff00,#7bff00,#96ff00,#adff00,#c1ff00,#d1ff00,#ddff00,#e6ff00,#ecff00,#edff00,#ebff00,#e6ff00,#ddff00,#d0ff00,#c0ff00,#adff00,#95ff00)"></i><i style="background:linear-gradient(90deg,#5aff00,#78ff00,#93ff00,#aaff00,#bdff00,#cdff00,#d9ff00,#e2ff00,#e7ff00,#e8ff00,#e6ff00,#e0ff00,#d7ff00,#caff00,#baff00,#a6ff00,#8eff00)"></i><i style="background:linear-gradient(90deg,#57ff00,#75ff00,#8fff00,#a6ff00,#b9ff00,#c9ff00,#d4ff00,#ddff00,#e2ff00,#e3ff00,#e1ff00,#dbff00,#d1ff00,#c4ff00,#b3ff00,#9fff00,#88ff00)"></i><i style="background:linear-gradient(90deg,#54ff00,#72ff00,#8cff00,#a2ff00,#b5ff00,#c4ff00,#d0ff00,#d8ff00,#ddff00,#deff00,#dbff00,#d5ff00,#cbff00,#beff00,#adff00,#99ff00,#81ff00)"></i><i style="background:linear-gradient(90deg,#51ff00,#6eff00,#88ff00,#9eff00,#b1ff00,#c0ff00,#cbff00,#d3ff00,#d8ff00,#d8ff00,#d5ff00,#cfff00,#c5ff00,#b8ff00,#a6ff00,#92ff00,#7aff00)"></i><i style="background:linear-gradient(90deg,#4eff00,#6bff00,#84ff00,#9aff00,#adff00,#bbff00,#c7ff00,#ceff00,#d2ff00,#d3ff00,#d0ff00,#c9ff00,#bfff00,#b1ff00,#a0ff00,#8bff00,#72ff00)"></i><i style="background:linear-gradient(90deg,#4bff00,#67ff00,#81ff00,#96ff00,#a8ff00,#b7ff00,#c2ff00,#c9ff00,#cdff00,#cdff00,#caff00,#c3ff00,#b9ff00,#abff00,#99ff00,#84ff00,#6bff00)"></i><i style="background:linear-gradient(90deg,#47ff00,#64ff00,#7dff00,#92ff00,#a4ff00,#b2ff00,#bdff00,#c4ff00,#c8ff00,#c8ff00,#c4ff00,#bdff00,#b3ff00,#a4ff00,#93ff00,#7dff00,#64ff00)"></i><i style="background:linear-gradient(90deg,#44ff00,#60ff00,#79ff00,#8eff00,#a0ff00,#aeff00,#b8ff00,#bfff00,#c3ff00,#c2ff00,#bfff00,#b7ff00,#acff00,#9eff00,#8cff00,#76ff00,#5dff00)"></i><i style="background:linear-gradient(90deg,#40ff00,#5dff00,#75ff00,#8aff00,#9bff00,#a9ff00,#b4ff00,#baff00,#bdff00,#bdff00,#b9ff00,#b1ff00,#a6ff00,#97ff00,#85ff00,#6fff00,#56ff00)"></i><i style="background:linear-gradient(90deg,#3dff00,#59ff00,#71ff00,#86ff00,#97ff00,#a5ff00,#afff00,#b5ff00,#b8ff00,#b7ff00,#b3ff00,#abff00,#a0ff00,#91ff00,#7eff00,#68ff00,#4eff00)"></i><i style="background:linear-gradient(90deg,#39ff00,#55ff00,#6dff00,#82ff00,#92ff00,#a0ff00,#aaff00,#b0ff00,#b2ff00,#b1ff00,#adff00,#a5ff00,#99ff00,#8aff00,#77ff00,#61ff00,#47ff00)"></i><i style="background:linear-gradient(90deg,#36ff00,#51ff00,#69ff00,#7dff00,#8eff00,#9bff00,#a5ff00,#aaff00,#adff00,#acff00,#a7ff00,#9fff00,#93ff00,#83ff00,#70ff00,#59ff00,#3fff00)"></i><i style="background:linear-gradient(90deg,#32ff00,#4dff00,#65ff00,#79ff00,#89ff00,#96ff00,#9fff00,#a5ff00,#a7ff00,#a6ff00,#a1ff00,#98ff00,#8cff00,#7cff00,#69ff00,#52ff00,#38ff00)"></i><i style="background:linear-gradient(90deg,#2eff00,#49ff00,#61ff00,#74ff00,#85ff00,#91ff00,#9aff00,#a0ff00,#a2ff00,#a0ff00,#9bff00,#92ff00,#85ff00,#75ff00,#62ff00,#4bff00,#30ff00)"></i><i style="background:linear-gradient(90deg,#2bff00,#45ff00,#5cff00,#70ff00,#80ff00,#8cff00,#95ff00,#9aff00,#9cff00,#9aff00,#94ff00,#8bff00,#7fff00,#6eff00,#5bff00,#43ff00,#28ff00)"></i><i style="background:linear-gradient(90deg,#27ff00,#41ff00,#58ff00,#6bff00,#7bff00,#87ff00,#90ff00,#95ff00,#96ff00,#94ff00,#8eff00,#85ff00,#78ff00,#67ff00,#53ff00,#3cff00,#21ff00)"></i><i style="background:linear-gradient(90deg,#23ff00,#3dff00,#54ff00,#67ff00,#76ff00,#82ff00,#8aff00,#8fff00,#90ff00,#8eff00,#88ff00,#7eff00,#71ff00,#60ff00,#4cff00,#34ff00,#19ff00)"></i><i style="background:linear-gradient(90deg,#1fff00,#39ff00,#4fff00,#62ff00,#71ff00,#7dff00,#85ff00,#89ff00,#8aff00,#88ff00,#81ff00,#78ff00,#6aff00,#59ff00,#45ff00,#2dff00,#11ff00)"></i><i style="background:linear-gradient(90deg,#1bff00,#35ff00,#4bff00,#5dff00,#6cff00,#78ff00,#7fff00,#84ff00,#84ff00,#81ff00,#7bff00,#71ff00,#63ff00,#52ff00,#3dff00,#25ff00,#09ff00)"></i><i style="background:linear-gradient(90deg,#17ff00,#30ff00,#46ff00,#59ff00,#67ff00,#72ff00,#7aff00,#7eff00,#7eff00,#7bff00,#74ff00,#6aff00,#5cff00,#4bff00,#36ff00,#1dff00,#01ff00)"></i><i style="background:linear-gradient(90deg,#13ff00,#2cff00,#42ff00,#54ff00,#62ff00,#6dff00,#74ff00,#78ff00,#78ff00,#75ff00,#6eff00,#63ff00,#55ff00,#44ff00,#2eff00,#16ff00,#00ff07)"></i><i style="background:linear-gradient(90deg,#0fff00,#28ff00,#3dff00,#4fff00,#5dff00,#68ff00,#6fff00,#72ff00,#72ff00,#6fff00,#67ff00,#5dff00,#4eff00,#3cff00,#27ff00,#0eff00,#00ff0f)"></i><i style="background:linear-gradient(90deg,#0aff00,#23ff00,#38ff00,#4aff00,#58ff00,#62ff00,#69ff00,#6cff00,#6cff00,#68ff00,#61ff00,#56ff00,#47ff00,#35ff00,#1fff00,#06ff00,#00ff17)"></i><i style="background:linear-gradient(90deg,#06ff00,#1fff00,#33ff00,#45ff00,#53ff00,#5dff00,#63ff00,#66ff00,#66ff00,#62ff00,#5aff00,#4fff00,#40ff00,#2dff00,#17ff00,#00ff02,#00ff1f)"></i></div>
<svg width="783" height="548" viewBox="0 0 783 548">
<path fill="#fff" fill-rule="evenodd" d="M37 12H243V217H37ZM40.40 15.00H239.50V213.10H40.40Z"/>
<path class="k" d="M52.8 15.0 52.3 17.4 51.9 20.0 51.5 22.9 51.2 24.9 50.7 27.9 50.4 30.4 50.0 32.8 49.6 35.8 49.4 37.9 49.0 40.8 48.7 43.7 48.4 46.6 48.2 48.7 47.9 51.6 47.6 54.6 47.4 57.5 47.2 59.6 47.0 62.5 46.8 65.5 46.7 68.5 46.5 71.5 46.4 74.4 46.4 76.8 46.3 79.4 46.3 82.4 46.3 85.3 46.3 88.3 46.4 91.3 46.4 93.2 46.5 96.2 46.6 99.2 46.8 102.2 47.0 105.1 47.3 108.1 47.4 110.1 47.7 113.1 48.1 116.0 48.4 118.1 48.8 121.0 49.2 124.0 49.6 125.9 50.1 128.9 50.5 130.9 51.1 133.9 51.6 135.8 52.3 138.8 52.8 140.8 53.4 142.8 54.2 145.7 54.9 147.7 55.5 149.7 56.3 152.0 57.3 154.7 58.1 156.6 58.9 158.6 59.8 160.6 60.7 162.6 61.7 164.6 62.7 166.5 63.8 168.5 64.9 170.5 66.1 172.5 67.3 174.3 68.3 175.8 69.5 177.4 70.9 179.4 72.3 181.1 73.3 182.4 75.1 184.4 76.2 185.7 77.9 187.3 79.2 188.6 81.1 190.3 82.2 191.3 84.2 192.9 86.0 194.3 87.4 195.3 89.2 196.5 91.2 197.7 93.2 198.9 95.2 199.9 97.1 200.9 99.1 201.8 101.1 202.7 103.1 203.4 105.3 204.2 108.1 205.1 110.1 205.6 112.4 206.2 115.1 206.7 117.4 207.2 120.0 207.6 123.0 207.9 126.0 208.1 128.0 208.3 131.0 208.3 134.0 208.3 137.0 208.3 139.2 208.1 141.9 208.0 144.9 207.7 147.9 207.3 149.9 207.0 152.9 206.5 155.0 206.2 157.9 205.6 159.9 205.2 162.8 204.5 164.8 204.0 167.8 203.2 169.8 202.7 171.8 202.1 174.6 201.2 176.8 200.5 178.8 199.8 180.8 199.2 183.3 198.2 185.7 197.3 187.7 196.6 189.7 195.8 191.7 195.0 193.7 194.2 195.8 193.3 198.0 192.3 200.2 191.3 202.4 190.3 204.5 189.3 206.6 188.3 208.6 187.3 210.6 186.4 212.6 185.4 214.5 184.4 216.4 183.4 218.2 182.4 220.1 181.4 221.9 180.4 223.7 179.4 225.6 178.3 227.6 177.2 229.5 176.0 231.5 174.9 233.5 173.7 235.5 172.5 237.1 171.5 238.7 170.5 239.5 170.0M100.1 15.0 99.9 18.0 99.8 20.9 99.8 23.9 99.7 26.9 99.7 29.9 99.8 32.8 99.8 35.8 99.9 38.8 100.1 41.7 100.2 43.7 100.4 46.7 100.7 49.7 101.0 52.6 101.2 54.6 101.6 57.6 102.1 60.6 102.4 62.5 102.9 65.5 103.3 67.5 104.0 70.5 104.4 72.4 105.1 75.1 105.7 77.4 106.3 79.4 107.1 81.8 108.0 84.3 108.7 86.3 109.5 88.3 110.3 90.3 111.2 92.3 112.1 94.2 113.1 96.2 114.1 98.2 115.3 100.2 116.5 102.2 117.8 104.1 119.0 105.9 120.0 107.3 121.5 109.1 123.0 110.9 124.0 112.1 125.9 114.0 127.0 115.1 129.0 116.9 130.3 118.0 132.0 119.3 134.0 120.8 135.8 122.0 137.4 123.0 139.1 124.0 141.0 124.9 143.1 125.9 145.4 126.9 147.9 127.9 149.9 128.5 151.9 129.1 154.9 129.9 156.9 130.3 159.9 130.8 161.9 131.1 164.8 131.4 167.8 131.6 170.8 131.7 173.8 131.6 176.8 131.5 179.8 131.3 182.8 131.0 184.7 130.7 187.7 130.3 190.0 129.9 192.7 129.4 194.8 128.9 197.7 128.2 199.7 127.7 202.6 126.9 204.7 126.3 206.6 125.7 209.0 124.9 211.6 124.1 213.6 123.3 215.6 122.6 217.6 121.8 219.8 121.0 222.2 120.0 224.5 119.0 226.6 118.1 228.5 117.2 230.5 116.3 232.5 115.3 234.5 114.4 236.5 113.4 238.5 112.4 239.5 111.9M180.9 15.0 182.3 17.0 183.8 18.8 184.8 20.0 186.7 21.9 187.7 23.0 189.7 24.7 191.2 25.9 192.7 27.0 194.7 28.3 196.7 29.4 198.7 30.4 200.7 31.3 202.7 32.1 204.9 32.8 207.6 33.6 209.6 34.0 212.6 34.5 215.0 34.8 217.6 35.0 220.6 35.1 223.6 35.0 226.6 34.8 228.5 34.6 231.5 34.2 234.1 33.8 236.5 33.4 238.9 32.8 239.5 32.7"/>
<rect class="bd" x="40.4" y="15.0" width="199.1" height="198.1"/>
<text class="t" x="40.4" y="225.2" text-anchor="middle">52.5</text>
<text class="t" x="33.2" y="215.0" text-anchor="end">27.5</text>
<text class="t" x="80.2" y="225.2" text-anchor="middle">65.5</text>
<text class="t" x="33.2" y="175.4" text-anchor="end">28.5</text>
<text class="t" x="120.0" y="225.2" text-anchor="middle">78.5</text>
<text class="t" x="33.2" y="135.8" text-anchor="end">29.5</text>
<text class="t" x="159.9" y="225.2" text-anchor="middle">91.5</text>
<text class="t" x="33.2" y="96.1" text-anchor="end">30.5</text>
<text class="t" x="199.7" y="225.2" text-anchor="middle">104.5</text>
<text class="t" x="33.2" y="56.5" text-anchor="end">31.5</text>
<text class="t" x="239.5" y="225.2" text-anchor="middle">117.5</text>
<text class="t" x="33.2" y="16.9" text-anchor="end">32.5</text>
<path class="tk" d="M40.4 213.1v5.3M40.4 213.1h-5.3M80.2 213.1v5.3M40.4 173.5h-5.3M120.0 213.1v5.3M40.4 133.9h-5.3M159.9 213.1v5.3M40.4 94.2h-5.3M199.7 213.1v5.3M40.4 54.6h-5.3M239.5 213.1v5.3M40.4 15.0h-5.3"/>
<rect class="lb" x="76.7" y="185.2" width="8.0" height="5.6"/>
<text class="c" x="80.7" y="189.8">10</text>
<rect class="lb" x="128.5" y="115.4" width="8.0" height="5.6"/>
<text class="c" x="132.5" y="120.0">15</text>
<rect class="lb" x="199.4" y="26.9" width="8.0" height="5.6"/>
<text class="c" x="203.4" y="31.5">20</text>
<text class="ti" x="139.3" y="10.5">Arabitol (g/L)</text>
<text class="ax" x="139.3" y="253.8">A: Gly</text>
<text class="ay" transform="translate(6.8 113.6) rotate(-90)">B: Temp</text>
<path fill="#fff" fill-rule="evenodd" d="M284 12H489V216H284ZM287.60 15.50H485.70V212.50H287.60Z"/>
<path class="k" d="M448.7 212.5 450.6 211.5 452.5 210.5 454.4 209.5 456.2 208.6 458.1 207.6 459.9 206.5 461.9 205.4 463.9 204.3 465.9 203.2 467.9 202.0 469.9 200.9 471.8 199.7 473.5 198.7 475.1 197.7 476.8 196.7 478.8 195.5 480.7 194.2 482.7 193.0 484.5 191.8 485.7 191.0M287.6 184.2 288.6 186.4 289.6 188.5 290.6 190.4 291.6 192.3 292.6 194.1 293.5 195.9 294.7 197.7 295.9 199.7 297.2 201.7 298.5 203.4 299.5 204.8 300.9 206.6 302.5 208.5 303.4 209.7 305.1 211.5 306.1 212.5M325.4 15.5 325.2 17.5 324.9 20.4 324.6 23.4 324.3 26.3 324.1 28.3 323.9 31.3 323.7 34.2 323.6 37.2 323.4 40.1 323.3 43.1 323.2 45.1 323.2 48.0 323.1 51.0 323.1 53.9 323.1 56.9 323.2 59.8 323.3 61.8 323.4 64.8 323.5 67.7 323.7 70.7 323.9 73.6 324.2 76.6 324.4 78.5 324.7 81.5 325.1 84.4 325.4 86.4 325.9 89.4 326.2 91.5 326.8 94.3 327.2 96.5 327.8 99.2 328.3 101.2 329.0 104.1 329.6 106.1 330.2 108.2 331.1 111.0 331.8 113.0 332.5 115.0 333.2 117.0 334.2 119.3 335.1 121.6 336.1 123.7 337.1 125.8 338.1 127.7 339.1 129.5 340.1 131.2 341.1 132.9 342.3 134.7 343.6 136.7 345.0 138.6 346.0 139.9 347.4 141.6 349.0 143.4 350.0 144.5 351.9 146.5 353.0 147.5 355.0 149.3 356.3 150.4 357.9 151.7 359.9 153.2 361.7 154.4 363.2 155.4 364.9 156.4 366.8 157.4 368.8 158.4 370.8 159.4 373.0 160.3 375.6 161.3 377.7 162.0 379.7 162.6 382.3 163.2 384.7 163.8 387.2 164.2 389.6 164.6 392.6 165.0 395.6 165.2 397.5 165.3 400.5 165.4 403.5 165.4 406.5 165.3 408.4 165.1 411.4 164.9 414.4 164.6 416.7 164.2 419.3 163.8 422.3 163.3 424.3 162.9 427.2 162.3 429.2 161.8 431.2 161.3 434.2 160.5 436.2 159.9 438.2 159.3 441.1 158.4 443.1 157.7 445.1 157.0 447.1 156.3 449.7 155.4 452.0 154.5 454.0 153.7 456.0 152.9 458.0 152.0 459.9 151.2 461.9 150.3 463.9 149.4 465.9 148.5 468.0 147.5 470.0 146.5 472.0 145.5 473.9 144.5 475.8 143.5 477.8 142.5 479.8 141.5 481.7 140.4 483.7 139.3 485.7 138.2M384.3 15.5 384.7 17.9 385.1 20.4 385.6 23.4 386.0 25.3 386.6 28.1 387.2 30.3 387.7 32.2 388.6 35.2 389.2 37.2 389.9 39.1 390.6 41.1 391.6 43.5 392.6 45.8 393.6 47.9 394.6 49.8 395.6 51.6 396.6 53.3 397.5 54.9 398.9 56.9 400.3 58.8 401.5 60.4 402.7 61.8 404.5 63.7 405.5 64.8 407.5 66.6 408.7 67.7 410.4 69.1 412.4 70.5 414.1 71.6 415.7 72.6 417.5 73.6 419.5 74.6 421.7 75.6 424.3 76.6 426.3 77.2 428.3 77.8 431.2 78.5 433.2 78.9 436.2 79.4 438.2 79.6 441.1 79.8 444.1 79.9 447.1 79.9 450.0 79.7 452.6 79.5 455.0 79.3 458.0 78.9 459.9 78.5 462.9 78.0 464.9 77.5 467.9 76.8 469.9 76.3 472.4 75.6 474.8 74.9 476.8 74.2 478.8 73.6 481.4 72.6 483.7 71.8 485.7 71.0"/>
<rect class="bd" x="287.6" y="15.5" width="198.1" height="197.0"/>
<text class="t" x="287.6" y="224.6" text-anchor="middle">52.5</text>
<text class="t" x="280.4" y="214.4" text-anchor="end">27.5</text>
<text class="t" x="327.2" y="224.6" text-anchor="middle">65.5</text>
<text class="t" x="280.4" y="175.0" text-anchor="end">28.5</text>
<text class="t" x="366.8" y="224.6" text-anchor="middle">78.5</text>
<text class="t" x="280.4" y="135.6" text-anchor="end">29.5</text>
<text class="t" x="406.5" y="224.6" text-anchor="middle">91.5</text>
<text class="t" x="280.4" y="96.2" text-anchor="end">30.5</text>
<text class="t" x="446.1" y="224.6" text-anchor="middle">104.5</text>
<text class="t" x="280.4" y="56.8" text-anchor="end">31.5</text>
<text class="t" x="479.9" y="224.6">117</text>
<text class="t" x="280.4" y="17.4" text-anchor="end">32.5</text>
<path class="tk" d="M287.6 212.5v5.3M287.6 212.5h-5.3M327.2 212.5v5.3M287.6 173.1h-5.3M366.8 212.5v5.3M287.6 133.7h-5.3M406.5 212.5v5.3M287.6 94.3h-5.3M446.1 212.5v5.3M287.6 54.9h-5.3M485.7 212.5v5.3M287.6 15.5h-5.3"/>
<rect class="lb" x="291.6" y="193.8" width="8.0" height="5.6"/>
<text class="c" x="295.6" y="198.4">10</text>
<rect class="lb" x="463.5" y="196.1" width="8.0" height="5.6"/>
<text class="c" x="467.5" y="200.7">10</text>
<rect class="lb" x="351.5" y="145.7" width="8.0" height="5.6"/>
<text class="c" x="355.5" y="150.3">15</text>
<rect class="lb" x="409.6" y="66.4" width="8.0" height="5.6"/>
<text class="c" x="413.6" y="71.0">20</text>
<text class="ti" x="385.8" y="11.0">Arabitol (g/L)</text>
<text class="ax" x="386.1" y="252.4">A: Gly</text>
<text class="ay" transform="translate(254.0 113.6) rotate(-90)">B: Temp</text>
<path fill="#fff" fill-rule="evenodd" d="M531 12H737V218H531ZM534.30 15.50H733.80V214.30H534.30Z"/>
<path class="k" d="M553.8 15.5 553.3 18.5 553.1 20.5 552.6 23.5 552.3 26.2 552.0 28.4 551.6 31.4 551.3 34.3 551.0 36.4 550.7 39.4 550.4 42.3 550.2 44.3 550.0 47.3 549.7 50.3 549.5 53.3 549.3 56.3 549.2 58.2 549.1 61.2 548.9 64.2 548.8 67.2 548.8 70.2 548.7 73.2 548.7 76.1 548.7 79.1 548.8 82.1 548.9 85.1 549.0 88.1 549.1 91.0 549.3 93.6 549.4 96.0 549.7 99.0 549.9 102.0 550.3 104.9 550.5 106.9 550.9 109.9 551.3 112.5 551.6 114.9 552.1 117.9 552.5 119.9 553.1 122.9 553.5 124.8 554.2 127.8 554.7 129.8 555.3 131.8 556.1 134.8 556.7 136.8 557.3 138.8 558.2 141.4 559.1 143.7 559.8 145.7 560.7 147.7 561.5 149.7 562.4 151.7 563.3 153.7 564.3 155.7 565.4 157.6 566.5 159.6 567.7 161.6 568.9 163.6 570.2 165.6 571.2 167.0 572.4 168.6 573.9 170.6 575.2 172.2 576.4 173.5 578.2 175.5 579.2 176.5 581.2 178.5 582.3 179.5 584.2 181.1 585.8 182.5 587.2 183.5 589.2 184.9 591.2 186.3 593.1 187.5 594.8 188.5 596.6 189.5 598.6 190.4 600.8 191.4 603.1 192.4 605.1 193.1 607.1 193.8 609.1 194.4 612.1 195.3 614.1 195.7 617.1 196.3 619.1 196.7 622.1 197.1 624.9 197.4 627.1 197.6 630.1 197.7 633.1 197.8 636.0 197.7 639.0 197.6 642.0 197.4 644.0 197.3 647.0 196.9 650.0 196.5 652.0 196.2 655.0 195.7 657.0 195.3 660.0 194.7 662.0 194.3 665.0 193.5 667.0 193.0 669.1 192.4 672.0 191.6 673.9 191.0 675.9 190.4 678.7 189.5 680.9 188.7 682.9 188.0 684.9 187.2 686.9 186.5 689.4 185.5 691.9 184.5 693.9 183.6 695.9 182.8 697.9 181.9 699.9 181.0 701.9 180.1 703.9 179.2 705.9 178.2 707.9 177.2 709.9 176.2 711.9 175.2 713.8 174.2 715.8 173.2 717.8 172.1 719.8 171.0 721.8 169.9 723.8 168.8 725.8 167.7 727.7 166.6 729.4 165.6 731.0 164.6 732.8 163.5 733.8 162.9M603.6 15.5 603.6 18.5 603.6 21.5 603.7 24.4 603.8 27.4 603.9 30.4 604.1 33.4 604.2 35.4 604.5 38.4 604.8 41.3 605.1 44.3 605.4 46.3 605.8 49.3 606.1 51.3 606.7 54.3 607.1 56.5 607.7 59.2 608.2 61.2 608.9 64.2 609.5 66.2 610.1 68.3 611.0 71.2 611.7 73.2 612.5 75.1 613.3 77.1 614.1 79.1 615.1 81.3 616.1 83.4 617.1 85.3 618.1 87.1 619.2 89.1 620.5 91.0 621.8 93.0 623.1 94.8 624.1 96.1 625.7 98.0 627.1 99.6 628.4 101.0 630.1 102.7 631.5 104.0 633.1 105.3 635.0 106.9 636.4 107.9 638.0 109.0 640.0 110.3 642.0 111.4 644.0 112.5 646.0 113.4 648.0 114.3 650.0 115.0 652.6 115.9 655.0 116.6 657.0 117.1 660.0 117.7 662.0 118.1 665.0 118.5 668.0 118.7 671.0 118.9 673.0 118.9 675.9 118.9 677.9 118.8 680.9 118.6 683.9 118.3 686.9 117.9 688.9 117.6 691.9 117.1 693.9 116.7 696.9 116.0 698.9 115.6 701.5 114.9 703.9 114.2 705.9 113.6 708.2 112.9 710.9 112.0 712.9 111.3 714.8 110.6 716.8 109.9 719.3 108.9 721.7 107.9 723.8 107.1 725.8 106.2 727.8 105.3 729.8 104.4 731.8 103.5 733.8 102.5M708.5 15.5 710.9 16.2 712.9 16.7 715.8 17.3 717.8 17.6 720.8 17.9 723.8 18.0 726.8 18.0 729.8 17.8 732.8 17.5 733.8 17.4"/>
<rect class="bd" x="534.3" y="15.5" width="199.5" height="198.8"/>
<text class="t" x="534.3" y="226.4" text-anchor="middle">52.5</text>
<text class="t" x="527.1" y="216.2" text-anchor="end">27.5</text>
<text class="t" x="574.2" y="226.4" text-anchor="middle">65.5</text>
<text class="t" x="527.1" y="176.4" text-anchor="end">28.5</text>
<text class="t" x="614.1" y="226.4" text-anchor="middle">78.5</text>
<text class="t" x="527.1" y="136.7" text-anchor="end">29.5</text>
<text class="t" x="654.0" y="226.4" text-anchor="middle">91.5</text>
<text class="t" x="527.1" y="96.9" text-anchor="end">30.5</text>
<text class="t" x="693.9" y="226.4" text-anchor="middle">104.5</text>
<text class="t" x="527.1" y="57.2" text-anchor="end">31.5</text>
<text class="t" x="728.0" y="226.4">117</text>
<text class="t" x="527.1" y="17.4" text-anchor="end">32.5</text>
<path class="tk" d="M534.3 214.3v5.3M534.3 214.3h-5.3M574.2 214.3v5.3M534.3 174.5h-5.3M614.1 214.3v5.3M534.3 134.8h-5.3M654.0 214.3v5.3M534.3 95.0h-5.3M693.9 214.3v5.3M534.3 55.3h-5.3M733.8 214.3v5.3M534.3 15.5h-5.3"/>
<rect class="lb" x="577.2" y="174.5" width="8.0" height="5.6"/>
<text class="c" x="581.2" y="179.1">15</text>
<rect class="lb" x="633.0" y="104.3" width="8.0" height="5.6"/>
<text class="c" x="637.0" y="108.9">20</text>
<text class="ti" x="633.2" y="11.0">Arabitol (g/L)</text>
<text class="ax" x="634.0" y="255.1">A: Gly</text>
<text class="ay" transform="translate(499.7 114.5) rotate(-90)">B: Temp</text>
<path fill="#fff" fill-rule="evenodd" d="M38 288H244V493H38ZM41.20 291.40H240.40V489.40H41.20Z"/>
<path class="k" d="M228.6 489.4 230.4 488.4 232.4 487.3 234.4 486.2 236.4 485.0 238.4 483.9 240.4 482.7M165.9 489.4 168.7 488.7 170.7 488.2 173.7 487.5 175.7 486.9 177.7 486.4 180.6 485.5 182.6 484.8 184.6 484.2 186.9 483.5 189.6 482.5 191.6 481.8 193.6 481.1 195.6 480.3 197.8 479.5 200.3 478.5 202.6 477.6 204.5 476.7 206.5 475.9 208.5 475.0 210.5 474.1 212.5 473.2 214.5 472.3 216.5 471.4 218.5 470.4 220.5 469.4 222.5 468.4 224.5 467.4 226.5 466.4 228.4 465.3 230.4 464.3 232.4 463.2 234.4 462.1 236.4 460.9 238.4 459.8 240.3 458.7 240.4 458.6M41.2 446.7 42.2 448.3 43.2 449.8 44.6 451.8 46.0 453.8 47.2 455.3 48.3 456.7 49.9 458.7 51.2 460.2 52.5 461.7 54.1 463.4 55.3 464.6 57.1 466.4 58.4 467.6 60.1 469.2 61.8 470.6 63.1 471.7 65.1 473.2 66.9 474.5 68.2 475.5 70.1 476.8 72.1 478.1 74.1 479.3 76.1 480.5 77.9 481.5 79.8 482.5 81.8 483.5 84.0 484.4 86.0 485.3 88.0 486.1 90.0 486.9 92.0 487.6 94.4 488.4 97.0 489.2 97.7 489.4M49.6 291.4 49.2 293.8 48.7 296.3 48.3 299.3 48.0 301.3 47.5 304.3 47.2 306.9 46.9 309.2 46.5 312.2 46.2 315.2 46.0 317.1 45.8 320.1 45.5 323.1 45.3 326.0 45.2 329.0 45.1 331.0 45.0 334.0 44.9 336.9 44.9 339.9 44.9 342.9 45.0 345.8 45.0 348.8 45.2 351.8 45.3 353.8 45.5 356.7 45.7 359.7 46.0 362.7 46.2 364.7 46.6 367.6 47.0 370.6 47.4 372.6 47.9 375.5 48.2 377.5 48.9 380.5 49.3 382.5 50.0 385.4 50.5 387.4 51.2 389.8 51.9 392.4 52.5 394.4 53.2 396.3 54.1 399.0 55.0 401.3 55.8 403.3 56.6 405.2 57.5 407.2 58.4 409.2 59.3 411.2 60.3 413.2 61.4 415.1 62.5 417.1 63.7 419.1 64.9 421.1 66.1 422.9 67.1 424.3 68.3 426.0 69.8 428.0 71.1 429.6 72.2 431.0 73.9 433.0 75.1 434.2 76.7 435.9 78.1 437.3 79.8 438.9 81.0 440.1 83.0 441.8 84.4 442.9 86.0 444.2 88.0 445.6 89.7 446.8 91.2 447.8 93.0 448.9 95.0 450.1 97.0 451.2 99.0 452.2 101.0 453.2 103.0 454.1 104.9 455.0 106.9 455.8 109.6 456.7 111.9 457.5 113.9 458.1 116.0 458.7 118.9 459.4 120.9 459.9 123.9 460.5 125.9 460.8 128.8 461.2 131.8 461.6 133.8 461.8 136.8 462.0 139.8 462.1 142.8 462.2 145.8 462.1 148.8 462.1 151.8 461.9 154.7 461.7 156.7 461.5 159.7 461.2 162.7 460.8 164.7 460.5 167.7 460.0 169.7 459.6 172.7 459.0 174.7 458.6 177.7 457.9 179.6 457.4 182.3 456.7 184.6 456.1 186.6 455.5 189.2 454.8 191.6 454.0 193.6 453.4 195.6 452.7 198.2 451.8 200.6 450.9 202.6 450.2 204.5 449.4 206.5 448.6 208.5 447.8 210.8 446.8 213.1 445.8 215.3 444.9 217.5 443.9 219.5 442.9 221.5 442.0 223.5 441.0 225.5 440.0 227.5 439.0 229.4 438.0 231.4 436.9 233.3 435.9 235.1 434.9 236.9 434.0 238.6 433.0 240.4 432.0M76.1 291.4 75.9 293.4 75.5 296.3 75.2 299.3 75.0 301.3 74.7 304.3 74.5 307.2 74.3 310.2 74.2 313.2 74.1 316.1 74.0 318.1 74.0 321.1 74.0 324.1 74.1 326.0 74.2 329.0 74.3 332.0 74.5 335.0 74.7 337.9 75.0 340.9 75.3 342.9 75.7 345.8 76.1 348.5 76.4 350.8 77.0 353.8 77.4 355.8 78.1 358.6 78.6 360.7 79.1 362.7 79.9 365.6 80.6 367.6 81.2 369.6 82.0 372.0 83.0 374.6 83.8 376.5 84.7 378.5 85.6 380.5 86.5 382.5 87.6 384.5 88.6 386.4 89.8 388.4 91.0 390.4 92.0 392.0 93.0 393.4 94.4 395.3 95.9 397.3 97.0 398.7 98.3 400.3 100.0 402.1 101.0 403.3 103.0 405.2 104.1 406.2 105.9 407.9 107.5 409.2 108.9 410.4 110.9 411.9 112.8 413.2 114.3 414.2 115.9 415.1 117.9 416.3 119.9 417.4 121.9 418.4 123.9 419.3 125.9 420.1 128.3 421.1 130.8 422.0 132.8 422.6 134.8 423.2 137.8 424.0 139.8 424.4 142.8 425.0 144.8 425.3 147.8 425.7 150.8 426.0 152.8 426.1 155.7 426.3 158.7 426.3 161.7 426.3 164.7 426.2 167.0 426.0 169.7 425.8 172.7 425.5 175.7 425.1 177.7 424.8 180.6 424.3 182.6 423.9 185.6 423.3 187.6 422.9 190.6 422.1 192.6 421.6 194.6 421.1 197.6 420.2 199.6 419.6 201.6 419.0 204.1 418.1 206.5 417.3 208.5 416.5 210.5 415.8 212.5 415.0 214.6 414.2 216.9 413.2 219.2 412.2 221.5 411.2 223.5 410.3 225.5 409.3 227.5 408.4 229.4 407.4 231.4 406.4 233.4 405.3 235.4 404.3 237.3 403.3 239.1 402.3 240.4 401.6M108.9 291.4 108.8 294.4 108.8 297.3 108.8 300.3 108.8 303.3 108.9 305.9 109.1 308.2 109.3 311.2 109.6 314.2 109.9 317.1 110.2 319.1 110.7 322.1 111.0 324.1 111.6 327.0 112.1 329.0 112.9 332.0 113.4 334.0 114.0 335.9 114.9 338.6 115.8 340.9 116.6 342.9 117.4 344.9 118.3 346.8 119.3 348.8 120.3 350.8 121.5 352.8 122.7 354.8 123.9 356.5 124.9 358.0 126.2 359.7 127.8 361.7 128.8 363.0 130.4 364.7 131.8 366.1 133.5 367.6 134.8 368.8 136.8 370.5 138.3 371.6 139.8 372.7 141.8 374.0 143.8 375.2 145.8 376.2 147.8 377.2 149.8 378.1 151.8 379.0 153.7 379.7 156.2 380.5 158.7 381.2 160.7 381.7 163.7 382.3 165.7 382.7 168.7 383.1 171.7 383.3 173.7 383.5 176.7 383.6 179.6 383.5 181.8 383.5 184.6 383.3 187.6 383.0 190.6 382.7 192.6 382.4 195.6 381.9 197.6 381.5 200.6 380.8 202.6 380.3 205.5 379.6 207.5 379.0 209.5 378.4 212.3 377.5 214.5 376.8 216.5 376.1 218.5 375.3 220.5 374.6 223.0 373.6 225.3 372.6 227.5 371.6 229.4 370.7 231.4 369.8 233.4 368.8 235.4 367.8 237.4 366.8 239.4 365.8 240.4 365.2M157.5 291.4 158.1 293.4 158.7 295.4 159.7 298.1 160.7 300.3 161.6 302.3 162.6 304.3 163.7 306.2 164.7 307.8 165.7 309.2 167.2 311.2 168.7 313.0 169.8 314.2 171.7 316.0 173.0 317.1 174.7 318.5 176.7 319.9 178.6 321.1 180.5 322.1 182.5 323.1 184.6 323.9 186.6 324.7 188.6 325.3 191.6 326.0 193.6 326.3 196.6 326.7 199.6 327.0 202.6 327.0 205.5 326.9 208.5 326.7 211.5 326.3 213.5 326.0 216.5 325.5 218.5 325.0 221.5 324.3 223.5 323.7 225.5 323.1 228.4 322.1 230.4 321.3 232.4 320.6 234.4 319.7 236.4 318.9 238.4 318.0 240.4 317.0"/>
<rect class="bd" x="41.2" y="291.4" width="199.2" height="198.0"/>
<text class="t" x="41.2" y="501.5" text-anchor="middle">52.5</text>
<text class="t" x="34.0" y="491.3" text-anchor="end">27.5</text>
<text class="t" x="81.0" y="501.5" text-anchor="middle">65.5</text>
<text class="t" x="34.0" y="451.7" text-anchor="end">28.5</text>
<text class="t" x="120.9" y="501.5" text-anchor="middle">78.5</text>
<text class="t" x="34.0" y="412.1" text-anchor="end">29.5</text>
<text class="t" x="160.7" y="501.5" text-anchor="middle">91.5</text>
<text class="t" x="34.0" y="372.5" text-anchor="end">30.5</text>
<text class="t" x="200.6" y="501.5" text-anchor="middle">104.5</text>
<text class="t" x="34.0" y="332.9" text-anchor="end">31.5</text>
<text class="t" x="234.6" y="501.5">117</text>
<text class="t" x="34.0" y="293.3" text-anchor="end">32.5</text>
<path class="tk" d="M41.2 489.4v5.3M41.2 489.4h-5.3M81.0 489.4v5.3M41.2 449.8h-5.3M120.9 489.4v5.3M41.2 410.2h-5.3M160.7 489.4v5.3M41.2 370.6h-5.3M200.6 489.4v5.3M41.2 331.0h-5.3M240.4 489.4v5.3M41.2 291.4h-5.3"/>
<rect class="lb" x="181.3" y="320.2" width="12.0" height="5.6"/>
<text class="c" x="187.3" y="324.8">0.22</text>
<rect class="lb" x="141.2" y="371.7" width="8.9" height="5.6"/>
<text class="c" x="145.6" y="376.3">0.2</text>
<rect class="lb" x="106.2" y="408.0" width="12.0" height="5.6"/>
<text class="c" x="112.2" y="412.6">0.18</text>
<rect class="lb" x="80.4" y="438.9" width="12.0" height="5.6"/>
<text class="c" x="86.4" y="443.5">0.16</text>
<rect class="lb" x="59.3" y="467.2" width="12.0" height="5.6"/>
<text class="c" x="65.3" y="471.8">0.14</text>
<rect class="lb" x="199.1" y="470.9" width="12.0" height="5.6"/>
<text class="c" x="205.1" y="475.5">0.14</text>
<rect class="lb" x="227.5" y="480.7" width="12.0" height="5.6"/>
<text class="c" x="233.5" y="485.3">0.12</text>
<text class="tj" x="140.5" y="287.0">Yield (g/g)</text>
<text class="ax" x="140.1" y="518.5">A: Gly</text>
<text class="ay" transform="translate(6.7 390.0) rotate(-90)">B: Temp</text>
<path fill="#fff" fill-rule="evenodd" d="M286 288H492V493H286ZM289.20 291.40H488.60V489.70H289.20Z"/>
<path class="k" d="M456.7 489.7 458.7 488.8 460.7 487.9 462.7 486.9 464.7 486.0 466.7 485.0 468.7 484.0 470.7 483.0 472.6 482.0 474.6 480.9 476.6 479.9 478.6 478.8 480.5 477.8 482.3 476.8 484.0 475.8 485.8 474.8 487.6 473.8 488.6 473.2M289.2 475.6 290.3 476.8 292.2 478.8 293.2 479.8 295.2 481.7 296.3 482.8 298.2 484.4 299.7 485.7 301.2 486.9 303.2 488.5 304.8 489.7M289.2 414.5 290.2 417.0 291.1 419.3 292.0 421.3 292.9 423.3 293.9 425.3 294.9 427.2 295.9 429.2 297.0 431.2 298.2 433.2 299.2 434.9 300.2 436.4 301.3 438.1 302.6 440.1 304.1 442.1 305.2 443.5 306.4 445.1 308.0 447.1 309.1 448.4 310.6 450.0 312.1 451.7 313.4 453.0 315.1 454.7 316.6 456.0 318.1 457.4 320.0 459.0 321.2 460.0 323.1 461.4 325.1 462.9 326.6 463.9 328.1 464.9 330.1 466.2 332.1 467.4 334.1 468.5 336.1 469.5 338.1 470.5 340.0 471.5 342.0 472.3 344.0 473.2 346.0 473.9 348.5 474.8 351.0 475.6 353.0 476.2 355.0 476.8 358.0 477.6 360.0 478.0 363.0 478.6 365.0 479.0 368.0 479.4 370.9 479.8 372.9 480.0 375.9 480.2 378.9 480.4 381.9 480.5 384.9 480.5 387.9 480.5 390.9 480.4 393.9 480.2 396.9 480.0 399.1 479.8 401.9 479.5 404.9 479.1 406.9 478.8 409.8 478.3 412.7 477.8 414.8 477.4 417.6 476.8 419.8 476.3 421.9 475.8 424.8 475.1 426.8 474.6 429.4 473.8 431.8 473.2 433.8 472.6 436.0 471.9 438.8 471.0 440.7 470.3 442.7 469.6 444.7 468.9 447.4 467.9 449.7 467.0 451.7 466.2 453.7 465.4 455.7 464.6 457.7 463.7 459.7 462.8 461.7 461.9 463.9 460.9 466.0 460.0 468.1 459.0 470.2 458.0 472.2 457.0 474.1 456.0 476.1 455.0 478.0 454.0 479.8 453.0 481.7 452.0 483.6 451.0 485.6 449.8 487.6 448.7 488.6 448.1M308.9 291.4 308.4 294.4 308.1 296.4 307.7 299.3 307.3 302.3 307.1 304.3 306.7 307.3 306.5 310.2 306.2 313.2 306.0 315.2 305.9 318.2 305.7 321.1 305.6 324.1 305.5 327.1 305.4 330.1 305.4 333.0 305.5 336.0 305.5 339.0 305.6 342.0 305.8 344.9 306.0 347.9 306.2 349.9 306.5 352.9 306.8 355.8 307.1 358.4 307.5 360.8 308.0 363.8 308.3 365.8 308.9 368.7 309.3 370.7 310.0 373.7 310.5 375.7 311.1 378.0 311.9 380.6 312.5 382.6 313.2 384.6 314.1 387.4 314.9 389.6 315.7 391.5 316.6 393.5 317.4 395.5 318.3 397.5 319.3 399.5 320.3 401.5 321.4 403.4 322.5 405.4 323.7 407.4 325.0 409.4 326.1 411.0 327.1 412.4 328.5 414.3 330.0 416.3 331.1 417.6 332.5 419.3 334.1 421.0 335.3 422.3 337.1 424.0 338.3 425.3 340.0 426.8 341.7 428.2 343.0 429.3 345.0 430.8 346.9 432.2 348.4 433.2 350.0 434.3 352.0 435.5 354.0 436.6 356.0 437.7 358.0 438.7 360.0 439.6 362.0 440.5 364.0 441.3 366.2 442.1 369.0 443.0 371.0 443.6 372.9 444.2 375.9 444.9 377.9 445.4 380.9 446.0 382.9 446.3 385.9 446.7 388.9 447.0 390.9 447.2 393.9 447.4 396.9 447.4 399.9 447.5 402.9 447.4 405.8 447.3 408.8 447.1 410.8 446.9 413.8 446.6 416.8 446.2 418.8 445.9 421.8 445.4 423.8 445.0 426.8 444.5 428.8 444.0 431.8 443.3 433.8 442.8 436.5 442.1 438.8 441.5 440.7 440.9 443.3 440.1 445.7 439.4 447.7 438.7 449.7 438.0 452.1 437.2 454.7 436.2 456.7 435.4 458.7 434.6 460.7 433.8 462.7 433.0 464.7 432.1 466.7 431.2 468.9 430.2 471.0 429.2 473.1 428.2 475.1 427.2 477.1 426.2 479.0 425.3 481.0 424.3 482.8 423.3 484.7 422.3 486.6 421.2 488.6 420.1M337.5 291.4 337.2 294.4 337.1 296.6 336.9 299.3 336.7 302.3 336.6 305.3 336.5 308.3 336.5 311.2 336.5 314.2 336.5 317.2 336.7 320.2 336.8 323.1 337.1 326.1 337.2 328.1 337.6 331.1 337.9 334.0 338.2 336.0 338.7 339.0 339.1 341.0 339.7 343.9 340.1 345.9 340.9 348.9 341.4 350.9 342.0 353.0 342.9 355.8 343.6 357.8 344.3 359.8 345.1 361.8 346.0 364.0 347.0 366.2 348.0 368.3 349.0 370.2 350.0 372.1 351.0 373.8 352.2 375.7 353.4 377.7 354.8 379.6 356.0 381.3 357.1 382.6 358.7 384.6 360.0 386.1 361.4 387.6 363.0 389.2 364.4 390.5 366.0 392.0 367.8 393.5 369.1 394.5 371.0 395.9 372.9 397.3 374.8 398.5 376.5 399.5 378.3 400.5 380.2 401.5 382.3 402.4 384.6 403.4 386.9 404.4 388.9 405.1 390.9 405.7 393.3 406.4 395.9 407.1 397.9 407.5 400.9 408.0 403.1 408.4 405.8 408.7 408.8 409.0 411.8 409.2 414.8 409.2 417.8 409.2 420.8 409.1 423.8 408.9 426.8 408.6 428.9 408.4 431.8 408.0 434.8 407.5 436.8 407.2 439.7 406.6 441.7 406.1 444.6 405.4 446.7 404.9 448.7 404.3 451.7 403.4 453.7 402.8 455.7 402.2 457.8 401.5 460.6 400.5 462.7 399.7 464.7 398.9 466.7 398.1 468.7 397.3 470.7 396.4 472.8 395.5 475.0 394.5 477.1 393.5 479.1 392.5 481.1 391.5 483.1 390.5 485.0 389.6 486.9 388.6 488.6 387.6M374.7 291.4 374.8 294.4 375.0 296.4 375.2 299.3 375.6 302.3 375.9 305.1 376.3 307.3 376.8 310.2 377.3 312.2 377.9 315.0 378.5 317.2 379.1 319.2 379.9 321.7 380.8 324.1 381.6 326.1 382.5 328.1 383.4 330.1 384.4 332.1 385.5 334.0 386.7 336.0 387.9 337.9 388.9 339.3 390.1 341.0 391.7 343.0 392.9 344.3 394.4 345.9 395.9 347.4 397.6 348.9 398.9 350.0 400.9 351.5 402.8 352.9 404.3 353.9 406.0 354.9 407.8 355.9 409.9 356.8 412.1 357.8 414.8 358.8 416.8 359.5 418.8 360.1 421.8 360.8 423.8 361.2 426.8 361.7 428.8 361.9 431.8 362.1 434.8 362.2 437.8 362.2 440.7 362.1 443.7 361.9 445.7 361.7 448.7 361.3 451.4 360.8 453.7 360.4 456.3 359.8 458.7 359.2 460.7 358.7 463.7 357.9 465.7 357.2 467.7 356.6 469.8 355.8 472.5 354.9 474.6 354.0 476.6 353.2 478.6 352.3 480.6 351.5 482.6 350.6 484.6 349.6 486.6 348.6 488.6 347.6"/>
<rect class="bd" x="289.2" y="291.4" width="199.4" height="198.3"/>
<text class="t" x="289.2" y="501.8" text-anchor="middle">52.5</text>
<text class="t" x="282.0" y="491.6" text-anchor="end">27.5</text>
<text class="t" x="329.1" y="501.8" text-anchor="middle">65.5</text>
<text class="t" x="282.0" y="451.9" text-anchor="end">28.5</text>
<text class="t" x="369.0" y="501.8" text-anchor="middle">78.5</text>
<text class="t" x="282.0" y="412.3" text-anchor="end">29.5</text>
<text class="t" x="408.8" y="501.8" text-anchor="middle">91.5</text>
<text class="t" x="282.0" y="372.6" text-anchor="end">30.5</text>
<text class="t" x="448.7" y="501.8" text-anchor="middle">104.5</text>
<text class="t" x="282.0" y="333.0" text-anchor="end">31.5</text>
<text class="t" x="482.8" y="501.8">117</text>
<text class="t" x="282.0" y="293.3" text-anchor="end">32.5</text>
<path class="tk" d="M289.2 489.7v5.3M289.2 489.7h-5.3M329.1 489.7v5.3M289.2 450.0h-5.3M369.0 489.7v5.3M289.2 410.4h-5.3M408.8 489.7v5.3M289.2 370.7h-5.3M448.7 489.7v5.3M289.2 331.1h-5.3M488.6 489.7v5.3M289.2 291.4h-5.3"/>
<rect class="lb" x="401.8" y="351.7" width="12.0" height="5.6"/>
<text class="c" x="407.8" y="356.3">0.24</text>
<rect class="lb" x="368.1" y="394.2" width="12.0" height="5.6"/>
<text class="c" x="374.1" y="398.8">0.22</text>
<rect class="lb" x="340.9" y="426.9" width="8.9" height="5.6"/>
<text class="c" x="345.4" y="431.5">0.2</text>
<rect class="lb" x="369.2" y="475.6" width="12.0" height="5.6"/>
<text class="c" x="375.2" y="480.2">0.18</text>
<rect class="lb" x="290.0" y="477.8" width="12.0" height="5.6"/>
<text class="c" x="296.0" y="482.4">0.16</text>
<rect class="lb" x="467.7" y="476.1" width="12.0" height="5.6"/>
<text class="c" x="473.7" y="480.7">0.16</text>
<text class="tj" x="388.4" y="287.0">Yield (g/g)</text>
<text class="ax" x="388.2" y="519.4">A: Gly</text>
<text class="ay" transform="translate(254.6 390.1) rotate(-90)">B: Temp</text>
<path fill="#fff" fill-rule="evenodd" d="M533 289H738V494H533ZM536.10 292.20H734.80V490.50H536.10Z"/>
<path class="k" d="M728.9 490.5 730.8 489.4 732.8 488.3 734.8 487.2M672.5 490.5 675.2 489.7 677.2 489.1 679.2 488.5 682.1 487.5 684.1 486.9 686.1 486.2 688.1 485.5 690.6 484.6 693.1 483.6 695.1 482.8 697.0 482.0 699.0 481.2 701.0 480.4 703.0 479.5 705.1 478.6 707.3 477.6 709.5 476.6 711.6 475.6 713.7 474.6 715.8 473.6 717.8 472.7 719.7 471.7 721.7 470.7 723.6 469.7 725.4 468.7 727.3 467.7 729.1 466.7 730.9 465.7 732.8 464.6 734.8 463.5M536.1 451.6 537.1 453.1 538.3 454.8 539.7 456.8 541.1 458.6 542.1 459.8 543.6 461.7 545.0 463.4 546.2 464.7 548.0 466.7 549.0 467.7 551.0 469.7 552.1 470.7 554.0 472.4 555.4 473.6 557.0 475.0 559.0 476.5 560.4 477.6 561.9 478.7 563.9 480.1 565.9 481.4 567.7 482.6 569.4 483.6 571.1 484.6 573.0 485.5 574.9 486.5 577.0 487.5 579.2 488.5 581.5 489.5 583.8 490.4 584.0 490.5M542.1 292.2 541.8 294.2 541.3 297.2 541.0 299.1 540.5 302.1 540.1 305.1 539.8 307.1 539.4 310.0 539.1 313.0 538.9 315.0 538.6 318.0 538.3 321.0 538.1 323.9 538.0 325.9 537.8 328.9 537.7 331.9 537.6 334.8 537.5 337.8 537.5 340.8 537.5 343.8 537.5 346.7 537.6 349.7 537.7 352.7 537.9 355.7 538.1 358.6 538.3 360.6 538.5 363.6 538.9 366.6 539.1 368.5 539.5 371.5 540.0 374.5 540.3 376.5 540.8 379.5 541.2 381.4 541.9 384.4 542.3 386.4 543.1 389.3 543.6 391.4 544.2 393.3 545.0 396.3 545.7 398.3 546.4 400.3 547.1 402.3 548.0 404.8 549.0 407.2 549.9 409.2 550.7 411.2 551.7 413.2 552.6 415.1 553.7 417.1 554.7 419.1 555.9 421.1 557.0 422.9 558.0 424.5 559.0 426.1 560.3 428.0 561.7 430.0 562.9 431.6 564.0 433.0 565.6 435.0 566.9 436.4 568.3 438.0 569.9 439.7 571.1 440.9 572.9 442.6 574.3 443.9 575.8 445.3 577.8 446.9 579.0 447.9 580.8 449.2 582.8 450.6 584.6 451.8 586.2 452.8 587.8 453.8 589.7 454.9 591.7 456.0 593.7 457.0 595.7 458.0 597.7 458.9 599.9 459.8 602.5 460.8 604.7 461.5 606.6 462.2 608.6 462.8 611.6 463.6 613.6 464.0 616.6 464.7 618.6 465.1 621.5 465.6 623.5 465.8 626.5 466.2 629.5 466.4 632.5 466.6 634.5 466.7 637.4 466.8 640.4 466.8 643.0 466.7 645.4 466.6 648.4 466.4 651.3 466.2 654.3 465.8 656.3 465.6 659.3 465.2 662.1 464.7 664.3 464.3 667.2 463.8 669.2 463.4 672.0 462.7 674.2 462.2 676.2 461.7 679.2 460.9 681.2 460.4 683.3 459.8 686.1 458.9 688.1 458.3 690.1 457.6 692.5 456.8 695.1 455.9 697.0 455.1 699.0 454.4 701.0 453.6 703.0 452.8 705.4 451.8 707.7 450.8 710.0 449.9 711.9 449.0 713.9 448.1 715.9 447.2 717.9 446.2 719.9 445.2 721.9 444.3 723.9 443.2 725.9 442.2 727.8 441.2 729.8 440.1 731.8 439.0 733.8 438.0 734.8 437.4M567.8 292.2 567.4 295.2 567.1 298.1 566.9 300.1 566.6 303.1 566.3 306.1 566.1 309.1 565.9 312.0 565.9 314.0 565.7 317.0 565.7 320.0 565.7 322.9 565.7 325.9 565.7 328.9 565.8 331.9 565.9 333.8 566.1 336.8 566.4 339.8 566.6 342.8 566.9 345.1 567.2 347.7 567.7 350.7 568.0 352.7 568.5 355.7 568.9 357.6 569.6 360.6 570.0 362.6 570.8 365.6 571.3 367.6 571.9 369.5 572.9 372.5 573.5 374.5 574.3 376.5 575.0 378.5 575.8 380.5 576.8 382.8 577.8 384.9 578.8 387.0 579.8 388.9 580.8 390.7 581.8 392.4 582.9 394.3 584.2 396.3 585.6 398.3 586.8 400.0 587.8 401.3 589.3 403.2 590.7 405.0 591.9 406.2 593.7 408.2 594.7 409.2 596.7 411.1 597.8 412.2 599.7 413.8 601.4 415.1 602.7 416.1 604.7 417.6 606.6 418.9 608.5 420.1 610.2 421.1 611.9 422.1 613.8 423.1 615.9 424.1 618.1 425.1 620.5 426.1 622.5 426.8 624.5 427.5 626.5 428.1 629.5 429.0 631.5 429.5 633.9 430.0 636.4 430.5 639.4 431.0 641.4 431.2 644.4 431.6 647.4 431.8 650.4 431.9 653.3 432.0 656.3 431.9 659.3 431.8 662.3 431.6 665.3 431.4 668.2 431.0 670.2 430.8 673.2 430.3 675.2 430.0 678.2 429.4 680.2 429.0 683.1 428.3 685.1 427.9 688.1 427.1 690.1 426.6 692.1 426.0 695.1 425.1 697.0 424.4 699.0 423.8 701.1 423.1 703.8 422.1 706.0 421.3 708.0 420.5 710.0 419.7 711.9 418.9 713.9 418.0 716.0 417.1 718.2 416.1 720.4 415.1 722.5 414.2 724.5 413.2 726.5 412.2 728.4 411.2 730.3 410.2 732.2 409.2 734.0 408.2 734.8 407.8M599.1 292.2 599.0 295.2 598.9 298.1 598.9 301.1 598.9 304.1 599.0 307.1 599.1 310.0 599.3 313.0 599.5 316.0 599.7 318.0 600.1 321.0 600.5 323.9 600.8 325.9 601.4 328.9 601.8 330.9 602.5 333.8 603.0 335.8 603.7 338.3 604.4 340.8 605.1 342.8 605.8 344.7 606.6 347.0 607.6 349.4 608.6 351.6 609.6 353.7 610.6 355.6 611.6 357.4 612.6 359.1 613.6 360.7 614.9 362.6 616.3 364.6 617.6 366.3 618.6 367.6 620.3 369.5 621.5 370.9 623.1 372.5 624.5 373.8 626.4 375.5 627.6 376.5 629.5 378.0 631.5 379.4 633.0 380.4 634.6 381.4 636.4 382.5 638.4 383.5 640.4 384.5 642.4 385.4 644.9 386.4 647.4 387.3 649.4 387.9 651.3 388.4 654.3 389.2 656.3 389.6 659.3 390.1 661.5 390.4 664.3 390.6 667.2 390.8 670.2 390.9 673.2 390.9 676.2 390.8 679.2 390.6 681.7 390.4 684.1 390.1 687.1 389.6 689.1 389.3 692.1 388.7 694.1 388.3 697.0 387.6 699.0 387.1 701.7 386.4 704.0 385.7 706.0 385.1 708.1 384.4 711.0 383.4 712.9 382.7 714.9 382.0 716.9 381.2 718.9 380.4 721.1 379.5 723.3 378.5 725.5 377.5 727.6 376.5 729.7 375.5 731.7 374.5 733.6 373.5 734.8 372.9M643.1 292.2 643.5 294.2 644.1 297.2 644.7 299.1 645.4 301.6 646.2 304.1 647.0 306.1 647.8 308.1 648.7 310.0 649.6 312.0 650.7 314.0 651.9 316.0 653.2 318.0 654.3 319.5 655.4 321.0 657.1 322.9 658.3 324.2 660.1 325.9 661.3 327.0 663.3 328.6 665.0 329.9 666.5 330.9 668.2 331.9 670.2 333.0 672.2 333.9 674.4 334.8 677.2 335.8 679.2 336.4 681.2 336.9 684.1 337.5 686.1 337.8 689.1 338.1 692.1 338.3 695.1 338.3 698.0 338.2 701.0 338.0 703.0 337.7 706.0 337.3 708.7 336.8 711.0 336.3 713.2 335.8 715.9 335.1 717.9 334.5 720.0 333.8 722.9 332.9 724.9 332.1 726.9 331.4 728.8 330.6 730.8 329.7 732.8 328.8 734.8 327.9"/>
<rect class="bd" x="536.1" y="292.2" width="198.7" height="198.3"/>
<text class="t" x="536.1" y="502.6" text-anchor="middle">52.5</text>
<text class="t" x="528.9" y="492.4" text-anchor="end">27.5</text>
<text class="t" x="575.8" y="502.6" text-anchor="middle">65.5</text>
<text class="t" x="528.9" y="452.7" text-anchor="end">28.5</text>
<text class="t" x="615.6" y="502.6" text-anchor="middle">78.5</text>
<text class="t" x="528.9" y="413.1" text-anchor="end">29.5</text>
<text class="t" x="655.3" y="502.6" text-anchor="middle">91.5</text>
<text class="t" x="528.9" y="373.4" text-anchor="end">30.5</text>
<text class="t" x="695.1" y="502.6" text-anchor="middle">104.5</text>
<text class="t" x="528.9" y="333.8" text-anchor="end">31.5</text>
<text class="t" x="729.0" y="502.6">117.</text>
<text class="t" x="528.9" y="294.1" text-anchor="end">32.5</text>
<path class="tk" d="M536.1 490.5v5.3M536.1 490.5h-5.3M575.8 490.5v5.3M536.1 450.8h-5.3M615.6 490.5v5.3M536.1 411.2h-5.3M655.3 490.5v5.3M536.1 371.5h-5.3M695.1 490.5v5.3M536.1 331.9h-5.3M734.8 490.5v5.3M536.1 292.2h-5.3"/>
<rect class="lb" x="669.5" y="330.0" width="12.0" height="5.6"/>
<text class="c" x="675.5" y="334.6">0.28</text>
<rect class="lb" x="628.9" y="378.3" width="12.0" height="5.6"/>
<text class="c" x="634.9" y="382.9">0.26</text>
<rect class="lb" x="598.0" y="414.2" width="12.0" height="5.6"/>
<text class="c" x="604.0" y="418.8">0.24</text>
<rect class="lb" x="594.7" y="456.7" width="12.0" height="5.6"/>
<text class="c" x="600.7" y="461.3">0.22</text>
<rect class="lb" x="549.9" y="469.8" width="8.9" height="5.6"/>
<text class="c" x="554.4" y="474.4">0.2</text>
<rect class="lb" x="703.0" y="472.3" width="8.9" height="5.6"/>
<text class="c" x="707.5" y="476.9">0.2</text>
<text class="tj" x="635.0" y="288.2">Yield (g/g)</text>
<text class="ax" x="634.9" y="519.8">A: Gly</text>
<text class="ay" transform="translate(501.5 391.0) rotate(-90)">B: Temp</text>
<text x="1.2" y="12.8" style="font-size:16.1px;fill:#000;stroke:#000;stroke-width:.3">A</text>
<text transform="translate(1.5 290.7) scale(.9 1)" style="font-size:15.6px;fill:#000;stroke:#000;stroke-width:.3">B</text>
<text x="99.0" y="540.6" style="font-size:13.2px;fill:#111;stroke:#111;stroke-width:.2">pH = 3.625</text>
<text x="354.0" y="543.4" style="font-size:13.2px;fill:#111;stroke:#111;stroke-width:.2">pH = 4.75</text>
<text x="597.0" y="543.7" style="font-size:13.2px;fill:#111;stroke:#111;stroke-width:.2">pH = 5.875</text>
<defs><linearGradient id="cb" x1="0" y1="0" x2="0" y2="1"><stop offset="0" stop-color="#f00"/><stop offset="0.5" stop-color="#0f0"/><stop offset="1" stop-color="#00f"/></linearGradient></defs>
<rect x="738.9" y="16.8" width="9.5" height="47.4" fill="url(#cb)" stroke="#5c5c5c" stroke-width="1.7"/>
<rect x="740.9" y="293.2" width="9.5" height="47.4" fill="url(#cb)" stroke="#5c5c5c" stroke-width="1.7"/>
<text x="750.1" y="25.9" style="font-size:11.7px;fill:#f00">28</text>
<text x="750.5" y="62.8" style="font-size:11.7px;fill:#4472c4">1.8</text>
<text x="752.1" y="302.3" style="font-size:11.7px;fill:#f00">0.293</text>
<text x="752.1" y="339.4" style="font-size:11.7px;fill:#4472c4">0.068</text>
</svg>
</body></html>
